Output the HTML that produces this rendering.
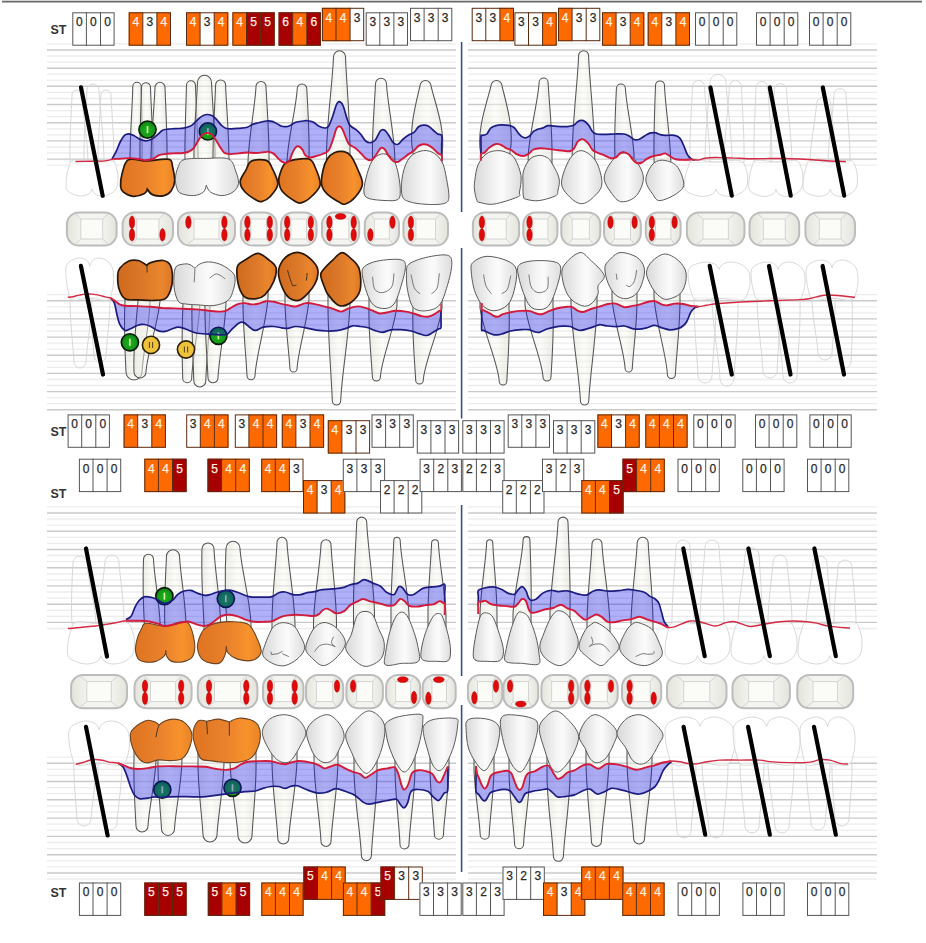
<!DOCTYPE html>
<html><head><meta charset="utf-8"><title>Periodontal chart</title>
<style>html,body{margin:0;padding:0;background:#fff;width:926px;height:943px;overflow:hidden;font-family:"Liberation Sans",sans-serif;}svg{display:block;}</style>
</head><body>
<svg width="926" height="943" viewBox="0 0 926 943"><defs><linearGradient id="orng" x1="0" y1="0" x2="1" y2="0"><stop offset="0" stop-color="#e07420"/><stop offset="0.45" stop-color="#e8802c"/><stop offset="0.8" stop-color="#f8922c"/><stop offset="1" stop-color="#e88428"/></linearGradient>
<linearGradient id="orng2" x1="0" y1="0" x2="1" y2="0"><stop offset="0" stop-color="#d06a1e"/><stop offset="0.5" stop-color="#dc7a2a"/><stop offset="0.8" stop-color="#ea862c"/><stop offset="1" stop-color="#dc7826"/></linearGradient>
<linearGradient id="whtg" x1="0" y1="0" x2="1" y2="0"><stop offset="0" stop-color="#d8d8d8"/><stop offset="0.45" stop-color="#f5f5f5"/><stop offset="0.6" stop-color="#fbfbfb"/><stop offset="1" stop-color="#dcdcdc"/></linearGradient>
<linearGradient id="rootg" x1="0" y1="0" x2="1" y2="0"><stop offset="0" stop-color="rgb(226,226,216)" stop-opacity="0.6"/><stop offset="0.5" stop-color="rgb(248,248,240)" stop-opacity="0.45"/><stop offset="1" stop-color="rgb(224,224,214)" stop-opacity="0.6"/></linearGradient>
<linearGradient id="occg" x1="0" y1="0" x2="1" y2="0"><stop offset="0" stop-color="#e4e4dc"/><stop offset="0.3" stop-color="#f4f4f0"/><stop offset="0.7" stop-color="#f4f4f0"/><stop offset="1" stop-color="#e4e4dc"/></linearGradient>
<radialGradient id="gg" cx="0.5" cy="0.55" r="0.6"><stop offset="0" stop-color="#20b020"/><stop offset="0.6" stop-color="#159a18"/><stop offset="1" stop-color="#0a6a0e"/></radialGradient>
<radialGradient id="tg" cx="0.45" cy="0.4" r="0.6"><stop offset="0" stop-color="#1a8a6a"/><stop offset="1" stop-color="#0a5a4a"/></radialGradient></defs><rect width="926" height="943" fill="#fff"/>
<line x1="2" y1="1.6" x2="922" y2="1.6" stroke="#6a6a6a" stroke-width="1.6"/>
<line x1="2" y1="0.3" x2="922" y2="0.3" stroke="#d0d0d0" stroke-width="0.8"/>
<line x1="47" y1="43.9" x2="456" y2="43.9" stroke="#ececec" stroke-width="1.3"/>
<line x1="468" y1="43.9" x2="877" y2="43.9" stroke="#ececec" stroke-width="1.3"/>
<line x1="47" y1="50" x2="456" y2="50" stroke="#cacaca" stroke-width="1.4"/>
<line x1="468" y1="50" x2="877" y2="50" stroke="#cacaca" stroke-width="1.4"/>
<line x1="47" y1="56" x2="456" y2="56" stroke="#ececec" stroke-width="1.3"/>
<line x1="468" y1="56" x2="877" y2="56" stroke="#ececec" stroke-width="1.3"/>
<line x1="47" y1="62.1" x2="456" y2="62.1" stroke="#ececec" stroke-width="1.3"/>
<line x1="468" y1="62.1" x2="877" y2="62.1" stroke="#ececec" stroke-width="1.3"/>
<line x1="47" y1="68.2" x2="456" y2="68.2" stroke="#cacaca" stroke-width="1.4"/>
<line x1="468" y1="68.2" x2="877" y2="68.2" stroke="#cacaca" stroke-width="1.4"/>
<line x1="47" y1="74.2" x2="456" y2="74.2" stroke="#ececec" stroke-width="1.3"/>
<line x1="468" y1="74.2" x2="877" y2="74.2" stroke="#ececec" stroke-width="1.3"/>
<line x1="47" y1="80.3" x2="456" y2="80.3" stroke="#ececec" stroke-width="1.3"/>
<line x1="468" y1="80.3" x2="877" y2="80.3" stroke="#ececec" stroke-width="1.3"/>
<line x1="47" y1="86.3" x2="456" y2="86.3" stroke="#cacaca" stroke-width="1.4"/>
<line x1="468" y1="86.3" x2="877" y2="86.3" stroke="#cacaca" stroke-width="1.4"/>
<line x1="47" y1="92.4" x2="456" y2="92.4" stroke="#ececec" stroke-width="1.3"/>
<line x1="468" y1="92.4" x2="877" y2="92.4" stroke="#ececec" stroke-width="1.3"/>
<line x1="47" y1="98.5" x2="456" y2="98.5" stroke="#ececec" stroke-width="1.3"/>
<line x1="468" y1="98.5" x2="877" y2="98.5" stroke="#ececec" stroke-width="1.3"/>
<line x1="47" y1="104.5" x2="456" y2="104.5" stroke="#cacaca" stroke-width="1.4"/>
<line x1="468" y1="104.5" x2="877" y2="104.5" stroke="#cacaca" stroke-width="1.4"/>
<line x1="47" y1="110.6" x2="456" y2="110.6" stroke="#ececec" stroke-width="1.3"/>
<line x1="468" y1="110.6" x2="877" y2="110.6" stroke="#ececec" stroke-width="1.3"/>
<line x1="47" y1="116.7" x2="456" y2="116.7" stroke="#ececec" stroke-width="1.3"/>
<line x1="468" y1="116.7" x2="877" y2="116.7" stroke="#ececec" stroke-width="1.3"/>
<line x1="47" y1="122.7" x2="456" y2="122.7" stroke="#cacaca" stroke-width="1.4"/>
<line x1="468" y1="122.7" x2="877" y2="122.7" stroke="#cacaca" stroke-width="1.4"/>
<line x1="47" y1="128.8" x2="456" y2="128.8" stroke="#ececec" stroke-width="1.3"/>
<line x1="468" y1="128.8" x2="877" y2="128.8" stroke="#ececec" stroke-width="1.3"/>
<line x1="47" y1="134.8" x2="456" y2="134.8" stroke="#ececec" stroke-width="1.3"/>
<line x1="468" y1="134.8" x2="877" y2="134.8" stroke="#ececec" stroke-width="1.3"/>
<line x1="47" y1="140.9" x2="456" y2="140.9" stroke="#cacaca" stroke-width="1.4"/>
<line x1="468" y1="140.9" x2="877" y2="140.9" stroke="#cacaca" stroke-width="1.4"/>
<line x1="47" y1="147" x2="456" y2="147" stroke="#ececec" stroke-width="1.3"/>
<line x1="468" y1="147" x2="877" y2="147" stroke="#ececec" stroke-width="1.3"/>
<line x1="47" y1="153" x2="456" y2="153" stroke="#ececec" stroke-width="1.3"/>
<line x1="468" y1="153" x2="877" y2="153" stroke="#ececec" stroke-width="1.3"/>
<line x1="47" y1="159.1" x2="456" y2="159.1" stroke="#cacaca" stroke-width="1.4"/>
<line x1="468" y1="159.1" x2="877" y2="159.1" stroke="#cacaca" stroke-width="1.4"/>
<line x1="47" y1="165.2" x2="456" y2="165.2" stroke="#ececec" stroke-width="1.3"/>
<line x1="468" y1="165.2" x2="877" y2="165.2" stroke="#ececec" stroke-width="1.3"/>
<line x1="47" y1="294.7" x2="456" y2="294.7" stroke="#ececec" stroke-width="1.3"/>
<line x1="468" y1="294.7" x2="877" y2="294.7" stroke="#ececec" stroke-width="1.3"/>
<line x1="47" y1="300.7" x2="456" y2="300.7" stroke="#cacaca" stroke-width="1.4"/>
<line x1="468" y1="300.7" x2="877" y2="300.7" stroke="#cacaca" stroke-width="1.4"/>
<line x1="47" y1="306.8" x2="456" y2="306.8" stroke="#ececec" stroke-width="1.3"/>
<line x1="468" y1="306.8" x2="877" y2="306.8" stroke="#ececec" stroke-width="1.3"/>
<line x1="47" y1="312.8" x2="456" y2="312.8" stroke="#ececec" stroke-width="1.3"/>
<line x1="468" y1="312.8" x2="877" y2="312.8" stroke="#ececec" stroke-width="1.3"/>
<line x1="47" y1="318.9" x2="456" y2="318.9" stroke="#cacaca" stroke-width="1.4"/>
<line x1="468" y1="318.9" x2="877" y2="318.9" stroke="#cacaca" stroke-width="1.4"/>
<line x1="47" y1="325" x2="456" y2="325" stroke="#ececec" stroke-width="1.3"/>
<line x1="468" y1="325" x2="877" y2="325" stroke="#ececec" stroke-width="1.3"/>
<line x1="47" y1="331" x2="456" y2="331" stroke="#ececec" stroke-width="1.3"/>
<line x1="468" y1="331" x2="877" y2="331" stroke="#ececec" stroke-width="1.3"/>
<line x1="47" y1="337.1" x2="456" y2="337.1" stroke="#cacaca" stroke-width="1.4"/>
<line x1="468" y1="337.1" x2="877" y2="337.1" stroke="#cacaca" stroke-width="1.4"/>
<line x1="47" y1="343.1" x2="456" y2="343.1" stroke="#ececec" stroke-width="1.3"/>
<line x1="468" y1="343.1" x2="877" y2="343.1" stroke="#ececec" stroke-width="1.3"/>
<line x1="47" y1="349.2" x2="456" y2="349.2" stroke="#ececec" stroke-width="1.3"/>
<line x1="468" y1="349.2" x2="877" y2="349.2" stroke="#ececec" stroke-width="1.3"/>
<line x1="47" y1="355.2" x2="456" y2="355.2" stroke="#cacaca" stroke-width="1.4"/>
<line x1="468" y1="355.2" x2="877" y2="355.2" stroke="#cacaca" stroke-width="1.4"/>
<line x1="47" y1="361.3" x2="456" y2="361.3" stroke="#ececec" stroke-width="1.3"/>
<line x1="468" y1="361.3" x2="877" y2="361.3" stroke="#ececec" stroke-width="1.3"/>
<line x1="47" y1="367.3" x2="456" y2="367.3" stroke="#ececec" stroke-width="1.3"/>
<line x1="468" y1="367.3" x2="877" y2="367.3" stroke="#ececec" stroke-width="1.3"/>
<line x1="47" y1="373.4" x2="456" y2="373.4" stroke="#cacaca" stroke-width="1.4"/>
<line x1="468" y1="373.4" x2="877" y2="373.4" stroke="#cacaca" stroke-width="1.4"/>
<line x1="47" y1="379.5" x2="456" y2="379.5" stroke="#ececec" stroke-width="1.3"/>
<line x1="468" y1="379.5" x2="877" y2="379.5" stroke="#ececec" stroke-width="1.3"/>
<line x1="47" y1="385.5" x2="456" y2="385.5" stroke="#ececec" stroke-width="1.3"/>
<line x1="468" y1="385.5" x2="877" y2="385.5" stroke="#ececec" stroke-width="1.3"/>
<line x1="47" y1="391.6" x2="456" y2="391.6" stroke="#cacaca" stroke-width="1.4"/>
<line x1="468" y1="391.6" x2="877" y2="391.6" stroke="#cacaca" stroke-width="1.4"/>
<line x1="47" y1="397.6" x2="456" y2="397.6" stroke="#ececec" stroke-width="1.3"/>
<line x1="468" y1="397.6" x2="877" y2="397.6" stroke="#ececec" stroke-width="1.3"/>
<line x1="47" y1="403.7" x2="456" y2="403.7" stroke="#ececec" stroke-width="1.3"/>
<line x1="468" y1="403.7" x2="877" y2="403.7" stroke="#ececec" stroke-width="1.3"/>
<line x1="47" y1="409.7" x2="456" y2="409.7" stroke="#cacaca" stroke-width="1.4"/>
<line x1="468" y1="409.7" x2="877" y2="409.7" stroke="#cacaca" stroke-width="1.4"/>
<line x1="47" y1="506.9" x2="456" y2="506.9" stroke="#ececec" stroke-width="1.3"/>
<line x1="468" y1="506.9" x2="877" y2="506.9" stroke="#ececec" stroke-width="1.3"/>
<line x1="47" y1="513" x2="456" y2="513" stroke="#cacaca" stroke-width="1.4"/>
<line x1="468" y1="513" x2="877" y2="513" stroke="#cacaca" stroke-width="1.4"/>
<line x1="47" y1="519.1" x2="456" y2="519.1" stroke="#ececec" stroke-width="1.3"/>
<line x1="468" y1="519.1" x2="877" y2="519.1" stroke="#ececec" stroke-width="1.3"/>
<line x1="47" y1="525.1" x2="456" y2="525.1" stroke="#ececec" stroke-width="1.3"/>
<line x1="468" y1="525.1" x2="877" y2="525.1" stroke="#ececec" stroke-width="1.3"/>
<line x1="47" y1="531.2" x2="456" y2="531.2" stroke="#cacaca" stroke-width="1.4"/>
<line x1="468" y1="531.2" x2="877" y2="531.2" stroke="#cacaca" stroke-width="1.4"/>
<line x1="47" y1="537.3" x2="456" y2="537.3" stroke="#ececec" stroke-width="1.3"/>
<line x1="468" y1="537.3" x2="877" y2="537.3" stroke="#ececec" stroke-width="1.3"/>
<line x1="47" y1="543.4" x2="456" y2="543.4" stroke="#ececec" stroke-width="1.3"/>
<line x1="468" y1="543.4" x2="877" y2="543.4" stroke="#ececec" stroke-width="1.3"/>
<line x1="47" y1="549.5" x2="456" y2="549.5" stroke="#cacaca" stroke-width="1.4"/>
<line x1="468" y1="549.5" x2="877" y2="549.5" stroke="#cacaca" stroke-width="1.4"/>
<line x1="47" y1="555.5" x2="456" y2="555.5" stroke="#ececec" stroke-width="1.3"/>
<line x1="468" y1="555.5" x2="877" y2="555.5" stroke="#ececec" stroke-width="1.3"/>
<line x1="47" y1="561.6" x2="456" y2="561.6" stroke="#ececec" stroke-width="1.3"/>
<line x1="468" y1="561.6" x2="877" y2="561.6" stroke="#ececec" stroke-width="1.3"/>
<line x1="47" y1="567.7" x2="456" y2="567.7" stroke="#cacaca" stroke-width="1.4"/>
<line x1="468" y1="567.7" x2="877" y2="567.7" stroke="#cacaca" stroke-width="1.4"/>
<line x1="47" y1="573.8" x2="456" y2="573.8" stroke="#ececec" stroke-width="1.3"/>
<line x1="468" y1="573.8" x2="877" y2="573.8" stroke="#ececec" stroke-width="1.3"/>
<line x1="47" y1="579.9" x2="456" y2="579.9" stroke="#ececec" stroke-width="1.3"/>
<line x1="468" y1="579.9" x2="877" y2="579.9" stroke="#ececec" stroke-width="1.3"/>
<line x1="47" y1="585.9" x2="456" y2="585.9" stroke="#cacaca" stroke-width="1.4"/>
<line x1="468" y1="585.9" x2="877" y2="585.9" stroke="#cacaca" stroke-width="1.4"/>
<line x1="47" y1="592" x2="456" y2="592" stroke="#ececec" stroke-width="1.3"/>
<line x1="468" y1="592" x2="877" y2="592" stroke="#ececec" stroke-width="1.3"/>
<line x1="47" y1="598.1" x2="456" y2="598.1" stroke="#ececec" stroke-width="1.3"/>
<line x1="468" y1="598.1" x2="877" y2="598.1" stroke="#ececec" stroke-width="1.3"/>
<line x1="47" y1="604.2" x2="456" y2="604.2" stroke="#cacaca" stroke-width="1.4"/>
<line x1="468" y1="604.2" x2="877" y2="604.2" stroke="#cacaca" stroke-width="1.4"/>
<line x1="47" y1="610.3" x2="456" y2="610.3" stroke="#ececec" stroke-width="1.3"/>
<line x1="468" y1="610.3" x2="877" y2="610.3" stroke="#ececec" stroke-width="1.3"/>
<line x1="47" y1="616.3" x2="456" y2="616.3" stroke="#ececec" stroke-width="1.3"/>
<line x1="468" y1="616.3" x2="877" y2="616.3" stroke="#ececec" stroke-width="1.3"/>
<line x1="47" y1="622.4" x2="456" y2="622.4" stroke="#cacaca" stroke-width="1.4"/>
<line x1="468" y1="622.4" x2="877" y2="622.4" stroke="#cacaca" stroke-width="1.4"/>
<line x1="47" y1="628.5" x2="456" y2="628.5" stroke="#ececec" stroke-width="1.3"/>
<line x1="468" y1="628.5" x2="877" y2="628.5" stroke="#ececec" stroke-width="1.3"/>
<line x1="47" y1="757.1" x2="456" y2="757.1" stroke="#ececec" stroke-width="1.3"/>
<line x1="468" y1="757.1" x2="877" y2="757.1" stroke="#ececec" stroke-width="1.3"/>
<line x1="47" y1="763.2" x2="456" y2="763.2" stroke="#cacaca" stroke-width="1.4"/>
<line x1="468" y1="763.2" x2="877" y2="763.2" stroke="#cacaca" stroke-width="1.4"/>
<line x1="47" y1="769.3" x2="456" y2="769.3" stroke="#ececec" stroke-width="1.3"/>
<line x1="468" y1="769.3" x2="877" y2="769.3" stroke="#ececec" stroke-width="1.3"/>
<line x1="47" y1="775.4" x2="456" y2="775.4" stroke="#ececec" stroke-width="1.3"/>
<line x1="468" y1="775.4" x2="877" y2="775.4" stroke="#ececec" stroke-width="1.3"/>
<line x1="47" y1="781.5" x2="456" y2="781.5" stroke="#cacaca" stroke-width="1.4"/>
<line x1="468" y1="781.5" x2="877" y2="781.5" stroke="#cacaca" stroke-width="1.4"/>
<line x1="47" y1="787.6" x2="456" y2="787.6" stroke="#ececec" stroke-width="1.3"/>
<line x1="468" y1="787.6" x2="877" y2="787.6" stroke="#ececec" stroke-width="1.3"/>
<line x1="47" y1="793.7" x2="456" y2="793.7" stroke="#ececec" stroke-width="1.3"/>
<line x1="468" y1="793.7" x2="877" y2="793.7" stroke="#ececec" stroke-width="1.3"/>
<line x1="47" y1="799.8" x2="456" y2="799.8" stroke="#cacaca" stroke-width="1.4"/>
<line x1="468" y1="799.8" x2="877" y2="799.8" stroke="#cacaca" stroke-width="1.4"/>
<line x1="47" y1="805.9" x2="456" y2="805.9" stroke="#ececec" stroke-width="1.3"/>
<line x1="468" y1="805.9" x2="877" y2="805.9" stroke="#ececec" stroke-width="1.3"/>
<line x1="47" y1="812" x2="456" y2="812" stroke="#ececec" stroke-width="1.3"/>
<line x1="468" y1="812" x2="877" y2="812" stroke="#ececec" stroke-width="1.3"/>
<line x1="47" y1="818.1" x2="456" y2="818.1" stroke="#cacaca" stroke-width="1.4"/>
<line x1="468" y1="818.1" x2="877" y2="818.1" stroke="#cacaca" stroke-width="1.4"/>
<line x1="47" y1="824.2" x2="456" y2="824.2" stroke="#ececec" stroke-width="1.3"/>
<line x1="468" y1="824.2" x2="877" y2="824.2" stroke="#ececec" stroke-width="1.3"/>
<line x1="47" y1="830.3" x2="456" y2="830.3" stroke="#ececec" stroke-width="1.3"/>
<line x1="468" y1="830.3" x2="877" y2="830.3" stroke="#ececec" stroke-width="1.3"/>
<line x1="47" y1="836.4" x2="456" y2="836.4" stroke="#cacaca" stroke-width="1.4"/>
<line x1="468" y1="836.4" x2="877" y2="836.4" stroke="#cacaca" stroke-width="1.4"/>
<line x1="47" y1="842.5" x2="456" y2="842.5" stroke="#ececec" stroke-width="1.3"/>
<line x1="468" y1="842.5" x2="877" y2="842.5" stroke="#ececec" stroke-width="1.3"/>
<line x1="47" y1="848.6" x2="456" y2="848.6" stroke="#ececec" stroke-width="1.3"/>
<line x1="468" y1="848.6" x2="877" y2="848.6" stroke="#ececec" stroke-width="1.3"/>
<line x1="47" y1="854.7" x2="456" y2="854.7" stroke="#cacaca" stroke-width="1.4"/>
<line x1="468" y1="854.7" x2="877" y2="854.7" stroke="#cacaca" stroke-width="1.4"/>
<line x1="47" y1="860.8" x2="456" y2="860.8" stroke="#ececec" stroke-width="1.3"/>
<line x1="468" y1="860.8" x2="877" y2="860.8" stroke="#ececec" stroke-width="1.3"/>
<line x1="47" y1="866.9" x2="456" y2="866.9" stroke="#ececec" stroke-width="1.3"/>
<line x1="468" y1="866.9" x2="877" y2="866.9" stroke="#ececec" stroke-width="1.3"/>
<line x1="47" y1="873" x2="456" y2="873" stroke="#cacaca" stroke-width="1.4"/>
<line x1="468" y1="873" x2="877" y2="873" stroke="#cacaca" stroke-width="1.4"/>
<line x1="47" y1="879.1" x2="456" y2="879.1" stroke="#ececec" stroke-width="1.3"/>
<line x1="468" y1="879.1" x2="877" y2="879.1" stroke="#ececec" stroke-width="1.3"/>
<line x1="461.6" y1="42" x2="461.6" y2="212" stroke="#34508a" stroke-width="1.6"/>
<line x1="461.6" y1="248" x2="461.6" y2="418.5" stroke="#34508a" stroke-width="1.6"/>
<line x1="461.6" y1="505" x2="461.6" y2="676" stroke="#34508a" stroke-width="1.6"/>
<line x1="461.6" y1="705" x2="461.6" y2="872" stroke="#34508a" stroke-width="1.6"/>
<path d="M70 162 L70 162 C69.4 139.9 71.4 111.8 72 95 A5 5 0 0 1 82 95 C82.6 111.8 87.6 139.9 88 162 L88 162 Z" fill="none" stroke="#d4d4d4" stroke-width="0.9"/><path d="M84 162 L84 162 C83.5 138.2 86.3 108 87 90 A6 6 0 0 1 99 90 C99.7 108 104 138.2 104 162 L104 162 Z" fill="none" stroke="#d4d4d4" stroke-width="0.9"/><path d="M98 162 L98 162 C97.8 139.9 100.4 111.8 101 95 A5 5 0 0 1 111 95 C111.6 111.8 114.2 139.9 114 162 L114 162 Z" fill="none" stroke="#d4d4d4" stroke-width="0.9"/>
<path d="M73.3 160 C77.2 158.9 85.7 161.4 92 161.4 C98.3 161.4 107.2 158.9 111.2 160 C115.3 161.1 115.3 164.9 116.4 167.9 C117.6 170.9 118 174.6 118 178 C118 181.4 117.8 185.4 116.4 188.1 C115.1 190.8 112.2 192.9 109.7 194.2 C107.2 195.5 103.9 196.1 101.4 196 C98.8 195.9 96.2 194.7 94.6 193.5 C93 192.3 92 188.8 92 188.8 C92 188.8 91.1 192.3 89.4 193.5 C87.7 194.7 84.5 195.9 81.6 196 C78.7 196.1 74.8 195 72.2 193.8 C69.7 192.6 67.5 191.4 66.5 188.8 C65.6 186.2 66.2 181.5 66.5 178 C66.9 174.5 67.5 170.9 68.6 167.9 C69.7 164.9 69.4 161.1 73.3 160 Z" fill="rgba(255,255,255,0.6)" stroke="#d4d4d4" stroke-width="0.9"/>
<path d="M690 162.5 L690 162.5 C689.4 137.4 691.8 105.5 692.5 86.5 A6 6 0 0 1 704.5 86.5 C705.2 105.5 709.8 137.4 710 162.5 L710 162.5 Z" fill="none" stroke="#d4d4d4" stroke-width="0.9"/><path d="M705 162.5 L705 162.5 C704.6 136.1 709 102.4 710 82.4 A8 8 0 0 1 726 82.4 C727 102.4 732.1 136.1 732 162.5 L732 162.5 Z" fill="none" stroke="#d4d4d4" stroke-width="0.9"/><path d="M724 162.5 L724 162.5 C724.1 137.4 728.7 105.5 729.4 86.5 A6 6 0 0 1 741.4 86.5 C742.1 105.5 744.6 137.4 744 162.5 L744 162.5 Z" fill="none" stroke="#d4d4d4" stroke-width="0.9"/>
<path d="M693.3 160.5 C698.1 159.4 708.4 161.9 716.1 161.9 C723.8 161.9 734.5 159.4 739.5 160.5 C744.4 161.6 744.4 165.4 745.8 168.4 C747.2 171.4 747.7 175.1 747.7 178.4 C747.7 181.8 747.5 185.8 745.8 188.5 C744.1 191.2 740.6 193.3 737.6 194.6 C734.5 195.9 730.5 196.5 727.5 196.4 C724.4 196.3 721.2 195.1 719.3 193.9 C717.4 192.7 716.1 189.2 716.1 189.2 C716.1 189.2 715 192.7 712.9 193.9 C710.8 195.1 706.9 196.3 703.5 196.4 C700 196.5 695.1 195.4 692.1 194.2 C689 193 686.3 191.9 685.1 189.2 C684 186.6 684.7 181.9 685.1 178.4 C685.6 175 686.3 171.4 687.7 168.4 C689 165.4 688.6 161.6 693.3 160.5 Z" fill="rgba(255,255,255,0.6)" stroke="#d4d4d4" stroke-width="0.9"/>
<path d="M754 162.5 L754 162.5 C753.4 137.8 755.4 106.2 756 87.5 A6 6 0 0 1 768 87.5 C768.6 106.2 772.1 137.8 772 162.5 L772 162.5 Z" fill="none" stroke="#d4d4d4" stroke-width="0.9"/><path d="M770 162.5 L770 162.5 C769.8 138.4 773.7 107.8 774.5 89.6 A6 6 0 0 1 786.5 89.6 C787.3 107.8 791.9 138.4 792 162.5 L792 162.5 Z" fill="none" stroke="#d4d4d4" stroke-width="0.9"/>
<path d="M756.3 160.5 C760.4 159.4 769.2 161.9 775.9 161.9 C782.5 161.9 791.7 159.4 795.9 160.5 C800.2 161.6 800.2 165.4 801.4 168.4 C802.5 171.4 803 175.1 803 178.4 C803 181.8 802.8 185.8 801.4 188.5 C799.9 191.2 796.9 193.3 794.3 194.6 C791.7 195.9 788.2 196.5 785.6 196.4 C783 196.3 780.2 195.1 778.6 193.9 C776.9 192.7 775.9 189.2 775.9 189.2 C775.9 189.2 774.9 192.7 773.1 193.9 C771.3 195.1 768 196.3 765 196.4 C762 196.5 757.8 195.4 755.2 194.2 C752.6 193 750.2 191.9 749.2 189.2 C748.2 186.6 748.9 181.9 749.2 178.4 C749.6 175 750.2 171.4 751.4 168.4 C752.6 165.4 752.2 161.6 756.3 160.5 Z" fill="rgba(255,255,255,0.6)" stroke="#d4d4d4" stroke-width="0.9"/>
<path d="M810 162.5 L810 162.5 C810.1 143.2 815.7 118.6 816.6 104 A7 7 0 0 1 830.6 104 C831.5 118.6 836.2 143.2 836 162.5 L836 162.5 Z" fill="none" stroke="#d4d4d4" stroke-width="0.9"/><path d="M828 162.5 L828 162.5 C828.2 140.1 833.2 111.7 834 94.7 A6 6 0 0 1 846 94.7 C846.8 111.7 850.3 140.1 850 162.5 L850 162.5 Z" fill="none" stroke="#d4d4d4" stroke-width="0.9"/>
<path d="M810.6 160.5 C814.7 159.4 823.6 161.9 830.2 161.9 C836.9 161.9 846.1 159.4 850.4 160.5 C854.7 161.6 854.7 165.4 855.9 168.4 C857 171.4 857.5 175.1 857.5 178.4 C857.5 181.8 857.3 185.8 855.9 188.5 C854.4 191.2 851.4 193.3 848.8 194.6 C846.1 195.9 842.7 196.5 840.1 196.4 C837.4 196.3 834.6 195.1 833 193.9 C831.3 192.7 830.2 189.2 830.2 189.2 C830.2 189.2 829.3 192.7 827.5 193.9 C825.7 195.1 822.3 196.3 819.4 196.4 C816.4 196.5 812.2 195.4 809.5 194.2 C806.9 193 804.5 191.9 803.5 189.2 C802.5 186.6 803.2 181.9 803.5 178.4 C803.9 175 804.5 171.4 805.7 168.4 C806.9 165.4 806.5 161.6 810.6 160.5 Z" fill="rgba(255,255,255,0.6)" stroke="#d4d4d4" stroke-width="0.9"/>
<path d="M130 175.9 L130 160.8 C130 136.3 132.4 105.1 132.8 86.5 A4.2 4.2 0 0 1 141.2 86.5 C141.6 105.1 142.5 136.3 142 160.8 L142 175.9 Z" fill="url(#rootg)" stroke="#555" stroke-width="1.05"/><path d="M140 175.9 L140 160.8 C139.6 136.5 141 105.6 141.5 87.2 A4.5 4.5 0 0 1 150.5 87.2 C151 105.6 153.2 136.5 153 160.8 L153 175.9 Z" fill="url(#rootg)" stroke="#555" stroke-width="1.05"/><path d="M151 175.9 L151 160.8 C151 136.5 154.4 105.7 155 87.3 A5 5 0 0 1 165 87.3 C165.6 105.7 167.5 136.5 167 160.8 L167 175.9 Z" fill="url(#rootg)" stroke="#555" stroke-width="1.05"/>
<path d="M185 175.8 L185 160.8 C184.6 135.9 186 104.2 186.5 85.3 A4.5 4.5 0 0 1 195.5 85.3 C196 104.2 198.2 135.9 198 160.8 L198 175.8 Z" fill="url(#rootg)" stroke="#555" stroke-width="1.05"/><path d="M194 175.8 L194 160.8 C193.6 134.9 196.7 101.9 197.5 82.3 A7 7 0 0 1 211.5 82.3 C212.3 101.9 215.4 134.9 215 160.8 L215 175.8 Z" fill="url(#rootg)" stroke="#555" stroke-width="1.05"/><path d="M213 175.8 L213 160.8 C212.7 135.8 215 103.9 215.6 84.9 A5 5 0 0 1 225.6 84.9 C226.2 103.9 229.1 135.8 229 160.8 L229 175.8 Z" fill="url(#rootg)" stroke="#555" stroke-width="1.05"/>
<path d="M248 178.7 L248 162 C248.7 137.1 255.2 105.4 256 86.5 A5 5 0 0 1 266 86.5 C266.8 105.4 269.5 137.1 269 162 L269 178.7 Z" fill="url(#rootg)" stroke="#555" stroke-width="1.05"/>
<path d="M287 179.1 L287 160.8 C288.2 137 296.4 106.7 297.2 88.7 A4.8 4.8 0 0 1 306.8 88.7 C307.6 106.7 309.8 137 309 160.8 L309 179.1 Z" fill="url(#rootg)" stroke="#555" stroke-width="1.05"/>
<path d="M326.5 175.7 L326.5 153.7 C326.8 121.7 332.7 81 333.5 56.8 A6 6 0 0 1 345.5 56.8 C346.3 81 350.3 121.7 350 153.7 L350 175.7 Z" fill="url(#rootg)" stroke="#555" stroke-width="1.05"/>
<path d="M372.5 175.2 L372.5 157 C371.9 132.8 374.7 102.1 375.5 83.8 A5.5 5.5 0 0 1 386.5 83.8 C387.3 102.1 394.1 132.8 394.8 157 L394.8 175.2 Z" fill="url(#rootg)" stroke="#555" stroke-width="1.05"/>
<path d="M413 174.6 L413 152.5 C408.2 130.5 416.1 102.6 420 85.9 A5.5 5.5 0 0 1 431 85.9 C434.9 102.6 445.8 130.5 442 152.5 L442 174.6 Z" fill="url(#rootg)" stroke="#555" stroke-width="1.05"/>
<path d="M480.5 174.6 L480.5 152 C476.5 130.2 487 102.4 491 85.9 A5.5 5.5 0 0 1 502 85.9 C506 102.4 514.6 130.2 510 152 L510 174.6 Z" fill="url(#rootg)" stroke="#555" stroke-width="1.05"/>
<path d="M528.2 175 L528.2 156 C529.5 131.7 538.2 100.9 539.1 82.5 A4.5 4.5 0 0 1 548.1 82.5 C549 100.9 552.5 131.7 552 156 L552 175 Z" fill="url(#rootg)" stroke="#555" stroke-width="1.05"/>
<path d="M572.2 175.8 L572.2 153.5 C572.5 121.2 577.8 80.2 578.6 55.7 A5 5 0 0 1 588.6 55.7 C589.4 80.2 594.5 121.2 594.7 153.5 L594.7 175.8 Z" fill="url(#rootg)" stroke="#555" stroke-width="1.05"/>
<path d="M614.9 175.1 L614.9 155 C614.1 133.1 615.7 105.1 616.4 88.5 A4.5 4.5 0 0 1 625.4 88.5 C626.1 105.1 633 133.1 634 155 L634 175.1 Z" fill="url(#rootg)" stroke="#555" stroke-width="1.05"/>
<path d="M654.1 177.8 L654.1 161 C653.4 136.1 654.9 104.3 655.5 85.4 A4.5 4.5 0 0 1 664.5 85.4 C665.1 104.3 670.2 136.1 670.8 161 L670.8 177.8 Z" fill="url(#rootg)" stroke="#555" stroke-width="1.05"/>
<circle cx="147.5" cy="129.6" r="8.6" fill="url(#gg)" stroke="#0a1a0a" stroke-width="1.6"/><line x1="147.5" y1="126.1" x2="147.5" y2="133.1" stroke="#d8f0a0" stroke-width="1.6"/>
<circle cx="207.9" cy="131.4" r="8.6" fill="url(#gg)" stroke="#0a1a0a" stroke-width="1.6"/><line x1="207.9" y1="127.9" x2="207.9" y2="134.9" stroke="#d8f0a0" stroke-width="1.6"/>
<path d="M112 159 C112.7 157.7 114.8 154.2 116.2 151.3 C117.6 148.4 119 144.2 120.4 141.5 C121.8 138.8 123.3 136.5 124.7 135.2 C126.1 133.9 127.3 133.7 128.9 133.8 C130.5 133.9 132.6 135 134.5 135.9 C136.4 136.8 138.2 138.6 140.1 139.4 C142 140.2 143.8 140.8 145.7 140.8 C147.6 140.8 149.4 140.3 151.3 139.4 C153.2 138.5 155.1 136.7 157 135.2 C158.9 133.7 160.7 131.3 162.6 130.3 C164.5 129.3 166.1 129.4 168.2 129.1 C170.3 128.8 172.6 128.8 175.2 128.6 C177.8 128.4 181 128.6 183.6 128.2 C186.2 127.8 188.7 127 190.6 126.1 C192.5 125.1 193.4 123.8 194.8 122.5 C196.2 121.2 197.7 119.5 199.1 118.3 C200.5 117.1 201.9 116.1 203.3 115.5 C204.7 114.9 205.9 114.4 207.5 114.5 C209.1 114.6 211.5 115.2 213.1 116.2 C214.7 117.2 215.9 118.9 217.3 120.4 C218.7 121.9 220.1 124.1 221.5 125.4 C222.9 126.7 224 127.6 225.7 128.2 C227.3 128.8 229.2 128.9 231.4 128.9 C233.6 128.9 235.9 128.6 238.6 128.3 C241.2 128 245 128 247.3 127.3 C249.6 126.6 250.6 125.2 252.5 124.4 C254.4 123.6 256.2 123.3 258.5 122.7 C260.8 122.1 264 121.2 266.3 121 C268.6 120.8 270.4 120.9 272.3 121.4 C274.2 121.9 275.9 123.2 277.5 124 C279.1 124.8 280.2 125.8 281.8 126.2 C283.4 126.6 285.6 126.8 287 126.6 C288.4 126.4 289.1 126 290.5 125.3 C291.9 124.6 293.6 123 295.7 122.3 C297.8 121.6 301.5 121.3 303.4 121 C305.3 120.7 305.4 120.5 307 120.7 C308.6 120.9 311 121.1 313 122 C315 122.9 317 125.3 319 126.3 C321 127.3 323.4 128 325 128 C326.6 128 327.2 128.3 328.5 126.3 C329.8 124.3 331.5 119.5 332.8 116 C334.1 112.5 335.2 107.4 336.3 105 C337.4 102.6 338.2 101.5 339.3 101.7 C340.4 101.9 342 103.3 343.2 106 C344.4 108.7 345.6 114.4 346.7 117.6 C347.8 120.8 348.4 123.4 350 125.4 C351.6 127.4 354.2 128.3 356 129.7 C357.8 131.1 358.9 132.1 360.5 134 C362.1 135.9 363.9 139.6 365.7 141 C367.4 142.4 369.3 142.9 371 142.7 C372.7 142.4 374.1 141.5 375.7 139.5 C377.3 137.5 379.1 132.4 380.5 130.8 C381.9 129.2 383.1 129.3 384.4 130 C385.7 130.7 386.9 132.7 388.4 134.8 C389.9 136.9 391.6 141.1 393.2 142.7 C394.8 144.3 396.4 144.8 398 144.3 C399.6 143.8 400.9 141.1 402.7 139.5 C404.5 137.9 407.1 136 409 134.8 C410.9 133.6 412.3 133.7 413.9 132.4 C415.5 131.1 417 128 418.6 126.8 C420.2 125.6 421.8 125.3 423.4 125.2 C425 125.1 426.6 125.2 428.2 126 C429.8 126.8 431.4 128.7 433 130 C434.6 131.3 436.2 133.1 437.7 134 C439.1 134.9 441 135.3 441.7 135.6 L441.7 155.4 C441 155 439.1 154.2 437.7 153 C436.2 151.8 434.6 149.6 433 148.3 C431.4 147 429.8 145.8 428.2 145.1 C426.6 144.4 425 144.2 423.4 144.3 C421.8 144.4 420.2 144.8 418.6 145.9 C417 147 415.5 149.4 413.9 150.7 C412.3 152 410.9 152.6 409 153.9 C407.1 155.2 404.5 157.3 402.7 158.6 C400.9 159.9 399.6 161.4 398 161.8 C396.4 162.2 394.8 162.1 393.2 161 C391.6 159.9 389.9 157.4 388.4 155.4 C386.9 153.4 385.7 150.2 384.4 149 C383.1 147.8 381.9 147.2 380.5 148.3 C379.1 149.4 377.3 153.4 375.7 155.4 C374.1 157.4 372.6 159.7 371 160.2 C369.4 160.7 367.6 159.6 366 158.6 C364.4 157.6 363.2 155.7 361.4 153.9 C359.6 152.1 357.3 149.5 355.3 147.9 C353.3 146.3 350.8 146.1 349.2 144.4 C347.6 142.7 346.9 140.1 345.8 137.5 C344.7 134.9 343.4 130.8 342.3 128.9 C341.2 127 340.3 126.3 339.3 126.3 C338.3 126.3 337.4 126.6 336.3 128.9 C335.2 131.2 334.1 136.5 332.8 140.1 C331.5 143.7 330.2 148.2 328.5 150.5 C326.8 152.8 324.4 153.1 322.5 154 C320.6 154.9 319.4 155.1 317.3 155.7 C315.2 156.3 312 157.6 310 157.5 C308 157.4 306.4 156.4 305.2 155.1 C304 153.8 303.6 151.3 302.6 149.9 C301.6 148.5 300.2 146.9 299.1 146.5 C298 146.1 296.9 146.2 295.7 147.3 C294.5 148.5 293.2 151.2 292.2 153.4 C291.2 155.6 290.6 158.7 289.6 160.3 C288.6 161.9 287.5 162.7 286.2 162.9 C284.9 163.1 283.2 162.5 281.8 161.6 C280.4 160.7 278.9 159.1 277.5 157.7 C276.1 156.3 274.8 154.4 273.2 153.4 C271.6 152.4 269.4 151.9 268 151.7 C266.6 151.5 266.6 151.9 264.6 152.1 C262.6 152.3 258.8 152.9 255.9 153 C253 153.1 250.2 152.4 247.3 152.5 C244.4 152.6 241.5 153.1 238.6 153.4 C235.7 153.7 232.3 154.2 229.9 154.1 C227.5 154 225.9 153.9 224.3 152.7 C222.7 151.5 221.5 149.2 220.1 147.1 C218.7 145 217.3 142.2 215.9 140.1 C214.5 138 213.3 135.7 211.7 134.5 C210.1 133.3 207.7 133 206.1 133.1 C204.5 133.2 203.3 133.8 201.9 135.2 C200.5 136.6 199.1 139.3 197.7 141.5 C196.3 143.7 195.1 146.8 193.4 148.5 C191.8 150.2 189.9 151.2 187.8 152 C185.7 152.8 183.4 153 180.8 153.2 C178.2 153.4 175.2 153.2 172.4 153.4 C169.6 153.6 166.3 153.8 164 154.1 C161.7 154.4 160.2 154.7 158.3 155.5 C156.4 156.3 154.8 158.2 152.7 159 C150.6 159.8 148 160.2 145.7 160.2 C143.4 160.2 141.3 159.3 138.7 159 C136.1 158.7 133.1 158.2 130.3 158.1 C127.5 158 124.6 158.4 121.8 158.6 C119 158.8 114.8 158.9 113.4 159 Z" fill="rgba(12,12,240,0.33)"/>
<path d="M481 135.9 C481.3 135.8 482 135.6 483 135.3 C484 135 485.5 135.2 486.8 134 C488.1 132.8 489.2 129.5 490.7 128.1 C492.2 126.7 493.9 126.1 495.9 125.6 C497.8 125.1 500.2 125 502.4 124.9 C504.6 124.9 507 124.9 508.9 125.3 C510.8 125.7 512.5 126.3 514 127.5 C515.5 128.7 516.7 131.2 518 132.7 C519.3 134.2 520.5 135.7 521.8 136.6 C523.1 137.5 524.4 138 525.7 137.9 C527 137.8 528.3 137 529.6 135.9 C530.9 134.8 532.2 132.5 533.5 131.4 C534.8 130.3 535.9 130 537.4 129.4 C538.9 128.8 540.9 128.7 542.6 128.1 C544.3 127.5 545.9 125.9 547.8 125.6 C549.7 125.3 552.1 126 554.2 126.2 C556.4 126.4 558.5 126.5 560.7 126.6 C562.9 126.7 565 126.8 567.2 126.6 C569.4 126.4 572 126.1 573.7 125.3 C575.4 124.5 576.3 122.5 577.6 121.7 C578.9 120.9 580.1 120.4 581.4 120.4 C582.7 120.4 584 120.8 585.3 121.7 C586.5 122.6 587.6 123.9 588.9 125.6 C590.1 127.3 591.5 130.6 592.8 132 C594.1 133.4 594.8 133.6 596.7 134 C598.6 134.4 601.4 134.4 604.4 134.4 C607.4 134.4 611.5 134.1 614.8 134 C618 133.9 621.5 133.7 623.9 134 C626.3 134.3 627.4 135 629.1 135.9 C630.8 136.8 632.5 138.9 634.2 139.5 C635.9 140.1 637.7 139.8 639.4 139.2 C641.1 138.6 642.9 136.9 644.6 135.9 C646.3 134.9 648.1 133.6 649.8 133.1 C651.5 132.6 653.3 132.4 655 132.7 C656.7 132.9 658.5 134.2 660.2 134.6 C661.9 135 662.9 135.2 665.3 135.3 C667.7 135.4 672 134.9 674.4 135.3 C676.8 135.7 678.1 136.3 679.6 137.9 C681.1 139.5 682.2 142.2 683.5 145 C684.8 147.8 686.1 152.4 687.4 154.7 C688.7 157 690.6 158.3 691.3 159 L691.3 159.5 C690 159.6 686.1 160 683.5 159.9 C680.9 159.8 677.9 159.7 675.7 159.2 C673.5 158.7 672.2 157.7 670.5 156.7 C668.8 155.7 667 153.7 665.3 153.4 C663.6 153.1 662.1 154.3 660.2 154.7 C658.3 155.1 655.9 155.3 653.7 156 C651.5 156.7 649.2 157.5 647.2 158.6 C645.2 159.7 643.7 161.8 642 162.5 C640.3 163.2 638.3 163.5 636.8 163.1 C635.3 162.7 634.3 161.3 633 159.9 C631.7 158.5 630.6 156 629.1 154.7 C627.6 153.4 625.4 152.3 623.9 152.1 C622.4 151.9 621.3 152.5 620 153.4 C618.7 154.3 617.6 156.5 616.1 157.3 C614.6 158.1 612.9 158.5 610.9 158.2 C608.9 157.9 606.5 156.3 604.4 155.4 C602.2 154.5 599.9 153.7 598 152.8 C596.1 151.9 594.3 151.6 592.8 150.2 C591.3 148.8 590.1 145.9 588.9 144.3 C587.6 142.7 586.5 141.3 585.3 140.5 C584 139.7 582.7 139 581.4 139.2 C580.1 139.4 578.9 140.1 577.6 141.7 C576.3 143.3 575 147.3 573.7 148.9 C572.4 150.5 571.5 150.9 569.8 151.2 C568.1 151.5 565.7 151 563.3 150.8 C560.9 150.6 558.1 150.2 555.5 149.9 C552.9 149.6 550.4 149.2 547.8 148.9 C545.2 148.6 542.4 148.1 540 148.2 C537.6 148.3 535.5 148.5 533.5 149.5 C531.5 150.5 530 153 528.3 154.1 C526.6 155.2 525 156 523.1 156 C521.2 156 518.5 155.1 516.6 154.1 C514.7 153.1 513.2 151.2 511.5 150.2 C509.8 149.2 508 149.1 506.3 148.2 C504.6 147.3 502.8 145.7 501.1 145 C499.4 144.3 497.8 143.6 495.9 144 C493.9 144.4 491.3 146.1 489.4 147.6 C487.5 149.1 485.7 151.7 484.3 152.8 C482.9 153.9 481.6 153.9 481 154.1 Z" fill="rgba(12,12,240,0.33)"/>
<path d="M128.3 159.8 C132.3 157.7 141.1 161 145.9 161 C150.7 161 153.1 160.1 157.1 159.8 C161.1 159.6 167.2 158.3 169.8 159.5 C172.4 160.7 171.8 163.2 172.6 166.8 C173.4 170.4 174.9 176.9 174.7 180.9 C174.5 184.9 173 188.2 171.2 190.7 C169.4 193.1 167.1 194.9 164.1 195.6 C161.1 196.3 155.7 195.9 152.9 194.9 C150.1 193.9 147.3 189.3 147.3 189.3 C147.3 189.3 146.8 192.3 144.5 193.5 C142.2 194.7 136.8 196.5 133.3 196.3 C129.8 196.1 125.5 193.7 123.4 192.1 C121.3 190.5 120.8 189.5 120.6 186.5 C120.4 183.5 120.7 178.3 122 173.9 C123.3 169.5 124.3 162 128.3 159.8 Z" fill="url(#orng)" stroke="#2a1808" stroke-width="1.7"/>
<path d="M184.5 159.5 C189.2 158.1 198.9 158.5 206.3 158.4 C213.7 158.3 223.8 157 228.7 159.1 C233.6 161.2 234.1 167 235.7 171.1 C237.3 175.2 239 180.2 238.5 183.7 C238 187.2 235.7 190.1 232.9 192.1 C230.1 194.1 225.4 195.6 221.7 195.6 C218 195.6 213.1 193.8 210.5 192.1 C207.9 190.3 206.3 185.1 206.3 185.1 C206.3 185.1 205.5 190.3 203.4 192.1 C201.3 193.8 197.3 195.4 193.6 195.6 C189.9 195.8 183.8 194.8 181 193.5 C178.2 192.2 177.7 190.5 176.8 187.9 C175.9 185.3 175.2 181.6 175.4 178.1 C175.6 174.6 176.7 169.9 178.2 166.8 C179.7 163.7 179.8 160.9 184.5 159.5 Z" fill="url(#whtg)" stroke="#5a5a5a" stroke-width="1"/>
<path d="M251.4 161.1 C254.8 159.4 262.8 159.3 266.2 160.4 C269.6 161.5 269.9 163.5 271.8 167.5 C273.7 171.5 278.2 179.4 277.8 184.3 C277.4 189.2 272.2 194.2 269.7 197 C267.2 199.8 264.8 200.6 262.7 201.2 C260.6 201.8 260.1 202.2 257 200.5 C253.9 198.8 247.2 194.5 244.4 191.3 C241.6 188.1 240 185 240.2 181.5 C240.4 178 243.9 173.7 245.8 170.3 C247.7 166.9 248 162.8 251.4 161.1 Z" fill="url(#orng)" stroke="#2a1808" stroke-width="1.7"/>
<path d="M285.1 163.3 C287.6 161.1 291 160.4 295 159.7 C299 159 305.7 157.9 309 159 C312.3 160.1 312.7 161.8 314.6 166 C316.5 170.2 320.6 179.4 320.2 184.3 C319.8 189.2 315.5 192.4 312.5 195.5 C309.5 198.6 304.9 201.7 302 202.6 C299.1 203.5 298.3 203.1 295 201.2 C291.7 199.3 285 194.6 282.3 191.3 C279.6 188 279.2 184.5 278.8 181.5 C278.4 178.5 279.1 176.1 280.2 173.1 C281.2 170.1 282.6 165.5 285.1 163.3 Z" fill="url(#orng)" stroke="#2a1808" stroke-width="1.7"/>
<path d="M327.3 159 C329.2 156.1 331.5 153.9 334.3 152.7 C337.1 151.5 341.3 151.1 344.1 151.7 C346.9 152.3 348.8 153.1 351.1 156.2 C353.4 159.3 356.2 165.6 358.1 170.3 C360 175 362.9 179.9 362.4 184.3 C361.9 188.8 358.1 193.7 355.3 197 C352.5 200.3 348.1 203.1 345.5 204 C342.9 204.9 342.9 204.2 339.9 202.6 C336.9 200.9 330.4 197.1 327.3 194.1 C324.2 191.1 322.3 188.3 321.6 184.3 C320.9 180.3 322.1 174.5 323 170.3 C323.9 166.1 325.4 161.9 327.3 159 Z" fill="url(#orng)" stroke="#2a1808" stroke-width="1.7"/>
<path d="M381.2 154 C384.2 153.2 387.7 154.7 390 156 C392.3 157.3 393.4 158.6 394.8 161.8 C396.2 165 397.6 170.2 398.5 175 C399.4 179.8 400.4 186.3 400.3 190.4 C400.2 194.5 400.6 197.8 398 199.5 C395.4 201.2 389.8 200.7 385 200.5 C380.2 200.3 372.8 199.8 369.3 198.6 C365.8 197.3 364.6 196.4 364 193 C363.4 189.6 364.7 183.3 366 178 C367.3 172.7 369.5 165 372 161 C374.5 157 378.2 154.8 381.2 154 Z" fill="url(#whtg)" stroke="#5a5a5a" stroke-width="1"/>
<path d="M423.4 150.6 C427.5 150 431.4 151.6 434.5 153.5 C437.6 155.4 440.1 158.5 442 162 C443.9 165.5 444.6 168.7 445.7 174.5 C446.8 180.3 449.2 192 448.9 196.8 C448.6 201.6 447.8 202.2 444 203.5 C440.2 204.8 431.8 204.6 426 204.3 C420.2 204 413 203.1 409 201.6 C405 200.1 403.1 199.7 402 195.2 C400.9 190.7 401.4 180.9 402.7 174.5 C404 168.1 406.6 161 410 157 C413.4 153 419.3 151.2 423.4 150.6 Z" fill="url(#whtg)" stroke="#5a5a5a" stroke-width="1"/>
<path d="M497.3 150.6 C501 150.4 505.1 151.6 508 153 C510.9 154.4 512.8 155.2 515 159 C517.2 162.8 520.2 170.1 521 175.6 C521.8 181.1 520.1 188.4 519.5 192 C518.9 195.6 521.8 195 517.5 197 C513.2 199 500.1 203.2 493.8 204.1 C487.6 205 482.8 203.1 480 202.5 C477.2 201.9 477.9 202.7 477 200.6 C476.1 198.5 474.9 193.4 474.5 190 C474.1 186.6 474.2 184.6 474.8 180.4 C475.4 176.2 476.1 169.4 478 165 C479.9 160.6 482.8 156.4 486 154 C489.2 151.6 493.6 150.8 497.3 150.6 Z" fill="url(#whtg)" stroke="#5a5a5a" stroke-width="1"/>
<path d="M538.9 155.4 C541.6 155.1 544 156 546 157 C548 158 548.6 157.9 550.8 161.4 C553 164.9 557.8 173.2 559 178 C560.2 182.8 558.6 187 558 190 C557.4 193 558.7 194 555.5 195.8 C552.3 197.6 543.6 200 538.9 200.6 C534.1 201.2 529.6 200.1 527 199.5 C524.4 198.9 524.2 199.4 523.5 197 C522.8 194.6 523 189.3 523 185 C523 180.7 522.3 175.2 523.5 170.9 C524.7 166.6 527.4 161.6 530 159 C532.6 156.4 536.2 155.7 538.9 155.4 Z" fill="url(#whtg)" stroke="#5a5a5a" stroke-width="1"/>
<path d="M581.7 150.7 C586.1 151.1 592.6 155.8 596 161.4 C599.4 167 602.3 178.1 601.9 184 C601.5 189.9 596.9 193.7 593.5 197 C590.1 200.3 585.7 203.7 581.7 203.7 C577.8 203.7 573.2 200.5 569.8 197 C566.4 193.5 561.5 189.1 561.5 182.8 C561.5 176.5 566.4 164.3 569.8 159 C573.2 153.7 577.3 150.3 581.7 150.7 Z" fill="url(#whtg)" stroke="#5a5a5a" stroke-width="1"/>
<path d="M624.4 153 C628.3 153.2 633.1 157.2 636.3 161.4 C639.5 165.6 643.4 172.3 643.4 178 C643.4 183.7 639.9 191.8 636.3 195.8 C632.7 199.8 626 202 622 201.8 C618 201.6 615.6 198.6 612.6 194.6 C609.6 190.6 604.2 183.7 604.2 178 C604.2 172.3 609.2 164.4 612.6 160.2 C616 156 620.5 152.8 624.4 153 Z" fill="url(#whtg)" stroke="#5a5a5a" stroke-width="1"/>
<path d="M662.4 160.2 C666.5 160.4 673.1 162 676.7 166 C680.3 170 683.8 179.4 683.8 184 C683.8 188.6 680.7 190.7 676.7 193.5 C672.7 196.3 664 200.4 660 200.6 C656 200.8 655.4 198 653 194.6 C650.6 191.2 646 185.3 645.8 180.4 C645.6 175.5 649.2 168.4 652 165 C654.8 161.6 658.3 160 662.4 160.2 Z" fill="url(#whtg)" stroke="#5a5a5a" stroke-width="1"/>
<path d="M112 159 C112.7 157.7 114.8 154.2 116.2 151.3 C117.6 148.4 119 144.2 120.4 141.5 C121.8 138.8 123.3 136.5 124.7 135.2 C126.1 133.9 127.3 133.7 128.9 133.8 C130.5 133.9 132.6 135 134.5 135.9 C136.4 136.8 138.2 138.6 140.1 139.4 C142 140.2 143.8 140.8 145.7 140.8 C147.6 140.8 149.4 140.3 151.3 139.4 C153.2 138.5 155.1 136.7 157 135.2 C158.9 133.7 160.7 131.3 162.6 130.3 C164.5 129.3 166.1 129.4 168.2 129.1 C170.3 128.8 172.6 128.8 175.2 128.6 C177.8 128.4 181 128.6 183.6 128.2 C186.2 127.8 188.7 127 190.6 126.1 C192.5 125.1 193.4 123.8 194.8 122.5 C196.2 121.2 197.7 119.5 199.1 118.3 C200.5 117.1 201.9 116.1 203.3 115.5 C204.7 114.9 205.9 114.4 207.5 114.5 C209.1 114.6 211.5 115.2 213.1 116.2 C214.7 117.2 215.9 118.9 217.3 120.4 C218.7 121.9 220.1 124.1 221.5 125.4 C222.9 126.7 224 127.6 225.7 128.2 C227.3 128.8 229.2 128.9 231.4 128.9 C233.6 128.9 235.9 128.6 238.6 128.3 C241.2 128 245 128 247.3 127.3 C249.6 126.6 250.6 125.2 252.5 124.4 C254.4 123.6 256.2 123.3 258.5 122.7 C260.8 122.1 264 121.2 266.3 121 C268.6 120.8 270.4 120.9 272.3 121.4 C274.2 121.9 275.9 123.2 277.5 124 C279.1 124.8 280.2 125.8 281.8 126.2 C283.4 126.6 285.6 126.8 287 126.6 C288.4 126.4 289.1 126 290.5 125.3 C291.9 124.6 293.6 123 295.7 122.3 C297.8 121.6 301.5 121.3 303.4 121 C305.3 120.7 305.4 120.5 307 120.7 C308.6 120.9 311 121.1 313 122 C315 122.9 317 125.3 319 126.3 C321 127.3 323.4 128 325 128 C326.6 128 327.2 128.3 328.5 126.3 C329.8 124.3 331.5 119.5 332.8 116 C334.1 112.5 335.2 107.4 336.3 105 C337.4 102.6 338.2 101.5 339.3 101.7 C340.4 101.9 342 103.3 343.2 106 C344.4 108.7 345.6 114.4 346.7 117.6 C347.8 120.8 348.4 123.4 350 125.4 C351.6 127.4 354.2 128.3 356 129.7 C357.8 131.1 358.9 132.1 360.5 134 C362.1 135.9 363.9 139.6 365.7 141 C367.4 142.4 369.3 142.9 371 142.7 C372.7 142.4 374.1 141.5 375.7 139.5 C377.3 137.5 379.1 132.4 380.5 130.8 C381.9 129.2 383.1 129.3 384.4 130 C385.7 130.7 386.9 132.7 388.4 134.8 C389.9 136.9 391.6 141.1 393.2 142.7 C394.8 144.3 396.4 144.8 398 144.3 C399.6 143.8 400.9 141.1 402.7 139.5 C404.5 137.9 407.1 136 409 134.8 C410.9 133.6 412.3 133.7 413.9 132.4 C415.5 131.1 417 128 418.6 126.8 C420.2 125.6 421.8 125.3 423.4 125.2 C425 125.1 426.6 125.2 428.2 126 C429.8 126.8 431.4 128.7 433 130 C434.6 131.3 436.2 133.1 437.7 134 C439.1 134.9 441 133.8 441.7 135.6 C442.4 137.4 441.7 141.7 441.7 145 C441.7 148.3 441.7 153.7 441.7 155.4" fill="none" stroke="#1c1c80" stroke-width="1.7" stroke-linejoin="round"/>
<path d="M113.4 159 C114.8 158.9 119 158.8 121.8 158.6 C124.6 158.4 127.5 158 130.3 158.1 C133.1 158.2 136.1 158.7 138.7 159 C141.3 159.3 143.4 160.2 145.7 160.2 C148 160.2 150.6 159.8 152.7 159 C154.8 158.2 156.4 156.3 158.3 155.5 C160.2 154.7 161.7 154.4 164 154.1 C166.3 153.8 169.6 153.6 172.4 153.4 C175.2 153.2 178.2 153.4 180.8 153.2 C183.4 153 185.7 152.8 187.8 152 C189.9 151.2 191.8 150.2 193.4 148.5 C195.1 146.8 196.3 143.7 197.7 141.5 C199.1 139.3 200.5 136.6 201.9 135.2 C203.3 133.8 204.5 133.2 206.1 133.1 C207.7 133 210.1 133.3 211.7 134.5 C213.3 135.7 214.5 138 215.9 140.1 C217.3 142.2 218.7 145 220.1 147.1 C221.5 149.2 222.7 151.5 224.3 152.7 C225.9 153.9 227.5 154 229.9 154.1 C232.3 154.2 235.7 153.7 238.6 153.4 C241.5 153.1 244.4 152.6 247.3 152.5 C250.2 152.4 253 153.1 255.9 153 C258.8 152.9 262.6 152.3 264.6 152.1 C266.6 151.9 266.6 151.5 268 151.7 C269.4 151.9 271.6 152.4 273.2 153.4 C274.8 154.4 276.1 156.3 277.5 157.7 C278.9 159.1 280.4 160.7 281.8 161.6 C283.2 162.5 284.9 163.1 286.2 162.9 C287.5 162.7 288.6 161.9 289.6 160.3 C290.6 158.7 291.2 155.6 292.2 153.4 C293.2 151.2 294.5 148.5 295.7 147.3 C296.9 146.2 298 146.1 299.1 146.5 C300.2 146.9 301.6 148.5 302.6 149.9 C303.6 151.3 304 153.8 305.2 155.1 C306.4 156.4 308 157.4 310 157.5 C312 157.6 315.2 156.3 317.3 155.7 C319.4 155.1 320.6 154.9 322.5 154 C324.4 153.1 326.8 152.8 328.5 150.5 C330.2 148.2 331.5 143.7 332.8 140.1 C334.1 136.5 335.2 131.2 336.3 128.9 C337.4 126.6 338.3 126.3 339.3 126.3 C340.3 126.3 341.2 127 342.3 128.9 C343.4 130.8 344.7 134.9 345.8 137.5 C346.9 140.1 347.6 142.7 349.2 144.4 C350.8 146.1 353.3 146.3 355.3 147.9 C357.3 149.5 359.6 152.1 361.4 153.9 C363.2 155.7 364.4 157.6 366 158.6 C367.6 159.6 369.4 160.7 371 160.2 C372.6 159.7 374.1 157.4 375.7 155.4 C377.3 153.4 379.1 149.4 380.5 148.3 C381.9 147.2 383.1 147.8 384.4 149 C385.7 150.2 386.9 153.4 388.4 155.4 C389.9 157.4 391.6 159.9 393.2 161 C394.8 162.1 396.4 162.2 398 161.8 C399.6 161.4 400.9 159.9 402.7 158.6 C404.5 157.3 407.1 155.2 409 153.9 C410.9 152.6 412.3 152 413.9 150.7 C415.5 149.4 417 147 418.6 145.9 C420.2 144.8 421.8 144.4 423.4 144.3 C425 144.2 426.6 144.4 428.2 145.1 C429.8 145.8 431.4 147 433 148.3 C434.6 149.6 436.2 151.8 437.7 153 C439.1 154.2 441 154.1 441.7 155.4 C442.4 156.7 441.7 160.1 441.7 161" fill="none" stroke="#d21a3c" stroke-width="1.9" stroke-linejoin="round"/>
<path d="M75.5 161.5 C77.9 161.5 85.1 161.4 90 161.3 C94.9 161.2 101.1 161.3 105 160.9 C108.9 160.5 112 159.3 113.4 159" fill="none" stroke="#d42a44" stroke-width="1.45" stroke-linejoin="round"/>
<path d="M437.7 153 C438.4 153.4 441 154.1 441.7 155.4 C442.4 156.7 441.7 160.1 441.7 161" fill="none" stroke="#d42a44" stroke-width="1.45" stroke-linejoin="round"/>
<path d="M481 154 C481 152.5 481 148 481 145 C481 142 480.7 137.5 481 135.9 C481.3 134.3 482 135.6 483 135.3 C484 135 485.5 135.2 486.8 134 C488.1 132.8 489.2 129.5 490.7 128.1 C492.2 126.7 493.9 126.1 495.9 125.6 C497.8 125.1 500.2 125 502.4 124.9 C504.6 124.9 507 124.9 508.9 125.3 C510.8 125.7 512.5 126.3 514 127.5 C515.5 128.7 516.7 131.2 518 132.7 C519.3 134.2 520.5 135.7 521.8 136.6 C523.1 137.5 524.4 138 525.7 137.9 C527 137.8 528.3 137 529.6 135.9 C530.9 134.8 532.2 132.5 533.5 131.4 C534.8 130.3 535.9 130 537.4 129.4 C538.9 128.8 540.9 128.7 542.6 128.1 C544.3 127.5 545.9 125.9 547.8 125.6 C549.7 125.3 552.1 126 554.2 126.2 C556.4 126.4 558.5 126.5 560.7 126.6 C562.9 126.7 565 126.8 567.2 126.6 C569.4 126.4 572 126.1 573.7 125.3 C575.4 124.5 576.3 122.5 577.6 121.7 C578.9 120.9 580.1 120.4 581.4 120.4 C582.7 120.4 584 120.8 585.3 121.7 C586.5 122.6 587.6 123.9 588.9 125.6 C590.1 127.3 591.5 130.6 592.8 132 C594.1 133.4 594.8 133.6 596.7 134 C598.6 134.4 601.4 134.4 604.4 134.4 C607.4 134.4 611.5 134.1 614.8 134 C618 133.9 621.5 133.7 623.9 134 C626.3 134.3 627.4 135 629.1 135.9 C630.8 136.8 632.5 138.9 634.2 139.5 C635.9 140.1 637.7 139.8 639.4 139.2 C641.1 138.6 642.9 136.9 644.6 135.9 C646.3 134.9 648.1 133.6 649.8 133.1 C651.5 132.6 653.3 132.4 655 132.7 C656.7 132.9 658.5 134.2 660.2 134.6 C661.9 135 662.9 135.2 665.3 135.3 C667.7 135.4 672 134.9 674.4 135.3 C676.8 135.7 678.1 136.3 679.6 137.9 C681.1 139.5 682.2 142.2 683.5 145 C684.8 147.8 686.1 152.4 687.4 154.7 C688.7 157 690 158.1 691.3 159 C692.6 159.9 694.5 159.8 695.1 159.9" fill="none" stroke="#1c1c80" stroke-width="1.7" stroke-linejoin="round"/>
<path d="M481 160.5 C481 159.4 480.4 155.4 481 154.1 C481.6 152.8 482.9 153.9 484.3 152.8 C485.7 151.7 487.5 149.1 489.4 147.6 C491.3 146.1 493.9 144.4 495.9 144 C497.8 143.6 499.4 144.3 501.1 145 C502.8 145.7 504.6 147.3 506.3 148.2 C508 149.1 509.8 149.2 511.5 150.2 C513.2 151.2 514.7 153.1 516.6 154.1 C518.5 155.1 521.2 156 523.1 156 C525 156 526.6 155.2 528.3 154.1 C530 153 531.5 150.5 533.5 149.5 C535.5 148.5 537.6 148.3 540 148.2 C542.4 148.1 545.2 148.6 547.8 148.9 C550.4 149.2 552.9 149.6 555.5 149.9 C558.1 150.2 560.9 150.6 563.3 150.8 C565.7 151 568.1 151.5 569.8 151.2 C571.5 150.9 572.4 150.5 573.7 148.9 C575 147.3 576.3 143.3 577.6 141.7 C578.9 140.1 580.1 139.4 581.4 139.2 C582.7 139 584 139.7 585.3 140.5 C586.5 141.3 587.6 142.7 588.9 144.3 C590.1 145.9 591.3 148.8 592.8 150.2 C594.3 151.6 596.1 151.9 598 152.8 C599.9 153.7 602.2 154.5 604.4 155.4 C606.5 156.3 608.9 157.9 610.9 158.2 C612.9 158.5 614.6 158.1 616.1 157.3 C617.6 156.5 618.7 154.3 620 153.4 C621.3 152.5 622.4 151.9 623.9 152.1 C625.4 152.3 627.6 153.4 629.1 154.7 C630.6 156 631.7 158.5 633 159.9 C634.3 161.3 635.3 162.7 636.8 163.1 C638.3 163.5 640.3 163.2 642 162.5 C643.7 161.8 645.2 159.7 647.2 158.6 C649.2 157.5 651.5 156.7 653.7 156 C655.9 155.3 658.3 155.1 660.2 154.7 C662.1 154.3 663.6 153.1 665.3 153.4 C667 153.7 668.8 155.7 670.5 156.7 C672.2 157.7 673.5 158.7 675.7 159.2 C677.9 159.7 680.9 159.8 683.5 159.9 C686.1 160 690 159.6 691.3 159.5" fill="none" stroke="#d21a3c" stroke-width="1.9" stroke-linejoin="round"/>
<path d="M481 160.5 C481 159.4 480.4 155.4 481 154.1 C481.6 152.8 483.8 153 484.3 152.8" fill="none" stroke="#d42a44" stroke-width="1.45" stroke-linejoin="round"/>
<path d="M683.5 159.9 C684.8 159.8 688.7 159.5 691.3 159.5 C693.9 159.5 696.7 160.1 699 159.9 C701.3 159.7 702.3 158.6 705 158.2 C707.7 157.8 711.7 157.6 715 157.5 C718.3 157.4 720.8 157.7 725 157.8 C729.2 157.9 735 158.1 740 158.3 C745 158.5 750 158.8 755 158.8 C760 158.8 765 158.6 770 158.5 C775 158.4 780 158.4 785 158.5 C790 158.6 795 158.8 800 159 C805 159.2 810 159.7 815 160 C820 160.3 824.8 160.7 830 161 C835.2 161.3 843.3 161.5 846 161.6" fill="none" stroke="#d42a44" stroke-width="1.45" stroke-linejoin="round"/>
<path d="M70 298 L70 298 C69.7 319.1 73.2 346 74 362 A6 6 0 0 0 86 362 C86.8 346 91.8 319.1 92 298 L92 298 Z" fill="none" stroke="#d4d4d4" stroke-width="0.9"/><path d="M90 298 L90 298 C89.8 317.1 93.3 341.5 94 356 A6 6 0 0 0 106 356 C106.7 341.5 110.2 317.1 110 298 L110 298 Z" fill="none" stroke="#d4d4d4" stroke-width="0.9"/>
<path d="M72.4 300 C76 301.3 83.8 298.3 89.7 298.3 C95.5 298.3 103.6 301.3 107.4 300 C111.1 298.7 111.1 294.3 112.2 290.8 C113.2 287.3 113.6 282.9 113.6 279 C113.6 275.1 113.4 270.4 112.2 267.2 C110.9 264.1 108.3 261.6 105.9 260.1 C103.6 258.6 100.6 257.9 98.3 258 C96 258.1 93.5 259.5 92 260.9 C90.6 262.3 89.7 266.4 89.7 266.4 C89.7 266.4 88.9 262.3 87.3 260.9 C85.7 259.5 82.7 258.1 80.1 258 C77.4 257.9 73.8 259.1 71.4 260.5 C69.1 261.9 67.1 263.3 66.2 266.4 C65.3 269.5 65.9 274.9 66.2 279 C66.5 283.1 67.1 287.3 68.1 290.8 C69.1 294.3 68.8 298.7 72.4 300 Z" fill="rgba(255,255,255,0.6)" stroke="#d4d4d4" stroke-width="0.9"/>
<path d="M694 298 L694 298 C693.7 323.7 697.2 356.5 698 376 A7 7 0 0 0 712 376 C712.8 356.5 716.3 323.7 716 298 L716 298 Z" fill="none" stroke="#d4d4d4" stroke-width="0.9"/><path d="M712 298 L712 298 C712.4 324.7 719.1 358.8 720 379 A7 7 0 0 0 734 379 C734.9 358.8 738.6 324.7 738 298 L738 298 Z" fill="none" stroke="#d4d4d4" stroke-width="0.9"/>
<path d="M696.7 300 C701.3 301.1 711.5 298.5 719 298.5 C726.5 298.5 737.1 301.1 741.9 300 C746.8 298.9 746.8 294.8 748.1 291.6 C749.5 288.5 750 284.5 750 281 C750 277.5 749.8 273.2 748.1 270.4 C746.5 267.5 743.1 265.3 740.1 263.9 C737.1 262.5 733.2 261.9 730.2 262 C727.2 262.1 724 263.4 722.1 264.7 C720.2 265.9 719 269.6 719 269.6 C719 269.6 718 265.9 715.9 264.7 C713.8 263.4 710 262.1 706.6 262 C703.2 261.9 698.4 263 695.4 264.3 C692.4 265.5 689.8 266.8 688.6 269.6 C687.5 272.4 688.2 277.3 688.6 281 C689 284.7 689.8 288.5 691.1 291.6 C692.4 294.8 692 298.9 696.7 300 Z" fill="rgba(255,255,255,0.6)" stroke="#d4d4d4" stroke-width="0.9"/>
<path d="M757 298 L757 298 C757.1 322.1 762.2 352.8 763 371 A7 7 0 0 0 777 371 C777.8 352.8 780.6 322.1 780 298 L780 298 Z" fill="none" stroke="#d4d4d4" stroke-width="0.9"/><path d="M776 298 L776 298 C776.3 323.7 782.1 356.5 783 376 A7 7 0 0 0 797 376 C797.9 356.5 800.7 323.7 800 298 L800 298 Z" fill="none" stroke="#d4d4d4" stroke-width="0.9"/>
<path d="M758.6 300 C762.6 301.1 771.4 298.5 778 298.5 C784.6 298.5 793.8 301.1 798 300 C802.2 298.9 802.2 294.8 803.4 291.6 C804.5 288.5 805 284.5 805 281 C805 277.5 804.8 273.2 803.4 270.4 C801.9 267.5 799 265.3 796.4 263.9 C793.8 262.5 790.3 261.9 787.7 262 C785.1 262.1 782.3 263.4 780.7 264.7 C779.1 265.9 778 269.6 778 269.6 C778 269.6 777.1 265.9 775.3 264.7 C773.5 263.4 770.2 262.1 767.2 262 C764.2 261.9 760.1 263 757.5 264.3 C754.9 265.5 752.5 266.8 751.5 269.6 C750.5 272.4 751.2 277.3 751.5 281 C751.9 284.7 752.5 288.5 753.7 291.6 C754.9 294.8 754.5 298.9 758.6 300 Z" fill="rgba(255,255,255,0.6)" stroke="#d4d4d4" stroke-width="0.9"/>
<path d="M812 298 L812 298 C812.1 316.1 817.2 339.2 818 353 A7 7 0 0 0 832 353 C832.8 339.2 835.6 316.1 835 298 L835 298 Z" fill="none" stroke="#d4d4d4" stroke-width="0.9"/><path d="M830 298 L830 298 C830.9 319.1 838.2 346 839 362 A6 6 0 0 0 851 362 C851.8 346 853.1 319.1 852 298 L852 298 Z" fill="none" stroke="#d4d4d4" stroke-width="0.9"/>
<path d="M813.3 300 C817.2 301.2 825.7 298.4 832 298.4 C838.3 298.4 847.2 301.2 851.2 300 C855.3 298.8 855.3 294.5 856.4 291.2 C857.6 287.9 858 283.7 858 280 C858 276.3 857.8 271.8 856.4 268.8 C855.1 265.8 852.2 263.5 849.7 262 C847.2 260.5 843.9 259.9 841.4 260 C838.8 260.1 836.2 261.5 834.6 262.8 C833 264.1 832 268 832 268 C832 268 831.1 264.1 829.4 262.8 C827.7 261.5 824.5 260.1 821.6 260 C818.7 259.9 814.8 261.1 812.2 262.4 C809.7 263.7 807.5 265.1 806.5 268 C805.6 270.9 806.2 276.1 806.5 280 C806.9 283.9 807.5 287.9 808.6 291.2 C809.7 294.5 809.4 298.8 813.3 300 Z" fill="rgba(255,255,255,0.6)" stroke="#d4d4d4" stroke-width="0.9"/>
<path d="M125 283.6 L125 301.2 C123.8 324.6 125.1 354.3 126 372 A8 8 0 0 0 142 372 C142.9 354.3 149.5 324.6 150 301.2 L150 283.6 Z" fill="url(#rootg)" stroke="#555" stroke-width="1.05"/><path d="M138 283.6 L138 301.2 C135.7 324.6 133.2 354.3 134 372 A6 6 0 0 0 146 372 C146.8 354.3 157.8 324.6 160 301.2 L160 283.6 Z" fill="url(#rootg)" stroke="#555" stroke-width="1.05"/>
<path d="M183 285.1 L183 302.4 C181.9 327.4 182.1 359.3 182.7 378.3 A4.5 4.5 0 0 0 191.7 378.3 C192.3 359.3 198.9 327.4 200 302.4 L200 285.1 Z" fill="url(#rootg)" stroke="#555" stroke-width="1.05"/><path d="M192 285.1 L192 302.4 C191.4 328.3 193.2 361.4 193.8 381 A6 6 0 0 0 205.8 381 C206.4 361.4 210 328.3 210 302.4 L210 285.1 Z" fill="url(#rootg)" stroke="#555" stroke-width="1.05"/><path d="M205 285.1 L205 302.4 C204.5 327.3 207.2 358.9 208 377.8 A5 5 0 0 0 218 377.8 C218.8 358.9 225.3 327.3 226 302.4 L226 285.1 Z" fill="url(#rootg)" stroke="#555" stroke-width="1.05"/>
<path d="M243 279 L243 298 C242.5 323.7 246.1 356.4 247 375.8 A4 4 0 0 0 255 375.8 C255.9 356.4 266.2 323.7 268 298 L268 279 Z" fill="url(#rootg)" stroke="#555" stroke-width="1.05"/>
<path d="M285 278.9 L285 298.7 C284.8 321.7 289 351 289.9 368.4 A3.6 3.6 0 0 0 297.1 368.4 C298 351 307.5 321.7 309 298.7 L309 278.9 Z" fill="url(#rootg)" stroke="#555" stroke-width="1.05"/>
<path d="M328 281.8 L328 304 C327.8 335.9 331.5 376.6 332.3 400.8 A4.2 4.2 0 0 0 340.7 400.8 C341.5 376.6 349 335.9 350 304 L350 281.8 Z" fill="url(#rootg)" stroke="#555" stroke-width="1.05"/>
<path d="M369 285.6 L369 305.2 C368.2 328.9 371.4 359.1 372.4 377 A4 4 0 0 0 380.4 377 C381.4 359.1 394.5 328.9 397 305.2 L397 285.6 Z" fill="url(#rootg)" stroke="#555" stroke-width="1.05"/>
<path d="M413 285.3 L413 307.8 C411.9 331.7 414.7 362.1 415.7 380.2 A3.8 3.8 0 0 0 423.3 380.2 C424.3 362.1 439.1 331.7 442 307.8 L442 285.3 Z" fill="url(#rootg)" stroke="#555" stroke-width="1.05"/>
<path d="M480 285.3 L480 307.8 C483.1 332 498.2 362.9 499.2 381.2 A3.8 3.8 0 0 0 506.8 381.2 C507.8 362.9 510.2 332 509 307.8 L509 285.3 Z" fill="url(#rootg)" stroke="#555" stroke-width="1.05"/>
<path d="M525 286 L525 305.2 C527.8 328.9 542 359.1 543 377 A4 4 0 0 0 551 377 C552 359.1 554.2 328.9 553 305.2 L553 286 Z" fill="url(#rootg)" stroke="#555" stroke-width="1.05"/>
<path d="M571 282.1 L571 304 C571.8 335.9 579.5 376.6 580.4 400.8 A4.2 4.2 0 0 0 588.8 400.8 C589.7 376.6 596.5 335.9 597 304 L597 282.1 Z" fill="url(#rootg)" stroke="#555" stroke-width="1.05"/>
<path d="M612 278.9 L612 298.7 C613.8 321.7 624.2 351 625.1 368.4 A3.6 3.6 0 0 0 632.3 368.4 C633.2 351 637.3 321.7 637 298.7 L637 278.9 Z" fill="url(#rootg)" stroke="#555" stroke-width="1.05"/>
<path d="M654 278.7 L654 297.4 C655.8 322.8 666.5 355.2 667.4 374.5 A4 4 0 0 0 675.4 374.5 C676.3 355.2 680.4 322.8 680 297.4 L680 278.7 Z" fill="url(#rootg)" stroke="#555" stroke-width="1.05"/>
<circle cx="129.9" cy="342.3" r="8.6" fill="url(#gg)" stroke="#0a1a0a" stroke-width="1.6"/><line x1="129.9" y1="338.8" x2="129.9" y2="345.8" stroke="#d8f0a0" stroke-width="1.6"/>
<circle cx="151" cy="344.9" r="8.6" fill="#eec23a" stroke="#2a2008" stroke-width="1.6"/><line x1="149.4" y1="341.9" x2="149.4" y2="347.9" stroke="#5a4a20" stroke-width="1.1"/><line x1="152.6" y1="341.9" x2="152.6" y2="347.9" stroke="#5a4a20" stroke-width="1.1"/>
<circle cx="186" cy="349.5" r="8.6" fill="#eec23a" stroke="#2a2008" stroke-width="1.6"/><line x1="184.4" y1="346.5" x2="184.4" y2="352.5" stroke="#5a4a20" stroke-width="1.1"/><line x1="187.6" y1="346.5" x2="187.6" y2="352.5" stroke="#5a4a20" stroke-width="1.1"/>
<circle cx="218.4" cy="335.8" r="8.6" fill="url(#gg)" stroke="#0a1a0a" stroke-width="1.6"/><line x1="218.4" y1="332.3" x2="218.4" y2="339.3" stroke="#d8f0a0" stroke-width="1.6"/>
<path d="M110.5 298 C111.2 298.4 112.9 299.5 114.4 300.6 C115.9 301.7 117.9 303.5 119.6 304.4 C121.3 305.2 121.8 305.4 124.8 305.7 C127.8 306 133.5 305.9 137.8 306.1 C142.1 306.3 146.4 306.5 150.7 306.8 C155 307.1 160.5 307.9 163.7 308.1 C166.9 308.4 166.8 308.2 170 308.3 C173.2 308.4 178.7 308.5 183 308.7 C187.3 308.9 191.6 309.1 195.9 309.4 C200.2 309.7 205 310.3 208.9 310.7 C212.8 311.1 216.4 311.6 219.2 311.6 C222 311.6 223.5 311.7 225.7 310.9 C227.9 310.1 230 308.2 232.2 307 C234.4 305.8 236.5 304.4 238.7 303.8 C240.9 303.2 243 303 245.2 303.1 C247.3 303.2 249.4 304.3 251.6 304.4 C253.8 304.5 255.7 304.3 258.1 303.8 C260.5 303.3 263.3 301.5 265.9 301.2 C268.5 300.9 271.1 301.4 273.7 301.8 C276.3 302.2 279 303.2 281.4 303.8 C283.8 304.4 285.4 304.7 287.8 305.1 C290.2 305.6 292.6 306.8 295.6 306.5 C298.6 306.2 302.4 303.5 305.9 303.1 C309.3 302.8 313.3 303.8 316.3 304.4 C319.3 304.9 321.5 305.8 324.1 306.4 C326.7 307 329 307.4 331.8 308.3 C334.6 309.2 338.1 311.6 340.9 311.6 C343.7 311.6 345.9 309.2 348.7 308.3 C351.5 307.4 354.8 306.4 357.8 306.4 C360.8 306.4 364.2 307.6 366.8 308.3 C369.4 309.1 371.1 310 373.3 310.9 C375.5 311.8 377.4 313.3 379.8 313.5 C382.2 313.7 385.1 312.8 387.7 312.3 C390.3 311.8 392.6 310.8 395.6 310.7 C398.6 310.6 402.9 311.1 405.9 311.6 C408.9 312.1 411.1 312.8 413.7 313.5 C416.3 314.2 419.1 315.6 421.5 316.1 C423.9 316.6 425.8 317 427.9 316.7 C430 316.4 432.7 315 434.4 314.2 C436.1 313.4 437.2 312.2 438.3 311.6 C439.4 311 440.5 310.5 440.9 310.3 L440.9 327.8 C440.5 328 439.6 328.2 438.3 329 C437 329.8 435.1 331.2 433.1 332.3 C431.2 333.4 429 335.3 426.6 335.5 C424.2 335.7 421.5 334.4 418.9 333.6 C416.3 332.9 414.1 331.6 411.1 331 C408.1 330.4 403.7 329.9 400.7 329.7 C397.7 329.5 395 329.6 393 329.7 C391 329.8 390.7 330 388.9 330.4 C387.1 330.8 384.8 332.3 382.4 332.3 C380 332.3 377 331.1 374.6 330.4 C372.2 329.6 370.5 328.4 368.1 327.8 C365.7 327.2 362.9 326.8 360.3 326.5 C357.7 326.2 355 325.5 352.6 325.8 C350.2 326.1 348.7 327.6 346.1 328.4 C343.5 329.2 340.2 330.2 337 330.6 C333.8 331 330.1 331.1 326.6 331 C323.2 330.9 319.8 330.6 316.3 330.1 C312.9 329.6 309.3 328.4 305.9 327.8 C302.4 327.2 298.6 326.4 295.6 326.5 C292.6 326.6 290.2 328.2 287.8 328.4 C285.4 328.6 283.8 328.1 281.4 327.8 C279 327.5 276.7 326.6 273.7 326.5 C270.7 326.4 266.3 326.5 263.3 327.1 C260.3 327.8 257.7 330.3 255.5 330.4 C253.3 330.5 252.2 329.1 250.3 327.8 C248.4 326.5 245.8 323.4 243.9 322.6 C242 321.8 240.6 322.1 238.7 323.2 C236.8 324.3 234.1 327.2 232.2 329 C230.2 330.8 229.2 333.2 227 334.2 C224.8 335.2 222.2 334.9 219.2 334.9 C216.2 334.9 212.8 334.5 208.9 334.2 C205 333.9 199.8 333.9 195.9 333 C192 332.1 188.5 330 185.5 329 C182.5 328 180.4 327 177.8 327.1 C175.2 327.2 172.4 328.9 170.1 329.7 C167.8 330.5 165.8 331.6 163.7 331.7 C161.5 331.8 159.4 331.3 157.2 330.4 C155 329.5 152.9 327.5 150.7 326.5 C148.5 325.5 146.3 324.7 144.2 324.5 C142 324.3 140.2 324.4 137.8 325.2 C135.4 325.9 132.2 328.1 130 329 C127.8 329.9 126.5 331.2 124.8 330.4 C123.1 329.5 120.9 326.5 119.6 323.9 C118.3 321.3 117.9 318.3 117 314.8 C116.1 311.3 115.5 305.9 114.4 303.1 C113.3 300.3 111.2 298.9 110.5 298 Z" fill="rgba(12,12,240,0.33)"/>
<path d="M481.7 310 C482 310.1 482.5 309.8 483.7 310.3 C484.9 310.8 487.2 311.9 488.9 312.9 C490.6 313.8 492.5 315.4 494 316 C495.5 316.6 496.5 317 498 316.7 C499.5 316.4 500.9 314.9 503 314.2 C505.1 313.4 507.9 312.8 510.7 312.2 C513.5 311.6 516.8 311.1 519.8 310.9 C522.8 310.7 526.1 310.5 528.9 310.9 C531.7 311.3 534.5 312.9 536.6 313.5 C538.8 314.1 539.6 314.6 541.8 314.2 C544 313.8 547 311.9 549.6 310.9 C552.2 309.9 554.8 308.9 557.4 308.3 C560 307.7 562.8 307.2 565.2 307 C567.6 306.8 569.5 306.2 571.6 306.8 C573.8 307.4 576.2 310 578.1 310.9 C580 311.8 581.1 312.3 583.3 312 C585.5 311.7 588.3 309.9 591.1 309 C593.9 308.1 597.3 307.2 600.1 306.4 C602.9 305.6 605.2 304.5 607.8 304 C610.4 303.5 612.8 303.1 615.6 303.6 C618.4 304.1 621.8 306.8 624.6 307.2 C627.4 307.6 630 306.3 632.4 305.9 C634.8 305.5 636.5 305.2 638.9 304.6 C641.3 304 644 302.9 646.6 302.3 C649.2 301.7 651.8 300.6 654.4 301 C657 301.4 660 303.9 662.2 304.6 C664.4 305.3 665.2 305.5 667.4 305.3 C669.6 305.1 672.6 303.8 675.2 303.6 C677.8 303.4 680.3 303.6 682.9 304 C685.5 304.4 688.1 305.5 690.7 305.9 C693.3 306.3 697.2 306.5 698.5 306.6 L698.5 306.6 C697.9 306.8 695.9 306.9 694.6 307.9 C693.3 308.9 692 310.1 690.7 312.4 C689.4 314.7 688.1 319.2 686.8 321.5 C685.5 323.8 684.4 324.8 682.9 326 C681.4 327.2 679.9 328 677.8 328.6 C675.6 329.2 672.6 330 670 329.9 C667.4 329.8 664.8 328.6 662.2 327.9 C659.6 327.1 657 325.4 654.4 325.4 C651.8 325.4 649.2 327.3 646.6 327.9 C644 328.5 641.3 329.1 638.9 329.2 C636.5 329.3 634.8 329.1 632.4 328.6 C630 328.1 627.2 326.3 624.6 326 C622 325.7 619.6 326.6 616.8 326.6 C614 326.6 610.6 326.3 607.8 326 C605 325.7 601.9 324.7 600 324.7 C598.1 324.7 598.2 325.2 596.3 325.8 C594.4 326.4 591.1 327.6 588.5 328.4 C585.9 329.2 582.9 330.3 580.7 330.4 C578.5 330.5 577.2 329.6 575.5 329 C573.8 328.4 572.4 327 570.3 326.5 C568.1 326 565.2 326.1 562.6 326.2 C560 326.3 557.4 326.6 554.8 327.1 C552.2 327.6 549.6 328.1 547 329 C544.4 329.9 541.4 331.9 539.2 332.3 C537.1 332.8 535.8 332.1 534.1 331.7 C532.4 331.3 531.1 330 528.9 329.7 C526.7 329.4 524.1 329.5 521.1 329.7 C518.1 329.9 513.7 330.4 510.7 331 C507.7 331.6 504.8 333 503 333.6 C501.2 334.2 501.5 334.3 500 334.5 C498.5 334.7 495.9 335.1 494 334.9 C492.1 334.6 490.6 333.8 488.9 333 C487.2 332.2 484.9 330.9 483.7 330.4 C482.5 329.9 482 330.1 481.7 330 Z" fill="rgba(12,12,240,0.33)"/>
<path d="M119.8 268.3 C121.6 265.9 125.3 262.5 128.3 261.2 C131.4 259.9 135 259.8 138.1 260.5 C141.2 261.2 146.8 265.4 146.8 265.4 C146.8 265.4 147.9 263.4 150.7 262.6 C153.4 261.8 160 260 163.3 260.5 C166.6 261 168.9 262.5 170.4 265.4 C171.9 268.3 172.5 273.9 172.5 278.1 C172.5 282.3 171.7 287.2 170.4 290.7 C169.1 294.2 167.9 297.5 164.8 299.1 C161.8 300.7 156.6 300.4 152.1 300.5 C147.6 300.6 142.5 300 138.1 299.8 C133.7 299.6 128.6 300.9 125.4 299.1 C122.2 297.4 120.4 293.3 119.1 289.3 C117.8 285.3 117.6 278.8 117.7 275.3 C117.8 271.8 118 270.7 119.8 268.3 Z" fill="url(#orng2)" stroke="#2a1808" stroke-width="1.7"/><path d="M146.9 266 C147 268.5 147.1 270.5 147.2 272.5" fill="none" stroke="#3a2a1a" stroke-width="0.9"/>
<path d="M176 266.8 C177.8 264.4 182.1 264.4 184.4 264 C186.7 263.6 188.2 264 190 264.7 C191.8 265.4 194.9 268.3 194.9 268.3 C194.9 268.3 197.7 265.1 199.9 264 C202.1 262.9 205 261.9 208.3 261.9 C211.6 261.9 216 262.7 219.5 264 C223 265.3 226.7 267.6 229.3 269.7 C231.9 271.8 234.2 273.4 234.9 276.7 C235.6 280 234.7 285.3 233.5 289.3 C232.3 293.3 231.2 297.8 227.9 300.5 C224.6 303.2 219.1 304.8 213.9 305.5 C208.8 306.2 201.7 305.1 197 304.8 C192.3 304.6 188.8 304.5 185.8 304 C182.8 303.5 180.7 304.1 178.8 301.9 C176.9 299.7 175.4 294.7 174.6 290.7 C173.8 286.7 173.7 282.1 173.9 278.1 C174.1 274.1 174.2 269.2 176 266.8 Z" fill="url(#whtg)" stroke="#5a5a5a" stroke-width="1"/><path d="M194.9 268.5 C194.7 273 194.5 278 194.2 282.3" fill="none" stroke="#6a6a6a" stroke-width="0.9"/><path d="M209.7 278.1 C210.9 277.4 214.1 273.8 216.7 273.9 C219.3 274 223.7 278 225.1 278.8" fill="none" stroke="#6a6a6a" stroke-width="0.9"/>
<path d="M258 253.3 C262.1 253.4 267 258.5 270 260.9 C273 263.3 275.5 264.3 276.1 267.7 C276.7 271.1 275.7 276.8 273.8 281.3 C271.9 285.8 267.7 292 264.8 294.9 C261.9 297.8 259.8 298.3 256.5 298.7 C253.2 299.1 248 299.1 245.1 297.2 C242.2 295.3 240.5 291.6 239.1 287.3 C237.7 283 236.9 275.3 236.8 271.5 C236.7 267.7 236.9 266.6 238.3 264.7 C239.7 262.8 241.8 262 245.1 260.1 C248.4 258.2 253.8 253.2 258 253.3 Z" fill="url(#orng2)" stroke="#2a1808" stroke-width="1.7"/>
<path d="M299.5 252.6 C302.8 253.3 307.1 255.8 310.1 258.6 C313.1 261.4 316.9 264.9 317.7 269.2 C318.5 273.5 317.5 279.3 314.7 284.3 C311.9 289.3 305 297 301 299.4 C297 301.8 293.5 300.5 290.5 298.7 C287.5 296.9 284.9 293.2 282.9 288.8 C280.9 284.4 278.4 277 278.4 272.2 C278.4 267.4 280.9 263.1 282.9 260.1 C284.9 257.1 287.7 255.3 290.5 254.1 C293.3 252.8 296.2 251.8 299.5 252.6 Z" fill="url(#orng2)" stroke="#2a1808" stroke-width="1.7"/><path d="M287.5 270 C289 276 291 282 292.7 285.8 C294 286 295.5 285.3 296.5 285" fill="none" stroke="#3a2a1a" stroke-width="0.9"/><path d="M307.1 273 C307 275.5 306.7 278 306.4 280.5" fill="none" stroke="#3a2a1a" stroke-width="0.9"/>
<path d="M341.9 252.6 C344.9 252.3 348.1 255.8 351 258.6 C353.9 261.4 357.8 263.9 359.3 269.2 C360.8 274.5 361.4 284.8 360 290.4 C358.6 295.9 354.5 300 351 302.5 C347.5 305 342.7 306.8 338.9 305.5 C335.1 304.2 330.7 297.9 328.3 294.9 C325.9 291.9 325.8 290.6 324.5 287.3 C323.2 284 320.8 278.2 320.7 275.2 C320.6 272.2 321.7 271.7 323.7 269.2 C325.7 266.7 329.8 262.9 332.8 260.1 C335.8 257.3 338.9 252.8 341.9 252.6 Z" fill="url(#orng2)" stroke="#2a1808" stroke-width="1.7"/>
<path d="M364.5 266.5 C367.1 264.2 372.1 262 378.1 260.9 C384.2 259.8 396.2 258.6 400.8 259.7 C405.4 260.8 405.6 262.6 405.4 267.7 C405.2 272.8 401.6 284.3 399.7 290.4 C397.8 296.4 396.4 301 394 304 C391.6 307 388.4 308.3 385 308.5 C381.6 308.7 376.6 307.8 373.6 305.1 C370.6 302.5 368.7 297.7 366.8 292.6 C364.9 287.5 362.7 278.9 362.3 274.5 C361.9 270.1 361.9 268.8 364.5 266.5 Z" fill="url(#whtg)" stroke="#5a5a5a" stroke-width="1"/><path d="M372.5 276.7 C372.9 278.8 373 286.5 374.7 289.2 C376.4 291.9 379.9 293 382.7 292.6 C385.5 292.2 389.8 290.2 391.7 287 C393.6 283.8 393.6 275.6 394 273.3" fill="none" stroke="#6a6a6a" stroke-width="0.9"/>
<path d="M408.8 264.3 C412 261.5 419.4 259 425.8 257.5 C432.2 256 443 254.1 447.3 255.2 C451.6 256.3 451.8 259.2 451.8 264.3 C451.8 269.4 449.4 279 447.3 285.8 C445.2 292.6 443 300.9 439.4 305.1 C435.8 309.3 430.1 310.4 425.8 310.8 C421.5 311.2 416.3 310.8 413.3 307.4 C410.3 304 408.7 295.9 407.6 290.4 C406.5 284.9 406.3 278.9 406.5 274.5 C406.7 270.1 405.6 267.1 408.8 264.3 Z" fill="url(#whtg)" stroke="#5a5a5a" stroke-width="1"/><path d="M411 274.5 C411.6 276.8 412.9 284.9 414.4 288.1 C415.9 291.3 419.2 292.9 420.1 293.8" fill="none" stroke="#6a6a6a" stroke-width="0.9"/><path d="M439.4 273.3 C439 275.8 438.4 284.7 437.1 288.1 C435.8 291.5 432.3 292.9 431.4 293.8" fill="none" stroke="#6a6a6a" stroke-width="0.9"/>
<path d="M473.4 262 C476 259.7 481.3 256.5 487 256.3 C492.7 256.1 502.5 258.6 507.4 260.9 C512.3 263.2 515.4 265.1 516.5 270 C517.6 274.9 515.7 284.5 514.2 290.4 C512.7 296.2 510.8 301.7 507.4 305.1 C504 308.5 498 310.8 493.8 310.8 C489.6 310.8 485.6 308.5 482.4 305.1 C479.2 301.7 476.4 296.2 474.5 290.4 C472.6 284.5 471.3 274.7 471.1 270 C470.9 265.3 470.8 264.3 473.4 262 Z" fill="url(#whtg)" stroke="#5a5a5a" stroke-width="1"/><path d="M483.6 274.5 C484 276.4 484.6 282.6 485.9 285.8 C487.2 289 490.6 292.5 491.5 293.8" fill="none" stroke="#6a6a6a" stroke-width="0.9"/><path d="M510.8 275.6 C510.2 277.9 508.9 286.2 507.4 289.2 C505.9 292.2 502.6 293 501.7 293.8" fill="none" stroke="#6a6a6a" stroke-width="0.9"/>
<path d="M518.7 265.4 C521 262.8 526.2 261.5 532.3 260.9 C538.3 260.3 550.3 260.5 555 262 C559.7 263.5 560.7 264.9 560.7 270 C560.7 275.1 557.1 286.6 555 292.6 C552.9 298.6 550.9 303.4 548.2 306.2 C545.6 309 542.1 309.6 539.1 309.6 C536.1 309.6 532.7 309 530.1 306.2 C527.5 303.4 525.2 297.5 523.3 292.6 C521.4 287.7 519.5 281.2 518.7 276.7 C517.9 272.2 516.4 268 518.7 265.4 Z" fill="url(#whtg)" stroke="#5a5a5a" stroke-width="1"/><path d="M528.9 274.5 C529.3 276.6 529.7 284 531.2 287 C532.7 290 535.4 292.2 538 292.6 C540.6 293 545.4 291.9 547.1 289.2 C548.8 286.5 548 278.8 548.2 276.7" fill="none" stroke="#6a6a6a" stroke-width="0.9"/>
<path d="M580 252.6 C583.8 252.2 585.8 255.6 589.8 259.4 C593.8 263.2 602.7 270.8 604.1 275.2 C605.5 279.6 599.1 282.8 598.1 285.8 C597.1 288.8 599 290.6 598.1 293.4 C597.2 296.2 595.1 300.4 592.8 302.5 C590.5 304.6 587.8 306.4 584.5 306.2 C581.2 305.9 576.2 303.6 573.1 301 C570 298.4 567.5 295.2 565.6 290.4 C563.7 285.6 561.5 277 561.8 272.2 C562 267.4 564.1 264.9 567.1 261.6 C570.1 258.3 576.2 253 580 252.6 Z" fill="url(#whtg)" stroke="#5a5a5a" stroke-width="1"/>
<path d="M620 252.6 C624.5 252.1 632.6 254.6 636.6 257.1 C640.6 259.6 643.2 263.7 644.2 267.7 C645.2 271.7 644 277 642.7 281.3 C641.4 285.6 639.4 290.5 636.6 293.4 C633.8 296.3 629.6 298.4 626.1 298.7 C622.6 298.9 618.5 297.5 615.5 294.9 C612.5 292.2 609.7 287.3 607.9 282.8 C606.1 278.3 604.6 271.5 604.9 267.7 C605.1 263.9 606.9 262.6 609.4 260.1 C611.9 257.6 615.5 253.1 620 252.6 Z" fill="url(#whtg)" stroke="#5a5a5a" stroke-width="1"/><path d="M616.2 273.7 C616.6 275.7 616.8 277.8 617 279.8" fill="none" stroke="#6a6a6a" stroke-width="0.9"/><path d="M636.6 270 C636 276 635 280 633.6 282.8 C632 285 630.5 286.4 629.1 286.6 C628 286.4 627 285.8 626.1 285" fill="none" stroke="#6a6a6a" stroke-width="0.9"/>
<path d="M663.9 254.1 C667.9 253.6 672.5 256.1 676 258.6 C679.5 261.1 683.4 265.4 685 269.2 C686.6 273 686.5 277.3 685.8 281.3 C685 285.3 683.6 290.4 680.5 293.4 C677.4 296.4 670.7 299.1 666.9 299.4 C663.1 299.6 660.6 297.4 657.8 294.9 C655 292.4 652.2 288.1 650.3 284.3 C648.4 280.5 646.2 276 646.5 272.2 C646.8 268.4 648.9 264.6 651.8 261.6 C654.7 258.6 659.9 254.6 663.9 254.1 Z" fill="url(#whtg)" stroke="#5a5a5a" stroke-width="1"/>
<path d="M110.5 298 C111.2 298.9 113.3 300.3 114.4 303.1 C115.5 305.9 116.1 311.3 117 314.8 C117.9 318.3 118.3 321.3 119.6 323.9 C120.9 326.5 123.1 329.5 124.8 330.4 C126.5 331.2 127.8 329.9 130 329 C132.2 328.1 135.4 325.9 137.8 325.2 C140.2 324.4 142 324.3 144.2 324.5 C146.3 324.7 148.5 325.5 150.7 326.5 C152.9 327.5 155 329.5 157.2 330.4 C159.4 331.3 161.5 331.8 163.7 331.7 C165.8 331.6 167.8 330.5 170.1 329.7 C172.4 328.9 175.2 327.2 177.8 327.1 C180.4 327 182.5 328 185.5 329 C188.5 330 192 332.1 195.9 333 C199.8 333.9 205 333.9 208.9 334.2 C212.8 334.5 216.2 334.9 219.2 334.9 C222.2 334.9 224.8 335.2 227 334.2 C229.2 333.2 230.2 330.8 232.2 329 C234.1 327.2 236.8 324.3 238.7 323.2 C240.6 322.1 242 321.8 243.9 322.6 C245.8 323.4 248.4 326.5 250.3 327.8 C252.2 329.1 253.3 330.5 255.5 330.4 C257.7 330.3 260.3 327.8 263.3 327.1 C266.3 326.5 270.7 326.4 273.7 326.5 C276.7 326.6 279 327.5 281.4 327.8 C283.8 328.1 285.4 328.6 287.8 328.4 C290.2 328.2 292.6 326.6 295.6 326.5 C298.6 326.4 302.4 327.2 305.9 327.8 C309.3 328.4 312.9 329.6 316.3 330.1 C319.8 330.6 323.2 330.9 326.6 331 C330.1 331.1 333.8 331 337 330.6 C340.2 330.2 343.5 329.2 346.1 328.4 C348.7 327.6 350.2 326.1 352.6 325.8 C355 325.5 357.7 326.2 360.3 326.5 C362.9 326.8 365.7 327.2 368.1 327.8 C370.5 328.4 372.2 329.6 374.6 330.4 C377 331.1 380 332.3 382.4 332.3 C384.8 332.3 387.1 330.8 388.9 330.4 C390.7 330 391 329.8 393 329.7 C395 329.6 397.7 329.5 400.7 329.7 C403.7 329.9 408.1 330.4 411.1 331 C414.1 331.6 416.3 332.9 418.9 333.6 C421.5 334.4 424.2 335.7 426.6 335.5 C429 335.3 431.2 333.4 433.1 332.3 C435.1 331.2 437 329.8 438.3 329 C439.6 328.2 440.4 329.5 440.9 327.8 C441.3 326.1 441 321.9 441 319 C441 316.1 441 311.9 441 310.5" fill="none" stroke="#1c1c80" stroke-width="1.7" stroke-linejoin="round"/>
<path d="M110.5 298 C111.2 298.4 112.9 299.5 114.4 300.6 C115.9 301.7 117.9 303.5 119.6 304.4 C121.3 305.2 121.8 305.4 124.8 305.7 C127.8 306 133.5 305.9 137.8 306.1 C142.1 306.3 146.4 306.5 150.7 306.8 C155 307.1 160.5 307.9 163.7 308.1 C166.9 308.4 166.8 308.2 170 308.3 C173.2 308.4 178.7 308.5 183 308.7 C187.3 308.9 191.6 309.1 195.9 309.4 C200.2 309.7 205 310.3 208.9 310.7 C212.8 311.1 216.4 311.6 219.2 311.6 C222 311.6 223.5 311.7 225.7 310.9 C227.9 310.1 230 308.2 232.2 307 C234.4 305.8 236.5 304.4 238.7 303.8 C240.9 303.2 243 303 245.2 303.1 C247.3 303.2 249.4 304.3 251.6 304.4 C253.8 304.5 255.7 304.3 258.1 303.8 C260.5 303.3 263.3 301.5 265.9 301.2 C268.5 300.9 271.1 301.4 273.7 301.8 C276.3 302.2 279 303.2 281.4 303.8 C283.8 304.4 285.4 304.7 287.8 305.1 C290.2 305.6 292.6 306.8 295.6 306.5 C298.6 306.2 302.4 303.5 305.9 303.1 C309.3 302.8 313.3 303.8 316.3 304.4 C319.3 304.9 321.5 305.8 324.1 306.4 C326.7 307 329 307.4 331.8 308.3 C334.6 309.2 338.1 311.6 340.9 311.6 C343.7 311.6 345.9 309.2 348.7 308.3 C351.5 307.4 354.8 306.4 357.8 306.4 C360.8 306.4 364.2 307.6 366.8 308.3 C369.4 309.1 371.1 310 373.3 310.9 C375.5 311.8 377.4 313.3 379.8 313.5 C382.2 313.7 385.1 312.8 387.7 312.3 C390.3 311.8 392.6 310.8 395.6 310.7 C398.6 310.6 402.9 311.1 405.9 311.6 C408.9 312.1 411.1 312.8 413.7 313.5 C416.3 314.2 419.1 315.6 421.5 316.1 C423.9 316.6 425.8 317 427.9 316.7 C430 316.4 432.7 315 434.4 314.2 C436.1 313.4 437.2 312.2 438.3 311.6 C439.4 311 440.5 310.5 440.9 310.3" fill="none" stroke="#d21a3c" stroke-width="1.9" stroke-linejoin="round"/>
<path d="M67.8 297.3 C68.7 297.2 71.1 297.1 73 296.7 C74.9 296.3 77.2 295.5 79.4 295.1 C81.6 294.7 83.7 294.3 85.9 294.1 C88.1 293.9 90.2 293.9 92.4 294.1 C94.6 294.3 96.7 294.6 98.9 295.1 C101.1 295.6 103.5 296.4 105.4 296.9 C107.3 297.4 109 297.4 110.5 298 C112 298.6 113.8 300.2 114.4 300.6" fill="none" stroke="#d42a44" stroke-width="1.45" stroke-linejoin="round"/>
<path d="M438.3 311.6 C438.7 311.4 440.4 311.6 440.9 310.3 C441.3 309 441 304.9 441 303.8" fill="none" stroke="#d42a44" stroke-width="1.45" stroke-linejoin="round"/>
<path d="M481.7 310 C481.7 311.7 481.7 316.7 481.7 320 C481.7 323.3 481.4 328.3 481.7 330 C482 331.7 482.5 329.9 483.7 330.4 C484.9 330.9 487.2 332.2 488.9 333 C490.6 333.8 492.1 334.6 494 334.9 C495.9 335.1 498.5 334.7 500 334.5 C501.5 334.3 501.2 334.2 503 333.6 C504.8 333 507.7 331.6 510.7 331 C513.7 330.4 518.1 329.9 521.1 329.7 C524.1 329.5 526.7 329.4 528.9 329.7 C531.1 330 532.4 331.3 534.1 331.7 C535.8 332.1 537.1 332.8 539.2 332.3 C541.4 331.9 544.4 329.9 547 329 C549.6 328.1 552.2 327.6 554.8 327.1 C557.4 326.6 560 326.3 562.6 326.2 C565.2 326.1 568.1 326 570.3 326.5 C572.4 327 573.8 328.4 575.5 329 C577.2 329.6 578.5 330.5 580.7 330.4 C582.9 330.3 585.9 329.2 588.5 328.4 C591.1 327.6 594.4 326.4 596.3 325.8 C598.2 325.2 598.1 324.7 600 324.7 C601.9 324.7 605 325.7 607.8 326 C610.6 326.3 614 326.6 616.8 326.6 C619.6 326.6 622 325.7 624.6 326 C627.2 326.3 630 328.1 632.4 328.6 C634.8 329.1 636.5 329.3 638.9 329.2 C641.3 329.1 644 328.5 646.6 327.9 C649.2 327.3 651.8 325.4 654.4 325.4 C657 325.4 659.6 327.1 662.2 327.9 C664.8 328.6 667.4 329.8 670 329.9 C672.6 330 675.6 329.2 677.8 328.6 C679.9 328 681.4 327.2 682.9 326 C684.4 324.8 685.5 323.8 686.8 321.5 C688.1 319.2 689.4 314.7 690.7 312.4 C692 310.1 693.3 308.9 694.6 307.9 C695.9 306.9 697.9 306.8 698.5 306.6" fill="none" stroke="#1c1c80" stroke-width="1.7" stroke-linejoin="round"/>
<path d="M481.7 303 C481.7 304.2 481.4 308.8 481.7 310 C482 311.2 482.5 309.8 483.7 310.3 C484.9 310.8 487.2 311.9 488.9 312.9 C490.6 313.8 492.5 315.4 494 316 C495.5 316.6 496.5 317 498 316.7 C499.5 316.4 500.9 314.9 503 314.2 C505.1 313.4 507.9 312.8 510.7 312.2 C513.5 311.6 516.8 311.1 519.8 310.9 C522.8 310.7 526.1 310.5 528.9 310.9 C531.7 311.3 534.5 312.9 536.6 313.5 C538.8 314.1 539.6 314.6 541.8 314.2 C544 313.8 547 311.9 549.6 310.9 C552.2 309.9 554.8 308.9 557.4 308.3 C560 307.7 562.8 307.2 565.2 307 C567.6 306.8 569.5 306.2 571.6 306.8 C573.8 307.4 576.2 310 578.1 310.9 C580 311.8 581.1 312.3 583.3 312 C585.5 311.7 588.3 309.9 591.1 309 C593.9 308.1 597.3 307.2 600.1 306.4 C602.9 305.6 605.2 304.5 607.8 304 C610.4 303.5 612.8 303.1 615.6 303.6 C618.4 304.1 621.8 306.8 624.6 307.2 C627.4 307.6 630 306.3 632.4 305.9 C634.8 305.5 636.5 305.2 638.9 304.6 C641.3 304 644 302.9 646.6 302.3 C649.2 301.7 651.8 300.6 654.4 301 C657 301.4 660 303.9 662.2 304.6 C664.4 305.3 665.2 305.5 667.4 305.3 C669.6 305.1 672.6 303.8 675.2 303.6 C677.8 303.4 680.3 303.6 682.9 304 C685.5 304.4 688.1 305.5 690.7 305.9 C693.3 306.3 697.2 306.5 698.5 306.6" fill="none" stroke="#d21a3c" stroke-width="1.9" stroke-linejoin="round"/>
<path d="M481.7 303 C481.7 304.2 481.4 308.8 481.7 310 C482 311.2 483.4 310.2 483.7 310.3" fill="none" stroke="#d42a44" stroke-width="1.45" stroke-linejoin="round"/>
<path d="M690.7 305.9 C692 306 695.9 306.7 698.5 306.6 C701.1 306.5 703.7 305.7 706.3 305.3 C708.9 304.9 711.4 304.4 714 304 C716.6 303.6 717.7 303.5 722 303.2 C726.3 302.9 732 302.4 740 302 C748 301.6 760 301.2 770 300.8 C780 300.4 793.3 300 800 299.6 C806.7 299.2 806.7 299.1 810 298.5 C813.3 297.9 817 296.6 820 296 C823 295.4 825 295.1 828 295 C831 294.9 833.5 295.1 838 295.5 C842.5 295.9 852.2 297 855 297.3" fill="none" stroke="#d42a44" stroke-width="1.45" stroke-linejoin="round"/>
<path d="M72 624 L72 624 C70.8 603.9 72.1 578.2 73 563 A7 7 0 0 1 87 563 C87.9 578.2 95.2 603.9 96 624 L96 624 Z" fill="none" stroke="#d4d4d4" stroke-width="0.9"/><path d="M98 624 L98 624 C98.2 603.5 104.1 577.5 105 562 A7 7 0 0 1 119 562 C119.9 577.5 124.3 603.5 124 624 L124 624 Z" fill="none" stroke="#d4d4d4" stroke-width="0.9"/>
<path d="M76.7 622 C81.7 620.7 92.7 623.7 100.8 623.7 C109 623.7 120.4 620.7 125.7 622 C130.9 623.3 130.9 627.7 132.4 631.2 C133.8 634.7 134.4 639.1 134.4 643 C134.4 646.9 134.2 651.6 132.4 654.8 C130.6 657.9 126.9 660.4 123.7 661.9 C120.4 663.4 116.2 664.1 112.9 664 C109.7 663.9 106.2 662.5 104.2 661.1 C102.2 659.7 100.8 655.6 100.8 655.6 C100.8 655.6 99.7 659.7 97.5 661.1 C95.3 662.5 91.1 663.9 87.4 664 C83.7 664.1 78.6 662.9 75.4 661.5 C72.1 660.1 69.2 658.7 68 655.6 C66.7 652.5 67.5 647.1 68 643 C68.4 638.9 69.2 634.7 70.7 631.2 C72.1 627.7 71.7 623.3 76.7 622 Z" fill="rgba(255,255,255,0.6)" stroke="#d4d4d4" stroke-width="0.9"/>
<path d="M672 624 L672 624 C671.7 598.6 675.2 566.2 676 547 A7 7 0 0 1 690 547 C690.8 566.2 694.3 598.6 694 624 L694 624 Z" fill="none" stroke="#d4d4d4" stroke-width="0.9"/><path d="M700 624 L700 624 C699.8 598.6 704.1 566.2 705 547 A7 7 0 0 1 719 547 C719.9 566.2 724.2 598.6 724 624 L724 624 Z" fill="none" stroke="#d4d4d4" stroke-width="0.9"/>
<path d="M674.1 622 C679 620.7 689.6 623.7 697.5 623.7 C705.4 623.7 716.5 620.7 721.5 622 C726.6 623.3 726.6 627.7 728 631.2 C729.5 634.7 730 639.1 730 643 C730 646.9 729.8 651.6 728 654.8 C726.3 657.9 722.7 660.4 719.6 661.9 C716.5 663.4 712.3 664.1 709.2 664 C706.1 663.9 702.7 662.5 700.8 661.1 C698.8 659.7 697.5 655.6 697.5 655.6 C697.5 655.6 696.4 659.7 694.2 661.1 C692.1 662.5 688.1 663.9 684.5 664 C680.9 664.1 675.9 662.9 672.8 661.5 C669.7 660.1 666.8 658.7 665.6 655.6 C664.5 652.5 665.2 647.1 665.6 643 C666.1 638.9 666.8 634.7 668.2 631.2 C669.7 627.7 669.2 623.3 674.1 622 Z" fill="rgba(255,255,255,0.6)" stroke="#d4d4d4" stroke-width="0.9"/>
<path d="M738 624 L738 624 C738.3 601.2 744.1 572.2 745 555 A7 7 0 0 1 759 555 C759.9 572.2 762.7 601.2 762 624 L762 624 Z" fill="none" stroke="#d4d4d4" stroke-width="0.9"/><path d="M768 624 L768 624 C767.8 603.5 772.1 577.5 773 562 A7 7 0 0 1 787 562 C787.9 577.5 792.2 603.5 792 624 L792 624 Z" fill="none" stroke="#d4d4d4" stroke-width="0.9"/>
<path d="M740.2 622 C745.2 620.7 756 623.7 764 623.7 C772 623.7 783.2 620.7 788.4 622 C793.6 623.3 793.6 627.7 795 631.2 C796.5 634.7 797 639.1 797 643 C797 646.9 796.8 651.6 795 654.8 C793.3 657.9 789.6 660.4 786.4 661.9 C783.2 663.4 779.1 664.1 775.9 664 C772.7 663.9 769.3 662.5 767.3 661.1 C765.3 659.7 764 655.6 764 655.6 C764 655.6 762.9 659.7 760.7 661.1 C758.5 662.5 754.4 663.9 750.8 664 C747.2 664.1 742.1 662.9 738.9 661.5 C735.7 660.1 732.9 658.7 731.7 655.6 C730.4 652.5 731.2 647.1 731.7 643 C732.1 638.9 732.9 634.7 734.3 631.2 C735.7 627.7 735.3 623.3 740.2 622 Z" fill="rgba(255,255,255,0.6)" stroke="#d4d4d4" stroke-width="0.9"/>
<path d="M806 624 L806 624 C806.3 603.9 812.1 578.2 813 563 A7 7 0 0 1 827 563 C827.9 578.2 830.7 603.9 830 624 L830 624 Z" fill="none" stroke="#d4d4d4" stroke-width="0.9"/><path d="M834 624 L834 624 C833.7 605.2 837.2 581.2 838 567 A7 7 0 0 1 852 567 C852.8 581.2 856.3 605.2 856 624 L856 624 Z" fill="none" stroke="#d4d4d4" stroke-width="0.9"/>
<path d="M807 622 C811.8 620.7 822.2 623.7 830 623.7 C837.8 623.7 848.7 620.7 853.7 622 C858.7 623.3 858.7 627.7 860.1 631.2 C861.5 634.7 862 639.1 862 643 C862 646.9 861.8 651.6 860.1 654.8 C858.4 657.9 854.9 660.4 851.8 661.9 C848.7 663.4 844.6 664.1 841.5 664 C838.4 663.9 835.1 662.5 833.2 661.1 C831.3 659.7 830 655.6 830 655.6 C830 655.6 828.9 659.7 826.8 661.1 C824.7 662.5 820.7 663.9 817.2 664 C813.7 664.1 808.8 662.9 805.7 661.5 C802.6 660.1 799.8 658.7 798.6 655.6 C797.5 652.5 798.2 647.1 798.6 643 C799.1 638.9 799.8 634.7 801.2 631.2 C802.6 627.7 802.2 623.3 807 622 Z" fill="rgba(255,255,255,0.6)" stroke="#d4d4d4" stroke-width="0.9"/>
<path d="M144.4 640.9 L144.4 625 C143.2 603.3 142.9 575.7 143.5 559.2 A5 5 0 0 1 153.5 559.2 C154.1 575.7 159.5 603.3 160.2 625 L160.2 640.9 Z" fill="url(#rootg)" stroke="#555" stroke-width="1.05"/><path d="M164.8 640.9 L164.8 625 C164 602.3 165.7 573.4 166.5 556.2 A6.5 6.5 0 0 1 179.5 556.2 C180.3 573.4 185.6 602.3 186 625 L186 640.9 Z" fill="url(#rootg)" stroke="#555" stroke-width="1.05"/>
<path d="M204 640.5 L204 623.3 C202.5 598.7 201.4 567.5 202 548.9 A6 6 0 0 1 214 548.9 C214.6 567.5 220 598.7 220.7 623.3 L220.7 640.5 Z" fill="url(#rootg)" stroke="#555" stroke-width="1.05"/><path d="M226.8 640.5 L226.8 623.3 C225.1 598.5 225.1 567 226 548.3 A7 7 0 0 1 240 548.3 C240.9 567 249.7 598.5 251 623.3 L251 640.5 Z" fill="url(#rootg)" stroke="#555" stroke-width="1.05"/>
<path d="M272 642 L272 623.7 C271.9 596.8 276.2 562.6 277 542.3 A5 5 0 0 1 287 542.3 C287.8 562.6 294.4 596.8 295 623.7 L295 642 Z" fill="url(#rootg)" stroke="#555" stroke-width="1.05"/>
<path d="M313.5 641.5 L313.5 623.7 C314 597.6 320.2 564.5 321 544.7 A5 5 0 0 1 331 544.7 C331.8 564.5 336.5 597.6 336.5 623.7 L336.5 641.5 Z" fill="url(#rootg)" stroke="#555" stroke-width="1.05"/>
<path d="M353.5 635.6 L353.5 613 C353 583 355.9 544.8 356.7 522.1 A5 5 0 0 1 366.7 522.1 C367.5 544.8 373.8 583 374.5 613 L374.5 635.6 Z" fill="url(#rootg)" stroke="#555" stroke-width="1.05"/>
<path d="M391 635.7 L391 614.2 C390.6 589.9 393.2 558.9 393.8 540.5 A3.2 3.2 0 0 1 400.2 540.5 C400.8 558.9 407.9 589.9 409 614.2 L409 635.7 Z" fill="url(#rootg)" stroke="#555" stroke-width="1.05"/>
<path d="M428 634.7 L428 615.3 C427.8 591.5 431 561.1 431.6 543.1 A3.4 3.4 0 0 1 438.4 543.1 C439 561.1 445.2 591.5 446 615.3 L446 634.7 Z" fill="url(#rootg)" stroke="#555" stroke-width="1.05"/>
<path d="M480 634.4 L480 614.2 C480.6 590.7 486 560.7 486.6 542.9 A3.1 3.1 0 0 1 492.8 542.9 C493.4 560.7 497 590.7 497 614.2 L497 634.4 Z" fill="url(#rootg)" stroke="#555" stroke-width="1.05"/>
<path d="M513 636 L513 613.7 C514.4 589.4 522.5 558.4 523.1 540 A3.4 3.4 0 0 1 529.9 540 C530.5 558.4 531.8 589.4 531 613.7 L531 636 Z" fill="url(#rootg)" stroke="#555" stroke-width="1.05"/>
<path d="M550 635.6 L550 613 C550.8 583 557.3 544.8 558 522.1 A5 5 0 0 1 568 522.1 C568.7 544.8 570.7 583 570 613 L570 635.6 Z" fill="url(#rootg)" stroke="#555" stroke-width="1.05"/>
<path d="M587 642.1 L587 624.9 C586.9 598.2 591.2 564.2 592 544 A5 5 0 0 1 602 544 C602.8 564.2 609.4 598.2 610 624.9 L610 642.1 Z" fill="url(#rootg)" stroke="#555" stroke-width="1.05"/>
<path d="M631 642 L631 623.7 C631.2 597 636.4 563 637.2 542.8 A5.5 5.5 0 0 1 648.2 542.8 C649 563 653.1 597 653 623.7 L653 642 Z" fill="url(#rootg)" stroke="#555" stroke-width="1.05"/>
<circle cx="164.4" cy="596.2" r="8.6" fill="url(#gg)" stroke="#0a1a0a" stroke-width="1.6"/><line x1="164.4" y1="592.7" x2="164.4" y2="599.7" stroke="#d8f0a0" stroke-width="1.6"/>
<circle cx="225.8" cy="598.8" r="8.6" fill="url(#gg)" stroke="#0a1a0a" stroke-width="1.6"/><line x1="225.8" y1="595.3" x2="225.8" y2="602.3" stroke="#d8f0a0" stroke-width="1.6"/>
<path d="M125.9 619.5 C126.8 619 129.6 618.3 131.1 616.3 C132.6 614.2 133.7 609.8 135 607.2 C136.3 604.6 137.4 602.4 138.9 600.7 C140.4 599 141.9 597.3 144.1 596.8 C146.2 596.3 149.7 597.1 151.8 597.5 C154 597.9 154.8 598.4 157 599.4 C159.2 600.4 162.2 603.2 164.8 603.3 C167.4 603.4 170.4 601.6 172.6 600.1 C174.8 598.6 175.9 595.8 177.8 594.3 C179.7 592.8 182 591.6 184.2 591 C186.3 590.4 188.3 590 190.7 590.4 C193.1 590.8 196.1 592.8 198.5 593.6 C200.9 594.4 203.1 595.1 205 595.3 C206.9 595.5 207.9 595.1 210 594.6 C212.1 594.1 214.6 592.8 217.8 592 C221 591.2 226 590 229.4 590.1 C232.8 590.2 235.2 591.6 238.5 592.7 C241.8 593.8 245 595.9 248.9 596.6 C252.8 597.4 257.9 597.2 261.8 597.2 C265.7 597.2 269.4 597.4 272.2 596.6 C275 595.9 276.5 593.5 278.7 592.7 C280.9 591.9 282.8 591.7 285.2 592 C287.6 592.3 290.3 594.2 292.9 594.6 C295.5 595 298.3 594.9 300.7 594.6 C303.1 594.3 304.6 593.2 307.2 592.7 C309.8 592.2 314.2 591.9 316.3 591.4 C318.4 590.9 317.4 590.4 320 590 C322.6 589.6 328.3 589.3 332.1 588.9 C335.9 588.5 339.7 588.4 342.7 587.7 C345.7 587 347.7 585.5 350.2 584.7 C352.7 583.9 355.6 583.9 357.8 583.1 C360 582.3 361.3 580.2 363.1 579.8 C364.9 579.4 366.8 580.3 368.4 580.9 C370 581.5 370.9 582.2 372.9 583.1 C374.9 584 378.2 584.7 380.5 586.2 C382.8 587.7 384.2 590.8 386.5 592.2 C388.8 593.6 392.1 595.4 394.1 594.5 C396.1 593.6 397.2 588 398.6 586.9 C400 585.8 400.9 586.4 402.4 587.7 C403.9 589 405.8 593.4 407.7 594.5 C409.6 595.6 411.2 595.5 413.7 594.5 C416.2 593.5 419.8 589.7 422.8 588.4 C425.8 587.1 429.1 587.3 431.9 586.9 C434.7 586.5 437.3 586.6 439.4 586.2 C441.5 585.8 443.8 584.7 444.7 584.4 L444.7 604.3 C444.4 604 444.1 603.3 443.2 602.8 C442.3 602.3 441 601 439.4 601.3 C437.8 601.5 435.7 603.7 433.4 604.3 C431.1 604.9 428.6 604.7 425.8 605.1 C423 605.5 419.6 606.5 416.8 606.6 C414 606.7 411.2 606.7 409.2 605.8 C407.2 604.9 406.2 602.4 404.7 601.3 C403.2 600.2 401.9 598.4 400.1 599 C398.3 599.6 396.4 604 394.1 605.1 C391.8 606.2 389.3 605.9 386.5 605.5 C383.7 605.1 380.3 603.5 377.5 602.8 C374.7 602.1 372.3 601.9 369.9 601.3 C367.5 600.7 365.1 599 363.1 599 C361.1 599 360 600.3 357.8 601.3 C355.6 602.3 352.5 603.5 350.2 605.1 C347.9 606.7 346.5 609.7 344.2 611.1 C341.9 612.5 338.8 613.5 336.6 613.4 C334.4 613.3 332.7 611.3 331 610.5 C329.3 609.7 328 608.6 326.6 608.6 C325.2 608.6 324 609.3 322.7 610.2 C321.4 611.1 320.4 613.1 318.9 614.1 C317.4 615.1 315.9 615.8 313.7 616 C311.5 616.2 308.9 615.6 305.9 615.4 C302.9 615.2 298.5 614.7 295.5 614.7 C292.5 614.7 290.4 615 287.8 615.4 C285.2 615.8 282.6 616.3 280 617.3 C277.4 618.3 274.8 620.5 272.2 621.2 C269.6 622 267.4 621.7 264.4 621.8 C261.4 621.9 257.1 622.1 254.1 621.8 C251.1 621.5 248.9 620.8 246.3 619.9 C243.7 619 241.3 617.5 238.5 616.6 C235.7 615.7 232.2 614.8 229.4 614.7 C226.6 614.6 224.1 615 221.7 616 C219.3 617 217.1 619.1 215.2 620.5 C213.2 621.9 211.9 623.5 210 624.4 C208.1 625.3 206 626 203.7 626 C201.3 626 198.5 624.9 195.9 624.1 C193.3 623.4 190.7 621.7 188.1 621.5 C185.5 621.3 182.9 622.3 180.3 622.8 C177.7 623.3 175.2 624.2 172.6 624.7 C170 625.2 167.4 626.2 164.8 626 C162.2 625.8 159.6 624.1 157 623.4 C154.4 622.6 152.2 621.9 149.2 621.5 C146.2 621.1 142.8 620.9 138.9 620.8 C135 620.7 128.1 620.8 125.9 620.8 Z" fill="rgba(12,12,240,0.33)"/>
<path d="M478.3 590.6 C479.3 590.2 481.9 588.6 484.4 588 C486.9 587.4 490.7 586.7 493.5 586.9 C496.3 587.1 498.9 588.3 501.3 589.3 C503.7 590.3 505.6 592.2 507.8 593.1 C510 594 512.5 594.9 514.2 594.4 C515.9 593.9 516.8 591.2 518.1 589.9 C519.4 588.6 520.7 586.6 522 586.7 C523.3 586.8 524.8 588.8 525.9 590.6 C527 592.4 527.6 596.1 528.5 597.7 C529.4 599.3 529.8 600.1 531.1 600.3 C532.4 600.5 534.3 600.2 536.3 599 C538.2 597.8 540.4 594.6 542.8 593.1 C545.2 591.6 547.9 590.5 550.5 590.3 C553.1 590 555.5 591.5 558.3 591.6 C561.1 591.7 564.6 590.5 567.4 590.8 C570.2 591 573 592.5 575.1 593.1 C577.2 593.7 578.1 594.1 580 594.4 C581.9 594.7 584.3 595.6 586.5 595.1 C588.7 594.6 590.9 592.1 593 591.2 C595.1 590.3 596.8 589.9 599.4 589.9 C602 589.9 605.2 591.1 608.5 591.2 C611.8 591.3 615.7 590.9 618.9 590.6 C622.1 590.3 624.9 589.3 627.9 589.3 C630.9 589.3 634.2 590.1 637 590.6 C639.8 591.1 642.6 591.5 644.8 592.5 C647 593.5 648.3 595.3 650 596.4 C651.7 597.5 653.7 597.8 655.2 599 C656.7 600.2 657.9 601.2 659 603.5 C660.1 605.8 660.7 609.6 661.6 612.6 C662.5 615.6 663.1 619.2 664.2 621.6 C665.3 624 667.5 625.9 668.1 626.8 L668.1 627.5 C667 627 663.8 625.1 661.6 624.2 C659.5 623.3 657.6 622.6 655.2 621.9 C652.8 621.1 650 620.6 647.4 619.7 C644.8 618.8 642.2 616.8 639.6 616.7 C637 616.6 634.6 618.5 631.8 619.1 C629 619.7 625.8 619.9 622.8 620.4 C619.8 620.9 616.3 622.1 613.7 622.3 C611.1 622.5 609.2 622.5 607.2 621.6 C605.2 620.7 603.7 618.3 602 617.1 C600.3 615.9 598.5 614.6 596.8 614.5 C595.1 614.4 593.6 615.6 591.7 616.5 C589.8 617.4 587.3 619.9 585.2 619.7 C583.1 619.5 580.9 616.7 579 615.2 C577.1 613.7 575.8 611.7 573.9 610.6 C572 609.5 569.6 609.4 567.4 608.4 C565.2 607.4 563.3 604.9 560.9 604.8 C558.5 604.7 555.7 607.2 553.1 608 C550.5 608.8 547.9 608.6 545.3 609.3 C542.7 609.9 540 611.3 537.6 611.9 C535.2 612.5 532.6 613.1 531.1 612.6 C529.6 612.1 529.4 610.7 528.5 608.7 C527.6 606.8 527 602.5 525.9 600.9 C524.8 599.3 523.3 598.6 522 599 C520.7 599.4 519.4 602.2 518.1 603.5 C516.8 604.8 516.1 606.3 514.2 606.7 C512.3 607.1 509.1 606.3 506.5 606.1 C503.9 605.9 501.3 605.8 498.7 605.5 C496.1 605.2 493.1 605 490.9 604.2 C488.7 603.4 487.2 601.3 485.7 600.9 C484.2 600.5 483 601.4 481.8 601.6 C480.6 601.8 478.9 602.1 478.3 602.2 Z" fill="rgba(12,12,240,0.33)"/>
<path d="M146.1 623.3 C150.1 622.9 160.5 626.5 165.8 626.4 C171.1 626.3 174.1 623.1 177.9 622.6 C181.7 622.1 185.7 620 188.5 623.3 C191.3 626.6 193.8 636.8 194.5 642.2 C195.2 647.6 194.5 652.6 193 655.8 C191.5 658.9 188.8 660.1 185.5 661.1 C182.2 662.1 176.4 662.5 173.4 661.9 C170.4 661.3 168.6 659.4 167.3 657.4 C166 655.4 165.8 650 165.8 650 C165.8 650 166.3 653.8 164.3 655.8 C162.3 657.8 157.7 661.1 153.7 661.9 C149.7 662.7 143.1 662.2 140.1 660.4 C137.1 658.6 136.1 654.8 135.6 651.3 C135.1 647.8 136.1 643 137.1 639.2 C138.1 635.4 140.1 631.2 141.6 628.6 C143.1 626 142.1 623.7 146.1 623.3 Z" fill="url(#orng)" stroke="#6a4424" stroke-width="1.1"/>
<path d="M206.6 627.1 C209.6 625.1 214.2 623.5 218.7 622.6 C223.2 621.7 228.8 621.4 233.8 621.8 C238.9 622.2 245 621.8 249 624.9 C253 628 256 636.1 258 640.7 C260 645.4 262 649.5 261 652.8 C260 656.1 256 659.4 252 660.4 C248 661.4 240.9 660.1 236.9 658.9 C232.9 657.7 229.8 655.1 228 653 C226.2 650.9 226.3 646 226.3 646 C226.3 646 226.1 652.5 224.8 655.4 C223.5 658.3 222.2 662.6 218.7 663.4 C215.2 664.2 207.1 662.9 203.6 660.4 C200.1 657.9 198 652.6 197.5 648.3 C197 644 199.1 638.2 200.6 634.7 C202.1 631.2 203.6 629.1 206.6 627.1 Z" fill="url(#orng)" stroke="#6a4424" stroke-width="1.1"/>
<path d="M284.8 622.7 C287.5 623 291.3 623.9 293.8 625.9 C296.3 627.9 297.9 631.2 299.7 634.8 C301.5 638.4 305 643.7 304.7 647.7 C304.4 651.7 301 655.6 297.7 658.6 C294.4 661.6 288.9 664.8 284.8 665.6 C280.7 666.4 276.5 665.3 272.9 663.6 C269.3 661.9 264.3 658.8 263 655.6 C261.7 652.5 263.5 649.2 265 644.7 C266.5 640.2 269.8 632.3 271.9 628.8 C274 625.3 275.8 624.9 277.9 623.9 C280 622.9 282.1 622.4 284.8 622.7 Z" fill="url(#whtg)" stroke="#5a5a5a" stroke-width="1"/><path d="M271 651.7 L271.4 654.6 L277.9 653.7 L281.8 651.7 L282.8 650.7 M282.3 653.7 C284.5 654.6 286.7 655.6 288.8 656.6" fill="none" stroke="#6a6a6a" stroke-width="0.9"/>
<path d="M326.5 622.7 C329.8 623.4 334.2 625.5 337.4 628.8 C340.5 632.1 345.4 638.1 345.4 642.7 C345.4 647.3 341 652.8 337.4 656.6 C333.8 660.4 327.8 665.4 323.5 665.6 C319.2 665.8 314.6 660.4 311.6 657.6 C308.6 654.8 305.9 652.7 305.7 648.7 C305.5 644.7 308.6 637.8 310.6 633.8 C312.6 629.8 315 626.8 317.6 624.9 C320.2 623 323.2 622.1 326.5 622.7 Z" fill="url(#whtg)" stroke="#5a5a5a" stroke-width="1"/><path d="M314.6 651.7 C315.4 650.7 317.5 647 319.6 645.7 C321.8 644.5 324.9 644 327.5 644.2 C330.1 644.4 334.2 646.3 335.5 646.7" fill="none" stroke="#6a6a6a" stroke-width="0.9"/><path d="M333.5 636.8 C333.2 637.8 331.2 641.1 331.5 642.7 C331.8 644.4 334.4 646 335 646.7" fill="none" stroke="#6a6a6a" stroke-width="0.9"/>
<path d="M365 611.4 C367.6 611.3 370.6 612.1 372.8 615 C375.1 617.9 376.6 623.9 378.5 628.5 C380.4 633.1 383.7 637.8 384.2 642.8 C384.7 647.8 384.1 654.5 381.3 658.4 C378.5 662.3 371.4 665.8 367.1 666.3 C362.8 666.8 359.3 664.3 355.7 661.3 C352.1 658.3 346.4 653 345.7 648.5 C345 644 349.5 639.7 351.4 634.2 C353.3 628.7 354.8 619.5 357.1 615.7 C359.4 611.9 362.4 611.5 365 611.4 Z" fill="url(#whtg)" stroke="#5a5a5a" stroke-width="1"/>
<path d="M401.3 612.1 C403.2 611.9 405.1 613 407 615.7 C408.9 618.4 410.9 623.5 412.7 628.5 C414.5 633.5 416.8 640.1 417.7 645.6 C418.6 651.1 421.1 658.3 418.4 661.3 C415.7 664.3 406.8 662.8 401.3 663.4 C395.8 664 388.2 666.7 385.6 664.9 C383 663.1 384.9 658.3 385.6 652.7 C386.3 647.1 388.2 637.3 389.9 631.4 C391.6 625.5 393.7 620.3 395.6 617.1 C397.5 613.9 399.4 612.3 401.3 612.1 Z" fill="url(#whtg)" stroke="#5a5a5a" stroke-width="1"/>
<path d="M438.4 613.5 C440 613.5 441 613.4 442.6 617.1 C444.2 620.8 447 630.1 448.3 635.6 C449.6 641.1 450.5 645.7 450.5 649.9 C450.5 654.1 450.6 658.7 448.3 660.6 C446 662.5 441.2 661.4 436.9 661.3 C432.6 661.2 425.3 661.8 422.7 659.9 C420.1 658 420.8 654.4 421.3 649.9 C421.8 645.4 423.6 638.3 425.5 632.8 C427.4 627.3 430.6 620.3 432.7 617.1 C434.8 613.9 436.8 613.5 438.4 613.5 Z" fill="url(#whtg)" stroke="#5a5a5a" stroke-width="1"/>
<path d="M485.7 612.8 C487.7 613 490.4 613.3 492.8 617.1 C495.2 620.9 498.1 629.9 499.9 635.6 C501.7 641.3 503.5 647.1 503.5 651.3 C503.5 655.5 502.6 658.9 499.9 660.6 C497.2 662.3 491.2 661.4 487.1 661.3 C483 661.2 477.3 661.8 475 659.9 C472.7 658 473.1 655.1 473.5 649.9 C473.9 644.7 475.9 634.2 477.1 628.5 C478.3 622.8 479.3 618.3 480.7 615.7 C482.1 613.1 483.7 612.6 485.7 612.8 Z" fill="url(#whtg)" stroke="#5a5a5a" stroke-width="1"/>
<path d="M521.3 612.1 C523.2 612.6 526 613.2 528.4 617.1 C530.8 621 533.8 629.4 535.6 635.6 C537.4 641.8 538.6 649.5 539.1 654.2 C539.6 659 541.1 662.6 538.4 664.1 C535.7 665.6 528.2 663.9 522.7 663.4 C517.2 662.9 508.3 663.8 505.6 661.3 C502.9 658.8 505.4 654 506.3 648.5 C507.2 643 509.5 634.2 511.3 628.5 C513.1 622.8 515.3 617 517 614.3 C518.7 611.6 519.4 611.6 521.3 612.1 Z" fill="url(#whtg)" stroke="#5a5a5a" stroke-width="1"/>
<path d="M558.4 610.7 C561.2 610.5 565.7 612.7 568.3 615.7 C570.9 618.7 572.3 624 574 628.5 C575.7 633 578.5 638 578.3 642.8 C578.1 647.5 575.7 653.2 572.6 657 C569.5 660.8 564.3 665.4 559.8 665.6 C555.3 665.8 548.8 661.5 545.5 658.4 C542.2 655.3 540 651.3 539.8 647 C539.6 642.7 542.2 637.8 544.1 632.8 C546 627.8 548.8 620.8 551.2 617.1 C553.6 613.4 555.5 610.9 558.4 610.7 Z" fill="url(#whtg)" stroke="#5a5a5a" stroke-width="1"/>
<path d="M596.8 622.7 C599.5 623.7 604.7 627 608 630 C611.3 633 614.9 637.7 616.7 640.8 C618.5 643.9 619.9 645.7 618.7 648.7 C617.6 651.7 612.8 655.8 609.8 658.6 C606.8 661.4 604.6 665.9 600.8 665.6 C597 665.3 590.5 659.8 586.9 656.6 C583.3 653.5 579.3 651 579 646.7 C578.7 642.4 582.8 634.6 584.9 630.8 C587 627 589.9 625.2 591.9 623.9 C593.9 622.5 594.1 621.7 596.8 622.7 Z" fill="url(#whtg)" stroke="#5a5a5a" stroke-width="1"/><path d="M588.9 646.7 C589.9 646.3 592.6 644.5 594.9 644.2 C597.2 643.9 600.3 643.5 602.8 644.7 C605.3 646 608.6 650.5 609.8 651.7" fill="none" stroke="#6a6a6a" stroke-width="0.9"/><path d="M591.4 636.8 C591.6 637.8 593.1 641.2 592.9 642.7 C592.6 644.2 590.4 645.2 589.9 645.7" fill="none" stroke="#6a6a6a" stroke-width="0.9"/>
<path d="M638.6 622.7 C641.8 623.5 648.3 625.9 651.5 628.8 C654.7 631.7 656.2 635.9 658 640 C659.8 644.1 662.8 650.1 662.4 653.7 C662 657.3 658.4 659.6 655.4 661.6 C652.4 663.6 648.6 665.6 644.5 665.6 C640.4 665.6 634.7 664.4 630.6 661.6 C626.5 658.8 620.5 653.7 619.7 648.7 C618.9 643.7 623.5 635.9 625.6 631.8 C627.8 627.7 630.4 625.4 632.6 623.9 C634.8 622.4 635.5 621.9 638.6 622.7 Z" fill="url(#whtg)" stroke="#5a5a5a" stroke-width="1"/><path d="M635.6 656.6 C636.8 656.1 640.5 654.1 642.5 653.7 C644.5 653.3 645.7 654.2 647.5 654.2 C649.3 654.2 652.4 654.2 653.5 653.7 C654.6 653.2 653.9 651.6 654 651.2" fill="none" stroke="#6a6a6a" stroke-width="0.9"/>
<path d="M125.9 619.5 C126.8 619 129.6 618.3 131.1 616.3 C132.6 614.2 133.7 609.8 135 607.2 C136.3 604.6 137.4 602.4 138.9 600.7 C140.4 599 141.9 597.3 144.1 596.8 C146.2 596.3 149.7 597.1 151.8 597.5 C154 597.9 154.8 598.4 157 599.4 C159.2 600.4 162.2 603.2 164.8 603.3 C167.4 603.4 170.4 601.6 172.6 600.1 C174.8 598.6 175.9 595.8 177.8 594.3 C179.7 592.8 182 591.6 184.2 591 C186.3 590.4 188.3 590 190.7 590.4 C193.1 590.8 196.1 592.8 198.5 593.6 C200.9 594.4 203.1 595.1 205 595.3 C206.9 595.5 207.9 595.1 210 594.6 C212.1 594.1 214.6 592.8 217.8 592 C221 591.2 226 590 229.4 590.1 C232.8 590.2 235.2 591.6 238.5 592.7 C241.8 593.8 245 595.9 248.9 596.6 C252.8 597.4 257.9 597.2 261.8 597.2 C265.7 597.2 269.4 597.4 272.2 596.6 C275 595.9 276.5 593.5 278.7 592.7 C280.9 591.9 282.8 591.7 285.2 592 C287.6 592.3 290.3 594.2 292.9 594.6 C295.5 595 298.3 594.9 300.7 594.6 C303.1 594.3 304.6 593.2 307.2 592.7 C309.8 592.2 314.2 591.9 316.3 591.4 C318.4 590.9 317.4 590.4 320 590 C322.6 589.6 328.3 589.3 332.1 588.9 C335.9 588.5 339.7 588.4 342.7 587.7 C345.7 587 347.7 585.5 350.2 584.7 C352.7 583.9 355.6 583.9 357.8 583.1 C360 582.3 361.3 580.2 363.1 579.8 C364.9 579.4 366.8 580.3 368.4 580.9 C370 581.5 370.9 582.2 372.9 583.1 C374.9 584 378.2 584.7 380.5 586.2 C382.8 587.7 384.2 590.8 386.5 592.2 C388.8 593.6 392.1 595.4 394.1 594.5 C396.1 593.6 397.2 588 398.6 586.9 C400 585.8 400.9 586.4 402.4 587.7 C403.9 589 405.8 593.4 407.7 594.5 C409.6 595.6 411.2 595.5 413.7 594.5 C416.2 593.5 419.8 589.7 422.8 588.4 C425.8 587.1 429.1 587.3 431.9 586.9 C434.7 586.5 437.3 586.6 439.4 586.2 C441.5 585.8 443.8 583.1 444.7 584.4 C445.6 585.7 444.7 590.7 444.7 594 C444.7 597.3 444.7 602.6 444.7 604.3" fill="none" stroke="#1c1c80" stroke-width="1.7" stroke-linejoin="round"/>
<path d="M125.9 620.8 C128.1 620.8 135 620.7 138.9 620.8 C142.8 620.9 146.2 621.1 149.2 621.5 C152.2 621.9 154.4 622.6 157 623.4 C159.6 624.1 162.2 625.8 164.8 626 C167.4 626.2 170 625.2 172.6 624.7 C175.2 624.2 177.7 623.3 180.3 622.8 C182.9 622.3 185.5 621.3 188.1 621.5 C190.7 621.7 193.3 623.4 195.9 624.1 C198.5 624.9 201.3 626 203.7 626 C206 626 208.1 625.3 210 624.4 C211.9 623.5 213.2 621.9 215.2 620.5 C217.1 619.1 219.3 617 221.7 616 C224.1 615 226.6 614.6 229.4 614.7 C232.2 614.8 235.7 615.7 238.5 616.6 C241.3 617.5 243.7 619 246.3 619.9 C248.9 620.8 251.1 621.5 254.1 621.8 C257.1 622.1 261.4 621.9 264.4 621.8 C267.4 621.7 269.6 622 272.2 621.2 C274.8 620.5 277.4 618.3 280 617.3 C282.6 616.3 285.2 615.8 287.8 615.4 C290.4 615 292.5 614.7 295.5 614.7 C298.5 614.7 302.9 615.2 305.9 615.4 C308.9 615.6 311.5 616.2 313.7 616 C315.9 615.8 317.4 615.1 318.9 614.1 C320.4 613.1 321.4 611.1 322.7 610.2 C324 609.3 325.2 608.6 326.6 608.6 C328 608.6 329.3 609.7 331 610.5 C332.7 611.3 334.4 613.3 336.6 613.4 C338.8 613.5 341.9 612.5 344.2 611.1 C346.5 609.7 347.9 606.7 350.2 605.1 C352.5 603.5 355.6 602.3 357.8 601.3 C360 600.3 361.1 599 363.1 599 C365.1 599 367.5 600.7 369.9 601.3 C372.3 601.9 374.7 602.1 377.5 602.8 C380.3 603.5 383.7 605.1 386.5 605.5 C389.3 605.9 391.8 606.2 394.1 605.1 C396.4 604 398.3 599.6 400.1 599 C401.9 598.4 403.2 600.2 404.7 601.3 C406.2 602.4 407.2 604.9 409.2 605.8 C411.2 606.7 414 606.7 416.8 606.6 C419.6 606.5 423 605.5 425.8 605.1 C428.6 604.7 431.1 604.9 433.4 604.3 C435.7 603.7 437.8 601.5 439.4 601.3 C441 601 442.3 602.3 443.2 602.8 C444.1 603.3 444.4 602.3 444.7 604.3 C444.9 606.3 444.7 613.1 444.7 614.9" fill="none" stroke="#d21a3c" stroke-width="1.9" stroke-linejoin="round"/>
<path d="M68 628.5 C70 628.3 76 627.9 80 627.5 C84 627.1 88.7 626.6 92 626.3 C95.3 625.9 97.4 625.8 100 625.4 C102.6 625 105.2 624.5 107.8 624.1 C110.4 623.7 112.6 623.3 115.6 622.8 C118.6 622.2 122 621.1 125.9 620.8 C129.8 620.5 136.7 620.8 138.9 620.8" fill="none" stroke="#d42a44" stroke-width="1.45" stroke-linejoin="round"/>
<path d="M443.2 602.8 C443.4 603 444.4 602.3 444.7 604.3 C444.9 606.3 444.7 613.1 444.7 614.9" fill="none" stroke="#d42a44" stroke-width="1.45" stroke-linejoin="round"/>
<path d="M478.3 602 C478.3 601 478.3 597.9 478.3 596 C478.3 594.1 477.3 591.9 478.3 590.6 C479.3 589.3 481.9 588.6 484.4 588 C486.9 587.4 490.7 586.7 493.5 586.9 C496.3 587.1 498.9 588.3 501.3 589.3 C503.7 590.3 505.6 592.2 507.8 593.1 C510 594 512.5 594.9 514.2 594.4 C515.9 593.9 516.8 591.2 518.1 589.9 C519.4 588.6 520.7 586.6 522 586.7 C523.3 586.8 524.8 588.8 525.9 590.6 C527 592.4 527.6 596.1 528.5 597.7 C529.4 599.3 529.8 600.1 531.1 600.3 C532.4 600.5 534.3 600.2 536.3 599 C538.2 597.8 540.4 594.6 542.8 593.1 C545.2 591.6 547.9 590.5 550.5 590.3 C553.1 590 555.5 591.5 558.3 591.6 C561.1 591.7 564.6 590.5 567.4 590.8 C570.2 591 573 592.5 575.1 593.1 C577.2 593.7 578.1 594.1 580 594.4 C581.9 594.7 584.3 595.6 586.5 595.1 C588.7 594.6 590.9 592.1 593 591.2 C595.1 590.3 596.8 589.9 599.4 589.9 C602 589.9 605.2 591.1 608.5 591.2 C611.8 591.3 615.7 590.9 618.9 590.6 C622.1 590.3 624.9 589.3 627.9 589.3 C630.9 589.3 634.2 590.1 637 590.6 C639.8 591.1 642.6 591.5 644.8 592.5 C647 593.5 648.3 595.3 650 596.4 C651.7 597.5 653.7 597.8 655.2 599 C656.7 600.2 657.9 601.2 659 603.5 C660.1 605.8 660.7 609.6 661.6 612.6 C662.5 615.6 663.1 619.2 664.2 621.6 C665.3 624 667.5 625.9 668.1 626.8" fill="none" stroke="#1c1c80" stroke-width="1.7" stroke-linejoin="round"/>
<path d="M478.3 613.9 C478.3 612.9 478.3 610 478.3 608 C478.3 606 477.7 603.3 478.3 602.2 C478.9 601.1 480.6 601.8 481.8 601.6 C483 601.4 484.2 600.5 485.7 600.9 C487.2 601.3 488.7 603.4 490.9 604.2 C493.1 605 496.1 605.2 498.7 605.5 C501.3 605.8 503.9 605.9 506.5 606.1 C509.1 606.3 512.3 607.1 514.2 606.7 C516.1 606.3 516.8 604.8 518.1 603.5 C519.4 602.2 520.7 599.4 522 599 C523.3 598.6 524.8 599.3 525.9 600.9 C527 602.5 527.6 606.8 528.5 608.7 C529.4 610.7 529.6 612.1 531.1 612.6 C532.6 613.1 535.2 612.5 537.6 611.9 C540 611.3 542.7 609.9 545.3 609.3 C547.9 608.6 550.5 608.8 553.1 608 C555.7 607.2 558.5 604.7 560.9 604.8 C563.3 604.9 565.2 607.4 567.4 608.4 C569.6 609.4 572 609.5 573.9 610.6 C575.8 611.7 577.1 613.7 579 615.2 C580.9 616.7 583.1 619.5 585.2 619.7 C587.3 619.9 589.8 617.4 591.7 616.5 C593.6 615.6 595.1 614.4 596.8 614.5 C598.5 614.6 600.3 615.9 602 617.1 C603.7 618.3 605.2 620.7 607.2 621.6 C609.2 622.5 611.1 622.5 613.7 622.3 C616.3 622.1 619.8 620.9 622.8 620.4 C625.8 619.9 629 619.7 631.8 619.1 C634.6 618.5 637 616.6 639.6 616.7 C642.2 616.8 644.8 618.8 647.4 619.7 C650 620.6 652.8 621.1 655.2 621.9 C657.6 622.6 659.5 623.3 661.6 624.2 C663.8 625.1 667 627 668.1 627.5" fill="none" stroke="#d21a3c" stroke-width="1.9" stroke-linejoin="round"/>
<path d="M478.3 613.9 C478.3 612.9 478.3 610 478.3 608 C478.3 606 477.7 603.3 478.3 602.2 C478.9 601.1 481.2 601.7 481.8 601.6" fill="none" stroke="#d42a44" stroke-width="1.45" stroke-linejoin="round"/>
<path d="M661.6 624.2 C662.7 624.8 665.9 627.1 668.1 627.5 C670.3 627.9 672.2 627.4 674.6 626.8 C677 626.1 679.8 624.6 682.4 623.6 C685 622.6 687.2 621.3 690.1 621 C693 620.7 695.9 620.9 700 621.7 C704.1 622.5 710.8 625.8 715 626 C719.2 626.2 721.7 623.6 725 622.9 C728.3 622.2 730.8 621.1 735 621.7 C739.2 622.3 745 626 750 626.4 C755 626.8 760 624.8 765 624 C770 623.2 774.2 622.2 780 621.7 C785.8 621.2 794.2 621 800 621.2 C805.8 621.4 810 622 815 622.9 C820 623.8 824.2 625.5 830 626.4 C835.8 627.2 846.7 627.7 850 628" fill="none" stroke="#d42a44" stroke-width="1.45" stroke-linejoin="round"/>
<path d="M74 763 L74 763 C73.4 781.5 76.2 805 77 819 A7 7 0 0 0 91 819 C91.8 805 96.1 781.5 96 763 L96 763 Z" fill="none" stroke="#d4d4d4" stroke-width="0.9"/><path d="M98 763 L98 763 C97.8 782.8 102.1 808 103 823 A7 7 0 0 0 117 823 C117.9 808 122.2 782.8 122 763 L122 763 Z" fill="none" stroke="#d4d4d4" stroke-width="0.9"/>
<path d="M77.1 765 C81.7 766.3 91.6 763.2 99 763.2 C106.5 763.2 116.8 766.3 121.6 765 C126.4 763.7 126.4 759 127.7 755.3 C129 751.7 129.5 747.1 129.5 743 C129.5 738.9 129.3 734 127.7 730.7 C126 727.4 122.7 724.8 119.8 723.2 C116.8 721.6 113 720.9 110 721 C107.1 721.1 103.9 722.6 102.1 724.1 C100.3 725.5 99 729.8 99 729.8 C99 729.8 98 725.5 96 724.1 C94 722.6 90.2 721.1 86.9 721 C83.5 720.9 78.9 722.2 75.9 723.6 C73 725.1 70.3 726.6 69.2 729.8 C68.1 733 68.8 738.7 69.2 743 C69.6 747.3 70.3 751.7 71.6 755.3 C73 759 72.6 763.7 77.1 765 Z" fill="rgba(255,255,255,0.6)" stroke="#d4d4d4" stroke-width="0.9"/>
<path d="M672 763 L672 763 C671.8 785.4 676.1 814 677 831 A7 7 0 0 0 691 831 C691.9 814 696.2 785.4 696 763 L696 763 Z" fill="none" stroke="#d4d4d4" stroke-width="0.9"/><path d="M702 763 L702 763 C702.2 785.4 708.1 814 709 831 A7 7 0 0 0 723 831 C723.9 814 728.3 785.4 728 763 L728 763 Z" fill="none" stroke="#d4d4d4" stroke-width="0.9"/>
<path d="M674.8 765 C680 766.4 691.5 763.1 700 763.1 C708.5 763.1 720.4 766.4 725.9 765 C731.4 763.6 731.4 758.4 732.9 754.4 C734.4 750.4 735 745.5 735 741 C735 736.5 734.8 731.2 732.9 727.6 C731 724 727.2 721.2 723.8 719.4 C720.4 717.6 716 716.8 712.6 717 C709.2 717.2 705.6 718.8 703.5 720.4 C701.4 722 700 726.6 700 726.6 C700 726.6 698.8 722 696.5 720.4 C694.2 718.8 689.9 717.1 686 717 C682.1 716.9 676.8 718.3 673.4 719.9 C670 721.5 667 723.1 665.7 726.6 C664.4 730.1 665.2 736.4 665.7 741 C666.2 745.6 667 750.4 668.5 754.4 C670 758.4 669.5 763.6 674.8 765 Z" fill="rgba(255,255,255,0.6)" stroke="#d4d4d4" stroke-width="0.9"/>
<path d="M740 763 L740 763 C739.8 783.8 744.1 810.2 745 826 A7 7 0 0 0 759 826 C759.9 810.2 764.2 783.8 764 763 L764 763 Z" fill="none" stroke="#d4d4d4" stroke-width="0.9"/><path d="M768 763 L768 763 C768.2 783.8 774.1 810.2 775 826 A7 7 0 0 0 789 826 C789.9 810.2 794.3 783.8 794 763 L794 763 Z" fill="none" stroke="#d4d4d4" stroke-width="0.9"/>
<path d="M742.4 765 C747.4 766.4 758.3 763.1 766.5 763.1 C774.7 763.1 786 766.4 791.3 765 C796.5 763.6 796.5 758.4 798 754.4 C799.4 750.4 800 745.5 800 741 C800 736.5 799.8 731.2 798 727.6 C796.2 724 792.5 721.2 789.3 719.4 C786 717.6 781.8 716.8 778.6 717 C775.3 717.2 771.9 718.8 769.9 720.4 C767.8 722 766.5 726.6 766.5 726.6 C766.5 726.6 765.4 722 763.1 720.4 C760.9 718.8 756.8 717.1 753.1 717 C749.4 716.9 744.3 718.3 741 719.9 C737.8 721.5 734.9 723.1 733.7 726.6 C732.4 730.1 733.2 736.4 733.7 741 C734.1 745.6 734.9 750.4 736.4 754.4 C737.8 758.4 737.4 763.6 742.4 765 Z" fill="rgba(255,255,255,0.6)" stroke="#d4d4d4" stroke-width="0.9"/>
<path d="M806 763 L806 763 C805.8 782.8 810.1 808 811 823 A7 7 0 0 0 825 823 C825.9 808 830.2 782.8 830 763 L830 763 Z" fill="none" stroke="#d4d4d4" stroke-width="0.9"/><path d="M832 763 L832 763 C831.5 781.5 834.3 805 835 819 A7 7 0 0 0 849 819 C849.7 805 852.5 781.5 852 763 L852 763 Z" fill="none" stroke="#d4d4d4" stroke-width="0.9"/>
<path d="M807.7 765 C811.8 766.4 820.8 763.1 827.5 763.1 C834.2 763.1 843.5 766.4 847.9 765 C852.2 763.6 852.2 758.4 853.4 754.4 C854.5 750.4 855 745.5 855 741 C855 736.5 854.8 731.2 853.4 727.6 C851.9 724 848.9 721.2 846.2 719.4 C843.5 717.6 840.1 716.8 837.4 717 C834.7 717.2 831.9 718.8 830.2 720.4 C828.6 722 827.5 726.6 827.5 726.6 C827.5 726.6 826.6 722 824.8 720.4 C822.9 718.8 819.5 717.1 816.5 717 C813.5 716.9 809.3 718.3 806.6 719.9 C803.9 721.5 801.6 723.1 800.5 726.6 C799.5 730.1 800.2 736.4 800.5 741 C800.9 745.6 801.6 750.4 802.8 754.4 C803.9 758.4 803.6 763.6 807.7 765 Z" fill="rgba(255,255,255,0.6)" stroke="#d4d4d4" stroke-width="0.9"/>
<path d="M134 742.6 L134 760.1 C133.2 781.8 135.2 809.5 136 826 A6 6 0 0 0 148 826 C148.8 809.5 155.3 781.8 156 760.1 L156 742.6 Z" fill="url(#rootg)" stroke="#555" stroke-width="1.05"/><path d="M158 742.6 L158 760.1 C157.4 782.8 160.6 811.7 161.5 828.9 A6.5 6.5 0 0 0 174.5 828.9 C175.4 811.7 181.6 782.8 182 760.1 L182 742.6 Z" fill="url(#rootg)" stroke="#555" stroke-width="1.05"/>
<path d="M198 742.7 L198 761.4 C197.7 785.7 202.1 816.6 203 835 A7 7 0 0 0 217 835 C217.9 816.6 223.8 785.7 224 761.4 L224 742.7 Z" fill="url(#rootg)" stroke="#555" stroke-width="1.05"/><path d="M230 742.7 L230 761.4 C230.4 786 237.1 817.3 238 835.9 A7 7 0 0 0 252 835.9 C252.9 817.3 256.6 786 256 761.4 L256 742.7 Z" fill="url(#rootg)" stroke="#555" stroke-width="1.05"/>
<path d="M272 740.6 L272 760 C271.9 785.9 276.9 818.9 277.8 838.5 A5.5 5.5 0 0 0 288.8 838.5 C289.7 818.9 296.4 785.9 297 760 L297 740.6 Z" fill="url(#rootg)" stroke="#555" stroke-width="1.05"/>
<path d="M314 741.3 L314 761.2 C314.3 787.7 320.1 821.4 321 841.4 A5 5 0 0 0 331 841.4 C331.9 821.4 337.7 787.7 338 761.2 L338 741.3 Z" fill="url(#rootg)" stroke="#555" stroke-width="1.05"/>
<path d="M354 745.6 L354 771.9 C354.5 799.5 360.6 834.7 361.4 855.6 A5 5 0 0 0 371.4 855.6 C372.2 834.7 377 799.5 377 771.9 L377 745.6 Z" fill="url(#rootg)" stroke="#555" stroke-width="1.05"/>
<path d="M395 745.9 L395 769.5 C395.1 794.2 399.3 825.8 400 844.5 A4.5 4.5 0 0 0 409 844.5 C409.7 825.8 414.7 794.2 415 769.5 L415 745.9 Z" fill="url(#rootg)" stroke="#555" stroke-width="1.05"/>
<path d="M430 746.8 L430 768.3 C430 790.2 433.7 818.1 434.4 834.7 A4.5 4.5 0 0 0 443.4 834.7 C444.1 818.1 448.7 790.2 449 768.3 L449 746.8 Z" fill="url(#rootg)" stroke="#555" stroke-width="1.05"/>
<path d="M474 746.8 L474 768.3 C474.4 790.2 479.5 818.1 480.2 834.7 A4.5 4.5 0 0 0 489.2 834.7 C489.9 818.1 494 790.2 494 768.3 L494 746.8 Z" fill="url(#rootg)" stroke="#555" stroke-width="1.05"/>
<path d="M509 746.5 L509 770.7 C509.1 795 513.8 825.8 514.6 844.2 A4.5 4.5 0 0 0 523.6 844.2 C524.4 825.8 529.7 795 530 770.7 L530 746.5 Z" fill="url(#rootg)" stroke="#555" stroke-width="1.05"/>
<path d="M547 748.2 L547 776.7 C547.2 803 552.6 836.4 553.4 856.3 A5 5 0 0 0 563.4 856.3 C564.2 836.4 569.7 803 570 776.7 L570 748.2 Z" fill="url(#rootg)" stroke="#555" stroke-width="1.05"/>
<path d="M586 741.8 L586 761.2 C586 787.7 590.6 821.4 591.4 841.4 A5 5 0 0 0 601.4 841.4 C602.2 821.4 608.5 787.7 609 761.2 L609 741.8 Z" fill="url(#rootg)" stroke="#555" stroke-width="1.05"/>
<path d="M627 741.3 L627 761.2 C627.1 786.7 632.7 819.2 633.6 838.5 A5.5 5.5 0 0 0 644.6 838.5 C645.5 819.2 651.6 786.7 652 761.2 L652 741.3 Z" fill="url(#rootg)" stroke="#555" stroke-width="1.05"/>
<circle cx="162.3" cy="789.7" r="8.6" fill="url(#gg)" stroke="#0a1a0a" stroke-width="1.6"/><line x1="162.3" y1="786.2" x2="162.3" y2="793.2" stroke="#d8f0a0" stroke-width="1.6"/>
<circle cx="232.5" cy="787.8" r="8.6" fill="url(#gg)" stroke="#0a1a0a" stroke-width="1.6"/><line x1="232.5" y1="784.3" x2="232.5" y2="791.3" stroke="#d8f0a0" stroke-width="1.6"/>
<path d="M117.9 763.1 C119 763.5 122.2 764.9 124.4 765.7 C126.6 766.5 128.7 767.6 130.9 768.1 C133.1 768.6 134.6 769 137.4 769 C140.2 769 144.4 768.5 147.8 768.1 C151.2 767.7 154.7 766.7 158.1 766.4 C161.5 766.1 164.8 766.1 168.5 766.1 C172.2 766.1 176 766.4 180.1 766.4 C184.2 766.4 188.7 766.3 193 766.4 C197.3 766.5 202 766.4 205.9 766.8 C209.8 767.2 213.1 768.5 216.3 769 C219.6 769.5 222.4 770 225.4 769.9 C228.4 769.8 231.8 769.2 234.4 768.3 C237 767.4 238.7 765.5 240.9 764.4 C243.1 763.3 244.6 762.3 247.4 761.8 C250.2 761.3 253.9 761.3 257.8 761.2 C261.7 761.1 267.2 760.9 270.7 761.2 C274.1 761.5 276.1 762.6 278.5 763.1 C280.9 763.6 282.9 764.3 285 764.2 C287.1 764.1 289 763 291.4 762.5 C293.8 762 295.8 760.9 299.2 761 C302.6 761.1 308.6 762.1 312 762.9 C315.4 763.7 317.2 764.7 319.4 765.6 C321.5 766.5 323.1 768.2 324.9 768.4 C326.7 768.5 328.3 767.1 330.4 766.5 C332.5 765.9 335.2 764.4 337.7 764.7 C340.1 765 342.7 767.2 345.1 768.4 C347.6 769.6 349.9 770.8 352.4 771.7 C354.8 772.6 357.6 772.9 359.8 773.9 C362 774.9 363.5 777.8 365.3 777.9 C367.1 778 368.7 776.1 370.8 774.8 C372.9 773.5 375.4 771.3 378.1 770.2 C380.9 769.1 384.6 768.9 387.3 768.4 C390.1 767.9 392.8 766.5 394.6 767.4 C396.4 768.3 397.1 770.7 398.3 773.9 C399.5 777.1 400.9 784.1 402 786.7 C403.1 789.3 403.6 790 404.7 789.5 C405.8 789 407.2 786.8 408.4 784 C409.6 781.2 410.4 775.3 412.1 773 C413.8 770.7 416.2 770.5 418.5 770.2 C420.8 769.9 423.6 770.5 425.9 771.1 C428.2 771.7 430.5 772.2 432.3 773.9 C434.1 775.6 435.5 779.8 436.9 781.2 C438.3 782.6 439.3 783.2 440.5 782.1 C441.7 781 443.1 777.1 444.2 774.8 C445.3 772.5 446.4 769.8 447 768.4 C447.6 767 447.8 766.8 447.9 766.5 L447.5 791.3 C446.9 791.6 445.7 791.6 444.2 793.1 C442.7 794.6 440.5 799.9 438.7 800.5 C436.9 801.1 435 798.3 433.2 796.8 C431.4 795.3 430.1 792.5 427.7 791.3 C425.2 790.1 421.2 789.5 418.5 789.5 C415.8 789.5 413 789 411.2 791.3 C409.4 793.6 408.7 800.5 407.5 803.2 C406.3 806 405 807.6 403.8 807.8 C402.6 808 401.4 805.6 400.2 804.2 C399 802.8 398.6 799.8 396.5 799.2 C394.4 798.6 390.4 800 387.3 800.5 C384.2 801 381.2 801.7 378.1 802.3 C375 802.9 371.3 804.2 368.9 804.2 C366.4 804.2 365.8 803.8 363.4 802.3 C361 800.8 357.4 796.8 354.3 795 C351.2 793.2 348.2 792.4 345.1 791.3 C342 790.2 339 788.5 335.9 788.6 C332.8 788.8 329.8 791.5 326.7 792.2 C323.6 793 320.6 793.4 317.5 793.1 C314.4 792.8 311.8 791.6 308.4 790.4 C305 789.2 300.1 786.5 297.3 785.8 C294.5 785.1 293.4 785.8 291.4 786.2 C289.3 786.6 287.1 788.4 285 788.4 C282.9 788.4 280.9 786.8 278.5 786.5 C276.1 786.2 273.3 786.2 270.7 786.5 C268.1 786.8 265.5 787.6 262.9 788.4 C260.3 789.1 258.2 790.5 255.2 791 C252.2 791.5 248.7 791.3 244.8 791.7 C240.9 792.1 236.1 792.7 231.8 793.2 C227.5 793.7 223.2 794.3 218.9 794.9 C214.6 795.5 210.2 796.3 205.9 796.6 C201.6 796.9 197.3 796.8 193 796.8 C188.7 796.8 184.2 796.6 180.1 796.6 C176 796.6 171.7 796.6 168.5 796.8 C165.3 796.9 163.1 797.5 160.7 797.5 C158.3 797.5 156.3 796.7 154.2 796.8 C152 796.9 150.2 797.8 147.8 798.1 C145.4 798.4 142.2 799.2 140 798.8 C137.8 798.4 136.3 797.3 134.8 795.5 C133.3 793.7 132.2 791 130.9 787.8 C129.6 784.6 128.3 779.6 127 776.1 C125.7 772.6 124.6 769.2 123.1 767 C121.6 764.8 118.8 763.8 117.9 763.1 Z" fill="rgba(12,12,240,0.33)"/>
<path d="M476 766.1 C476.1 767.3 476.4 771.2 476.9 773.2 C477.4 775.2 478.2 776.1 479 778.1 C479.8 780.1 480.9 783.4 481.8 785.1 C482.8 786.9 483.8 788.6 484.7 788.6 C485.6 788.6 486.6 787.1 487.5 785.1 C488.4 783.1 489.4 778.6 490.3 776.7 C491.2 774.8 491.5 774.7 493.1 773.9 C494.7 773.1 497.8 772.3 500.1 771.8 C502.4 771.3 505.2 770.6 507.1 770.8 C509 771 510.1 771.6 511.3 773.2 C512.5 774.8 513.2 777.9 514.1 780.2 C515 782.5 516 785.6 516.9 787.2 C517.8 788.8 518.8 790.1 519.8 790 C520.8 789.9 521.7 788.6 522.6 786.5 C523.5 784.4 524.5 779.6 525.4 777.4 C526.3 775.2 526.6 774.2 528.2 773.2 C529.8 772.2 532.9 772.2 535.2 771.1 C537.5 770 540.1 767.8 542.2 766.8 C544.3 765.8 546.4 765.1 547.8 765.4 C549.2 765.6 549.4 766.6 550.6 768.3 C551.8 769.9 553.6 773.5 554.8 775.3 C556 777 556.5 778.4 557.7 778.8 C558.9 779.1 560.3 778.4 561.9 777.4 C563.5 776.4 565.4 773.7 567.5 772.5 C569.6 771.3 571.9 771.6 574.5 770.4 C577.1 769.2 580.3 766.4 582.9 765.4 C585.5 764.4 587.4 763.9 590 764.5 C592.6 765.1 595.6 768.9 598.4 768.8 C601.2 768.7 603.5 764.6 606.8 763.9 C610.1 763.2 614.8 764.1 618.1 764.6 C621.4 765.1 623.5 765.8 626.5 766.7 C629.5 767.6 633 769.7 636.3 769.8 C639.6 769.9 643.2 768.1 646.2 767.4 C649.2 766.6 651.8 766.1 654.6 765.3 C657.4 764.5 660.2 763.2 663 762.5 C665.8 761.8 670 761.3 671.4 761.1 L671.4 761.8 C670.7 762.4 668.6 763.8 667.2 765.3 C665.8 766.8 664.4 768.3 663 770.9 C661.6 773.5 660.2 778 658.8 780.7 C657.4 783.4 656.7 785.1 654.6 787 C652.5 788.9 648.8 790.8 646.2 792 C643.6 793.2 641.2 793.8 639.1 794 C637 794.2 635.6 793.8 633.5 793.3 C631.4 792.8 629.1 791.9 626.5 791.2 C623.9 790.5 620.7 789.6 618.1 789.1 C615.5 788.6 613.5 787.9 611.1 788.4 C608.8 788.9 606.4 791.1 604 792 C601.6 792.9 599.3 794.5 597 794 C594.7 793.5 592.4 789.6 590 789.1 C587.6 788.6 585.5 789.7 582.9 790.7 C580.3 791.7 577.3 794 574.5 794.9 C571.7 795.8 568.9 795.9 566.1 796.3 C563.3 796.6 560.1 797.7 557.7 797 C555.4 796.3 553.6 793.4 552 792.1 C550.4 790.8 549.7 789.4 547.8 789 C545.9 788.6 543.4 789.6 540.8 790 C538.2 790.4 535 790.8 532.4 791.4 C529.8 792 527.3 791.9 525.4 793.5 C523.5 795.1 522.4 799.8 521.2 801.2 C520 802.6 519.5 802.7 518.3 801.9 C517.1 801.1 515.5 798.2 514.1 796.3 C512.7 794.4 511.5 791.9 509.9 790.7 C508.3 789.5 506.6 789.3 504.3 789.3 C502 789.3 498.2 790.1 495.9 790.7 C493.6 791.3 491.9 791.3 490.3 792.8 C488.7 794.3 487.3 798.5 486.1 799.8 C484.9 801.1 484.5 801.3 483.3 800.5 C482.1 799.7 480.2 796.4 479 794.9 C477.8 793.4 476.5 792 476 791.4 Z" fill="rgba(12,12,240,0.33)"/>
<path d="M140.1 723.6 C142.4 722.3 145.2 720.5 147.7 720.3 C150.2 720 153.3 721.3 155.2 722.1 C157.1 722.9 159 725.1 159 725.1 C159 725.1 161.9 722.3 164.3 721.3 C166.7 720.3 170.1 719 173.4 719.1 C176.7 719.2 181 719.8 184 722.1 C187 724.4 190.5 728.7 191.5 732.7 C192.5 736.7 191.5 742 190 746.3 C188.5 750.6 185.8 756 182.5 758.4 C179.2 760.8 174.4 760.4 170.4 760.6 C166.4 760.9 162.1 759.5 158.3 759.9 C154.5 760.3 150.7 762.9 147.7 762.9 C144.7 762.9 142.6 762.4 140.1 759.9 C137.6 757.4 134.2 752.1 132.6 747.8 C131 743.5 130.1 737.5 130.3 734.2 C130.6 730.9 132.5 729.9 134.1 728.1 C135.7 726.3 137.8 724.9 140.1 723.6 Z" fill="url(#orng)" stroke="#6a4424" stroke-width="1.1"/><path d="M159 725.5 C157.5 729 156.5 733 156 737.2" fill="none" stroke="#3a2a1a" stroke-width="0.9"/>
<path d="M194.5 726.6 C195.5 724.3 197.1 721.5 199.1 720.6 C201.1 719.7 206.6 721.3 206.6 721.3 C206.6 721.3 207.7 721 209.7 720.6 C211.7 720.2 215.4 718.9 218.7 719.1 C222 719.4 229.3 722.1 229.3 722.1 C229.3 722.1 234.9 718.7 238.4 718.3 C241.9 717.9 247.2 718.7 250.5 719.8 C253.8 720.9 256.4 722.2 258 725.1 C259.6 728 260.6 732.9 260.3 737.2 C260.1 741.5 258.1 747.3 256.5 750.8 C254.9 754.3 253.5 756.5 250.5 758.4 C247.5 760.3 242.9 761.6 238.4 762.2 C233.9 762.8 228.1 762.5 223.3 762.2 C218.5 761.9 213.5 761.2 209.7 760.6 C205.9 760 203.1 761.3 200.6 758.4 C198.1 755.5 195.8 747.3 194.5 743.3 C193.2 739.3 193 737 193 734.2 C193 731.4 193.5 728.9 194.5 726.6 Z" fill="url(#orng)" stroke="#6a4424" stroke-width="1.1"/><path d="M206.6 721.5 C207 726 207.3 730 207.4 734.2" fill="none" stroke="#3a2a1a" stroke-width="0.9"/><path d="M229.3 722.3 C229.3 727 229.3 731 229.3 735.7" fill="none" stroke="#3a2a1a" stroke-width="0.9"/>
<path d="M283.7 714.7 C288.4 714.7 294.2 716.4 297.9 719.3 C301.6 722.2 305.3 727.8 305.8 732.1 C306.3 736.4 303.1 740.4 300.8 744.9 C298.5 749.4 294.8 756.2 292.2 759.2 C289.6 762.2 287.7 762.7 285.1 762.7 C282.5 762.7 279.4 761.7 276.5 759.2 C273.6 756.7 270.4 752.3 268 747.8 C265.6 743.3 262.1 736.9 262.3 732.1 C262.5 727.4 265.8 722.2 269.4 719.3 C273 716.4 278.9 714.7 283.7 714.7 Z" fill="url(#whtg)" stroke="#5a5a5a" stroke-width="1"/>
<path d="M327.8 714.7 C332.1 715.2 336.6 719.9 339.3 723.5 C342 727.1 344.2 732.1 344.2 736.4 C344.2 740.7 341.1 745.4 339.3 749.2 C337.5 753 336 757 333.6 759.2 C331.2 761.5 327.9 763 325 762.7 C322.1 762.5 318.8 760.2 316.4 757.7 C314 755.2 312.3 752.1 310.7 747.8 C309.1 743.5 306 736.6 306.5 732.1 C307 727.6 310.1 723.6 313.6 720.7 C317.2 717.8 323.5 714.2 327.8 714.7 Z" fill="url(#whtg)" stroke="#5a5a5a" stroke-width="1"/>
<path d="M367.8 711 C371.9 710.3 376.4 713.6 379.2 716.4 C382 719.2 384.4 722.6 384.9 727.8 C385.4 733 383.7 741.6 382 747.8 C380.3 754 377.5 760.6 374.9 764.9 C372.3 769.2 369.1 773.4 366.3 773.4 C363.5 773.4 360.2 768.2 357.8 764.9 C355.4 761.6 354.1 758.5 352.1 753.5 C350.1 748.5 345.2 740.4 345.7 734.9 C346.2 729.4 351.2 724.7 354.9 720.7 C358.6 716.7 363.8 711.7 367.8 711 Z" fill="url(#whtg)" stroke="#5a5a5a" stroke-width="1"/>
<path d="M385.7 723.5 C387.6 721.2 391.4 718.6 397.1 717.1 C402.8 715.6 415.6 713.7 419.9 714.3 C424.2 714.9 422.8 716.3 422.8 720.7 C422.8 725.1 421.6 733.7 419.9 740.6 C418.2 747.5 415.4 756.8 412.8 762 C410.2 767.2 407.1 772 404.2 772 C401.3 772 398.3 766.5 395.7 762 C393.1 757.5 390.3 750.1 388.6 744.9 C386.9 739.7 386.2 734.3 385.7 730.7 C385.2 727.1 383.8 725.8 385.7 723.5 Z" fill="url(#whtg)" stroke="#5a5a5a" stroke-width="1"/>
<path d="M424.2 725 C426 722.6 429 720.4 434.2 719.3 C439.4 718.2 451.7 717.5 455.6 718.5 C459.5 719.5 457.9 720.6 457.7 725 C457.4 729.4 455.9 738.7 454.1 744.9 C452.3 751.1 449.4 757.7 447 762 C444.6 766.3 442.3 770.1 439.9 770.6 C437.5 771.1 434.8 768.7 432.7 764.9 C430.6 761.1 428.5 753 427 747.8 C425.5 742.6 424 737.3 423.5 733.5 C423 729.7 422.4 727.4 424.2 725 Z" fill="url(#whtg)" stroke="#5a5a5a" stroke-width="1"/>
<path d="M467 720.7 C468.8 718.6 472.6 718.1 476.9 718.1 C481.2 718.1 488.8 718.9 492.6 720.7 C496.4 722.6 499 724.7 499.7 729.2 C500.4 733.7 498.3 742.3 496.9 747.8 C495.5 753.3 493.3 758.2 491.2 762 C489.1 765.8 486.7 770.6 484.1 770.6 C481.5 770.6 478.1 765.8 475.5 762 C472.9 758.2 469.9 753 468.4 747.8 C466.8 742.6 466.4 735.2 466.2 730.7 C466 726.2 465.2 722.8 467 720.7 Z" fill="url(#whtg)" stroke="#5a5a5a" stroke-width="1"/>
<path d="M501.4 717.8 C502.8 715.6 504.4 714.7 509.3 714.7 C514.2 714.7 525.9 716.1 530.6 717.8 C535.4 719.5 537.3 720 537.8 725 C538.3 730 535.4 741.1 533.5 747.8 C531.6 754.4 528.7 760.9 526.4 764.9 C524.1 768.9 522.3 772 519.9 772 C517.5 772 514.6 768.9 512.1 764.9 C509.6 760.9 506.9 754 505 747.8 C503.1 741.6 501.3 732.8 500.7 727.8 C500.1 722.8 500 720 501.4 717.8 Z" fill="url(#whtg)" stroke="#5a5a5a" stroke-width="1"/>
<path d="M556.3 711 C560.3 711.5 565.4 716.7 569.1 720.7 C572.8 724.7 577.5 729.9 578.4 734.9 C579.3 739.9 576.8 745.6 574.8 750.6 C572.8 755.6 569.1 761.3 566.3 764.9 C563.4 768.5 560.3 771.8 557.7 772 C555.1 772.2 552.7 769.9 550.6 766.3 C548.5 762.7 546.8 756.8 544.9 750.6 C543 744.4 539.2 734.7 539.2 729.2 C539.2 723.7 542 720.8 544.9 717.8 C547.8 714.8 552.3 710.5 556.3 711 Z" fill="url(#whtg)" stroke="#5a5a5a" stroke-width="1"/>
<path d="M594.8 714.7 C598.6 714.5 603.9 717.8 607.6 720.7 C611.3 723.6 616 728.1 616.9 732.1 C617.8 736.1 615.1 740.6 613.3 744.9 C611.5 749.2 608.8 754.7 606.2 757.7 C603.6 760.7 600.2 762.5 597.6 762.7 C595 763 592.6 761.7 590.5 759.2 C588.4 756.7 586.7 751.6 584.8 747.8 C582.9 744 579.1 740.7 579.1 736.4 C579.1 732.1 582.2 725.7 584.8 722.1 C587.4 718.5 591 714.9 594.8 714.7 Z" fill="url(#whtg)" stroke="#5a5a5a" stroke-width="1"/>
<path d="M638.5 714.7 C642.5 714.7 645.9 716.2 649.9 719.3 C653.9 722.4 661.3 729.2 662.7 733.5 C664.1 737.8 660.5 740.6 658.4 744.9 C656.3 749.2 652.8 756 649.9 759.2 C647 762.4 644.1 764 641.3 764.2 C638.4 764.4 635.4 763.3 632.8 760.6 C630.2 757.9 628.3 752.3 625.7 747.8 C623.1 743.3 617.1 738.2 617.1 733.5 C617.1 728.8 622.1 722.4 625.7 719.3 C629.3 716.2 634.5 714.7 638.5 714.7 Z" fill="url(#whtg)" stroke="#5a5a5a" stroke-width="1"/>
<path d="M117.9 763.1 C118.8 763.8 121.6 764.8 123.1 767 C124.6 769.2 125.7 772.6 127 776.1 C128.3 779.6 129.6 784.6 130.9 787.8 C132.2 791 133.3 793.7 134.8 795.5 C136.3 797.3 137.8 798.4 140 798.8 C142.2 799.2 145.4 798.4 147.8 798.1 C150.2 797.8 152 796.9 154.2 796.8 C156.3 796.7 158.3 797.5 160.7 797.5 C163.1 797.5 165.3 796.9 168.5 796.8 C171.7 796.6 176 796.6 180.1 796.6 C184.2 796.6 188.7 796.8 193 796.8 C197.3 796.8 201.6 796.9 205.9 796.6 C210.2 796.3 214.6 795.5 218.9 794.9 C223.2 794.3 227.5 793.7 231.8 793.2 C236.1 792.7 240.9 792.1 244.8 791.7 C248.7 791.3 252.2 791.5 255.2 791 C258.2 790.5 260.3 789.1 262.9 788.4 C265.5 787.6 268.1 786.8 270.7 786.5 C273.3 786.2 276.1 786.2 278.5 786.5 C280.9 786.8 282.9 788.4 285 788.4 C287.1 788.4 289.3 786.6 291.4 786.2 C293.4 785.8 294.5 785.1 297.3 785.8 C300.1 786.5 305 789.2 308.4 790.4 C311.8 791.6 314.4 792.8 317.5 793.1 C320.6 793.4 323.6 793 326.7 792.2 C329.8 791.5 332.8 788.8 335.9 788.6 C339 788.5 342 790.2 345.1 791.3 C348.2 792.4 351.2 793.2 354.3 795 C357.4 796.8 361 800.8 363.4 802.3 C365.8 803.8 366.4 804.2 368.9 804.2 C371.3 804.2 375 802.9 378.1 802.3 C381.2 801.7 384.2 801 387.3 800.5 C390.4 800 394.4 798.6 396.5 799.2 C398.6 799.8 399 802.8 400.2 804.2 C401.4 805.6 402.6 808 403.8 807.8 C405 807.6 406.3 806 407.5 803.2 C408.7 800.5 409.4 793.6 411.2 791.3 C413 789 415.8 789.5 418.5 789.5 C421.2 789.5 425.2 790.1 427.7 791.3 C430.1 792.5 431.4 795.3 433.2 796.8 C435 798.3 436.9 801.1 438.7 800.5 C440.5 799.9 442.7 794.6 444.2 793.1 C445.7 791.6 446.9 793.6 447.5 791.3 C448.1 788.9 447.8 783.1 447.9 779 C448 774.9 447.9 768.6 447.9 766.5" fill="none" stroke="#1c1c80" stroke-width="1.7" stroke-linejoin="round"/>
<path d="M117.9 763.1 C119 763.5 122.2 764.9 124.4 765.7 C126.6 766.5 128.7 767.6 130.9 768.1 C133.1 768.6 134.6 769 137.4 769 C140.2 769 144.4 768.5 147.8 768.1 C151.2 767.7 154.7 766.7 158.1 766.4 C161.5 766.1 164.8 766.1 168.5 766.1 C172.2 766.1 176 766.4 180.1 766.4 C184.2 766.4 188.7 766.3 193 766.4 C197.3 766.5 202 766.4 205.9 766.8 C209.8 767.2 213.1 768.5 216.3 769 C219.6 769.5 222.4 770 225.4 769.9 C228.4 769.8 231.8 769.2 234.4 768.3 C237 767.4 238.7 765.5 240.9 764.4 C243.1 763.3 244.6 762.3 247.4 761.8 C250.2 761.3 253.9 761.3 257.8 761.2 C261.7 761.1 267.2 760.9 270.7 761.2 C274.1 761.5 276.1 762.6 278.5 763.1 C280.9 763.6 282.9 764.3 285 764.2 C287.1 764.1 289 763 291.4 762.5 C293.8 762 295.8 760.9 299.2 761 C302.6 761.1 308.6 762.1 312 762.9 C315.4 763.7 317.2 764.7 319.4 765.6 C321.5 766.5 323.1 768.2 324.9 768.4 C326.7 768.5 328.3 767.1 330.4 766.5 C332.5 765.9 335.2 764.4 337.7 764.7 C340.1 765 342.7 767.2 345.1 768.4 C347.6 769.6 349.9 770.8 352.4 771.7 C354.8 772.6 357.6 772.9 359.8 773.9 C362 774.9 363.5 777.8 365.3 777.9 C367.1 778 368.7 776.1 370.8 774.8 C372.9 773.5 375.4 771.3 378.1 770.2 C380.9 769.1 384.6 768.9 387.3 768.4 C390.1 767.9 392.8 766.5 394.6 767.4 C396.4 768.3 397.1 770.7 398.3 773.9 C399.5 777.1 400.9 784.1 402 786.7 C403.1 789.3 403.6 790 404.7 789.5 C405.8 789 407.2 786.8 408.4 784 C409.6 781.2 410.4 775.3 412.1 773 C413.8 770.7 416.2 770.5 418.5 770.2 C420.8 769.9 423.6 770.5 425.9 771.1 C428.2 771.7 430.5 772.2 432.3 773.9 C434.1 775.6 435.5 779.8 436.9 781.2 C438.3 782.6 439.3 783.2 440.5 782.1 C441.7 781 443.1 777.1 444.2 774.8 C445.3 772.5 446.4 769.8 447 768.4 C447.6 767 447.8 766.8 447.9 766.5" fill="none" stroke="#d21a3c" stroke-width="1.9" stroke-linejoin="round"/>
<path d="M75.8 764.2 C77 763.9 80.7 763.1 83 762.5 C85.3 761.9 87.2 760.8 89.4 760.3 C91.6 759.8 93.7 759.5 95.9 759.5 C98.1 759.5 100.2 759.9 102.4 760.3 C104.6 760.7 106.3 761.6 108.9 762.1 C111.5 762.6 115.3 762.5 117.9 763.1 C120.5 763.7 123.3 765.3 124.4 765.7" fill="none" stroke="#d42a44" stroke-width="1.45" stroke-linejoin="round"/>
<path d="M447 768.4 C447.1 768.1 447.8 766.8 447.9 766.5" fill="none" stroke="#d42a44" stroke-width="1.45" stroke-linejoin="round"/>
<path d="M476 766.1 C476 768.2 476 774.8 476 779 C476 783.2 475.5 788.8 476 791.4 C476.5 794 477.8 793.4 479 794.9 C480.2 796.4 482.1 799.7 483.3 800.5 C484.5 801.3 484.9 801.1 486.1 799.8 C487.3 798.5 488.7 794.3 490.3 792.8 C491.9 791.3 493.6 791.3 495.9 790.7 C498.2 790.1 502 789.3 504.3 789.3 C506.6 789.3 508.3 789.5 509.9 790.7 C511.5 791.9 512.7 794.4 514.1 796.3 C515.5 798.2 517.1 801.1 518.3 801.9 C519.5 802.7 520 802.6 521.2 801.2 C522.4 799.8 523.5 795.1 525.4 793.5 C527.3 791.9 529.8 792 532.4 791.4 C535 790.8 538.2 790.4 540.8 790 C543.4 789.6 545.9 788.6 547.8 789 C549.7 789.4 550.4 790.8 552 792.1 C553.6 793.4 555.4 796.3 557.7 797 C560.1 797.7 563.3 796.6 566.1 796.3 C568.9 795.9 571.7 795.8 574.5 794.9 C577.3 794 580.3 791.7 582.9 790.7 C585.5 789.7 587.6 788.6 590 789.1 C592.4 789.6 594.7 793.5 597 794 C599.3 794.5 601.6 792.9 604 792 C606.4 791.1 608.8 788.9 611.1 788.4 C613.5 787.9 615.5 788.6 618.1 789.1 C620.7 789.6 623.9 790.5 626.5 791.2 C629.1 791.9 631.4 792.8 633.5 793.3 C635.6 793.8 637 794.2 639.1 794 C641.2 793.8 643.6 793.2 646.2 792 C648.8 790.8 652.5 788.9 654.6 787 C656.7 785.1 657.4 783.4 658.8 780.7 C660.2 778 661.6 773.5 663 770.9 C664.4 768.3 665.8 766.8 667.2 765.3 C668.6 763.8 670.7 762.4 671.4 761.8" fill="none" stroke="#1c1c80" stroke-width="1.7" stroke-linejoin="round"/>
<path d="M476 766.1 C476.1 767.3 476.4 771.2 476.9 773.2 C477.4 775.2 478.2 776.1 479 778.1 C479.8 780.1 480.9 783.4 481.8 785.1 C482.8 786.9 483.8 788.6 484.7 788.6 C485.6 788.6 486.6 787.1 487.5 785.1 C488.4 783.1 489.4 778.6 490.3 776.7 C491.2 774.8 491.5 774.7 493.1 773.9 C494.7 773.1 497.8 772.3 500.1 771.8 C502.4 771.3 505.2 770.6 507.1 770.8 C509 771 510.1 771.6 511.3 773.2 C512.5 774.8 513.2 777.9 514.1 780.2 C515 782.5 516 785.6 516.9 787.2 C517.8 788.8 518.8 790.1 519.8 790 C520.8 789.9 521.7 788.6 522.6 786.5 C523.5 784.4 524.5 779.6 525.4 777.4 C526.3 775.2 526.6 774.2 528.2 773.2 C529.8 772.2 532.9 772.2 535.2 771.1 C537.5 770 540.1 767.8 542.2 766.8 C544.3 765.8 546.4 765.1 547.8 765.4 C549.2 765.6 549.4 766.6 550.6 768.3 C551.8 769.9 553.6 773.5 554.8 775.3 C556 777 556.5 778.4 557.7 778.8 C558.9 779.1 560.3 778.4 561.9 777.4 C563.5 776.4 565.4 773.7 567.5 772.5 C569.6 771.3 571.9 771.6 574.5 770.4 C577.1 769.2 580.3 766.4 582.9 765.4 C585.5 764.4 587.4 763.9 590 764.5 C592.6 765.1 595.6 768.9 598.4 768.8 C601.2 768.7 603.5 764.6 606.8 763.9 C610.1 763.2 614.8 764.1 618.1 764.6 C621.4 765.1 623.5 765.8 626.5 766.7 C629.5 767.6 633 769.7 636.3 769.8 C639.6 769.9 643.2 768.1 646.2 767.4 C649.2 766.6 651.8 766.1 654.6 765.3 C657.4 764.5 660.2 763.2 663 762.5 C665.8 761.8 670 761.3 671.4 761.1" fill="none" stroke="#d21a3c" stroke-width="1.9" stroke-linejoin="round"/>
<path d="M476 766.1 C476.1 767.3 476.8 772 476.9 773.2" fill="none" stroke="#d42a44" stroke-width="1.45" stroke-linejoin="round"/>
<path d="M663 762.5 C664.4 762.3 668.6 761.2 671.4 761.1 C674.2 761 677 761.4 679.8 761.8 C682.6 762.2 685.5 763.2 688.3 763.6 C691.1 764 693.7 764.2 696.7 763.9 C699.7 763.6 702.6 762.4 706.5 761.8 C710.4 761.2 714.4 760.4 720 760.1 C725.6 759.8 733.3 760.1 740 760.1 C746.7 760.1 755 759.9 760 760.1 C765 760.4 765 761.2 770 761.6 C775 762 783.3 762.5 790 762.6 C796.7 762.7 805 762.6 810 762.1 C815 761.6 816.7 759.9 820 759.6 C823.3 759.3 826.7 759.5 830 760.1 C833.3 760.7 837 762.7 840 763.4 C843 764.1 846.7 764 848 764.1" fill="none" stroke="#d42a44" stroke-width="1.45" stroke-linejoin="round"/>
<rect x="66.9" y="212.4" width="49.7" height="33.2" rx="12" fill="url(#occg)" stroke="#bcbcbc" stroke-width="2"/><path d="M80.8 219 L102.7 219 L102.7 239 L80.8 239 Z" fill="#fbfbf8" stroke="#cfcfcf" stroke-width="0.9"/><path d="M80.8 219 L75.3 213.9 M102.7 219 L108.2 213.9 M80.8 239 L75.3 244.1 M102.7 239 L108.2 244.1" stroke="#cfcfcf" stroke-width="0.9"/>
<rect x="122.6" y="212.4" width="50.4" height="33.2" rx="12" fill="url(#occg)" stroke="#bcbcbc" stroke-width="2"/><path d="M136.7 219 L158.9 219 L158.9 239 L136.7 239 Z" fill="#fbfbf8" stroke="#cfcfcf" stroke-width="0.9"/><path d="M136.7 219 L131.2 213.9 M158.9 219 L164.4 213.9 M136.7 239 L131.2 244.1 M158.9 239 L164.4 244.1" stroke="#cfcfcf" stroke-width="0.9"/><ellipse cx="132" cy="222.3" rx="2.7" ry="6.2" fill="#e00a0a" stroke="#b00000" stroke-width="0.5"/><ellipse cx="132" cy="234.8" rx="2.7" ry="6.2" fill="#e00a0a" stroke="#b00000" stroke-width="0.5"/><ellipse cx="162.5" cy="234.8" rx="2.7" ry="6.2" fill="#e00a0a" stroke="#b00000" stroke-width="0.5"/>
<rect x="178" y="212.4" width="57" height="33.2" rx="12" fill="url(#occg)" stroke="#bcbcbc" stroke-width="2"/><path d="M194 219 L219 219 L219 239 L194 239 Z" fill="#fbfbf8" stroke="#cfcfcf" stroke-width="0.9"/><path d="M194 219 L187.7 213.9 M219 219 L225.3 213.9 M194 239 L187.7 244.1 M219 239 L225.3 244.1" stroke="#cfcfcf" stroke-width="0.9"/><ellipse cx="188.4" cy="222.3" rx="2.7" ry="6.2" fill="#e00a0a" stroke="#b00000" stroke-width="0.5"/><ellipse cx="224.4" cy="222.3" rx="2.7" ry="6.2" fill="#e00a0a" stroke="#b00000" stroke-width="0.5"/><ellipse cx="224.4" cy="234.8" rx="2.7" ry="6.2" fill="#e00a0a" stroke="#b00000" stroke-width="0.5"/>
<rect x="240.8" y="212.4" width="35.8" height="33.2" rx="12" fill="url(#occg)" stroke="#bcbcbc" stroke-width="2"/><path d="M250.8 219 L266.6 219 L266.6 239 L250.8 239 Z" fill="#fbfbf8" stroke="#cfcfcf" stroke-width="0.9"/><path d="M250.8 219 L246.9 213.9 M266.6 219 L270.5 213.9 M250.8 239 L246.9 244.1 M266.6 239 L270.5 244.1" stroke="#cfcfcf" stroke-width="0.9"/><ellipse cx="247.4" cy="222.3" rx="2.7" ry="6.2" fill="#e00a0a" stroke="#b00000" stroke-width="0.5"/><ellipse cx="247.4" cy="234.8" rx="2.7" ry="6.2" fill="#e00a0a" stroke="#b00000" stroke-width="0.5"/><ellipse cx="269.8" cy="222.3" rx="2.7" ry="6.2" fill="#e00a0a" stroke="#b00000" stroke-width="0.5"/><ellipse cx="269.8" cy="234.8" rx="2.7" ry="6.2" fill="#e00a0a" stroke="#b00000" stroke-width="0.5"/>
<rect x="281" y="212.4" width="35.5" height="33.2" rx="12" fill="url(#occg)" stroke="#bcbcbc" stroke-width="2"/><path d="M290.9 219 L306.6 219 L306.6 239 L290.9 239 Z" fill="#fbfbf8" stroke="#cfcfcf" stroke-width="0.9"/><path d="M290.9 219 L287 213.9 M306.6 219 L310.5 213.9 M290.9 239 L287 244.1 M306.6 239 L310.5 244.1" stroke="#cfcfcf" stroke-width="0.9"/><ellipse cx="287.2" cy="222.3" rx="2.7" ry="6.2" fill="#e00a0a" stroke="#b00000" stroke-width="0.5"/><ellipse cx="287.2" cy="234.8" rx="2.7" ry="6.2" fill="#e00a0a" stroke="#b00000" stroke-width="0.5"/><ellipse cx="310.8" cy="222.3" rx="2.7" ry="6.2" fill="#e00a0a" stroke="#b00000" stroke-width="0.5"/><ellipse cx="310.8" cy="234.8" rx="2.7" ry="6.2" fill="#e00a0a" stroke="#b00000" stroke-width="0.5"/>
<rect x="322" y="212.4" width="37.2" height="33.2" rx="12" fill="url(#occg)" stroke="#bcbcbc" stroke-width="2"/><path d="M332.4 219 L348.8 219 L348.8 239 L332.4 239 Z" fill="#fbfbf8" stroke="#cfcfcf" stroke-width="0.9"/><path d="M332.4 219 L328.3 213.9 M348.8 219 L352.9 213.9 M332.4 239 L328.3 244.1 M348.8 239 L352.9 244.1" stroke="#cfcfcf" stroke-width="0.9"/><ellipse cx="329.4" cy="222.3" rx="2.7" ry="6.2" fill="#e00a0a" stroke="#b00000" stroke-width="0.5"/><ellipse cx="329.4" cy="234.8" rx="2.7" ry="6.2" fill="#e00a0a" stroke="#b00000" stroke-width="0.5"/><ellipse cx="340.6" cy="216.4" rx="5.4" ry="2.9" fill="#e00a0a" stroke="#b00000" stroke-width="0.5"/><ellipse cx="353.7" cy="222.3" rx="2.7" ry="6.2" fill="#e00a0a" stroke="#b00000" stroke-width="0.5"/><ellipse cx="353.7" cy="234.8" rx="2.7" ry="6.2" fill="#e00a0a" stroke="#b00000" stroke-width="0.5"/>
<rect x="364.7" y="212.4" width="34.3" height="33.2" rx="12" fill="url(#occg)" stroke="#bcbcbc" stroke-width="2"/><path d="M374.3 219 L389.4 219 L389.4 239 L374.3 239 Z" fill="#fbfbf8" stroke="#cfcfcf" stroke-width="0.9"/><path d="M374.3 219 L370.5 213.9 M389.4 219 L393.2 213.9 M374.3 239 L370.5 244.1 M389.4 239 L393.2 244.1" stroke="#cfcfcf" stroke-width="0.9"/><ellipse cx="370.4" cy="234.8" rx="2.7" ry="6.2" fill="#e00a0a" stroke="#b00000" stroke-width="0.5"/><ellipse cx="392.5" cy="222.3" rx="2.7" ry="6.2" fill="#e00a0a" stroke="#b00000" stroke-width="0.5"/>
<rect x="403.4" y="212.4" width="44.6" height="33.2" rx="12" fill="url(#occg)" stroke="#bcbcbc" stroke-width="2"/><path d="M415.9 219 L435.5 219 L435.5 239 L415.9 239 Z" fill="#fbfbf8" stroke="#cfcfcf" stroke-width="0.9"/><path d="M415.9 219 L411 213.9 M435.5 219 L440.4 213.9 M415.9 239 L411 244.1 M435.5 239 L440.4 244.1" stroke="#cfcfcf" stroke-width="0.9"/><ellipse cx="410.9" cy="222.3" rx="2.7" ry="6.2" fill="#e00a0a" stroke="#b00000" stroke-width="0.5"/><ellipse cx="410.9" cy="234.8" rx="2.7" ry="6.2" fill="#e00a0a" stroke="#b00000" stroke-width="0.5"/>
<rect x="472.9" y="212.4" width="46.2" height="33.2" rx="12" fill="url(#occg)" stroke="#bcbcbc" stroke-width="2"/><path d="M485.8 219 L506.2 219 L506.2 239 L485.8 239 Z" fill="#fbfbf8" stroke="#cfcfcf" stroke-width="0.9"/><path d="M485.8 219 L480.8 213.9 M506.2 219 L511.2 213.9 M485.8 239 L480.8 244.1 M506.2 239 L511.2 244.1" stroke="#cfcfcf" stroke-width="0.9"/><ellipse cx="481.9" cy="222.3" rx="2.7" ry="6.2" fill="#e00a0a" stroke="#b00000" stroke-width="0.5"/><ellipse cx="481.9" cy="234.8" rx="2.7" ry="6.2" fill="#e00a0a" stroke="#b00000" stroke-width="0.5"/>
<rect x="523.3" y="212.4" width="34.1" height="33.2" rx="12" fill="url(#occg)" stroke="#bcbcbc" stroke-width="2"/><path d="M532.8 219 L547.9 219 L547.9 239 L532.8 239 Z" fill="#fbfbf8" stroke="#cfcfcf" stroke-width="0.9"/><path d="M532.8 219 L529.1 213.9 M547.9 219 L551.6 213.9 M532.8 239 L529.1 244.1 M547.9 239 L551.6 244.1" stroke="#cfcfcf" stroke-width="0.9"/><ellipse cx="529.5" cy="222.3" rx="2.7" ry="6.2" fill="#e00a0a" stroke="#b00000" stroke-width="0.5"/><ellipse cx="529.5" cy="234.8" rx="2.7" ry="6.2" fill="#e00a0a" stroke="#b00000" stroke-width="0.5"/>
<rect x="561.3" y="212.4" width="39" height="33.2" rx="12" fill="url(#occg)" stroke="#bcbcbc" stroke-width="2"/><path d="M572.2 219 L589.4 219 L589.4 239 L572.2 239 Z" fill="#fbfbf8" stroke="#cfcfcf" stroke-width="0.9"/><path d="M572.2 219 L567.9 213.9 M589.4 219 L593.7 213.9 M572.2 239 L567.9 244.1 M589.4 239 L593.7 244.1" stroke="#cfcfcf" stroke-width="0.9"/>
<rect x="604" y="212.4" width="36.8" height="33.2" rx="12" fill="url(#occg)" stroke="#bcbcbc" stroke-width="2"/><path d="M614.3 219 L630.5 219 L630.5 239 L614.3 239 Z" fill="#fbfbf8" stroke="#cfcfcf" stroke-width="0.9"/><path d="M614.3 219 L610.3 213.9 M630.5 219 L634.5 213.9 M614.3 239 L610.3 244.1 M630.5 239 L634.5 244.1" stroke="#cfcfcf" stroke-width="0.9"/><ellipse cx="610.5" cy="222.3" rx="2.7" ry="6.2" fill="#e00a0a" stroke="#b00000" stroke-width="0.5"/><ellipse cx="634.6" cy="222.3" rx="2.7" ry="6.2" fill="#e00a0a" stroke="#b00000" stroke-width="0.5"/>
<rect x="645.8" y="212.4" width="34.8" height="33.2" rx="12" fill="url(#occg)" stroke="#bcbcbc" stroke-width="2"/><path d="M655.5 219 L670.9 219 L670.9 239 L655.5 239 Z" fill="#fbfbf8" stroke="#cfcfcf" stroke-width="0.9"/><path d="M655.5 219 L651.7 213.9 M670.9 219 L674.7 213.9 M655.5 239 L651.7 244.1 M670.9 239 L674.7 244.1" stroke="#cfcfcf" stroke-width="0.9"/><ellipse cx="651.8" cy="222.3" rx="2.7" ry="6.2" fill="#e00a0a" stroke="#b00000" stroke-width="0.5"/><ellipse cx="651.8" cy="234.8" rx="2.7" ry="6.2" fill="#e00a0a" stroke="#b00000" stroke-width="0.5"/><ellipse cx="674.6" cy="222.3" rx="2.7" ry="6.2" fill="#e00a0a" stroke="#b00000" stroke-width="0.5"/>
<rect x="686.9" y="212.4" width="57.6" height="33.2" rx="12" fill="url(#occg)" stroke="#bcbcbc" stroke-width="2"/><path d="M703 219 L728.4 219 L728.4 239 L703 239 Z" fill="#fbfbf8" stroke="#cfcfcf" stroke-width="0.9"/><path d="M703 219 L696.7 213.9 M728.4 219 L734.7 213.9 M703 239 L696.7 244.1 M728.4 239 L734.7 244.1" stroke="#cfcfcf" stroke-width="0.9"/>
<rect x="749.5" y="212.4" width="49.7" height="33.2" rx="12" fill="url(#occg)" stroke="#bcbcbc" stroke-width="2"/><path d="M763.4 219 L785.3 219 L785.3 239 L763.4 239 Z" fill="#fbfbf8" stroke="#cfcfcf" stroke-width="0.9"/><path d="M763.4 219 L757.9 213.9 M785.3 219 L790.8 213.9 M763.4 239 L757.9 244.1 M785.3 239 L790.8 244.1" stroke="#cfcfcf" stroke-width="0.9"/>
<rect x="805.4" y="212.4" width="49.6" height="33.2" rx="12" fill="url(#occg)" stroke="#bcbcbc" stroke-width="2"/><path d="M819.3 219 L841.1 219 L841.1 239 L819.3 239 Z" fill="#fbfbf8" stroke="#cfcfcf" stroke-width="0.9"/><path d="M819.3 219 L813.8 213.9 M841.1 219 L846.6 213.9 M819.3 239 L813.8 244.1 M841.1 239 L846.6 244.1" stroke="#cfcfcf" stroke-width="0.9"/>
<rect x="71.1" y="675" width="55.9" height="33.2" rx="12" fill="url(#occg)" stroke="#bcbcbc" stroke-width="2"/><path d="M86.8 681.6 L111.3 681.6 L111.3 701.6 L86.8 701.6 Z" fill="#fbfbf8" stroke="#cfcfcf" stroke-width="0.9"/><path d="M86.8 681.6 L80.6 676.5 M111.3 681.6 L117.5 676.5 M86.8 701.6 L80.6 706.7 M111.3 701.6 L117.5 706.7" stroke="#cfcfcf" stroke-width="0.9"/>
<rect x="134.5" y="675" width="57.1" height="33.2" rx="12" fill="url(#occg)" stroke="#bcbcbc" stroke-width="2"/><path d="M150.5 681.6 L175.6 681.6 L175.6 701.6 L150.5 701.6 Z" fill="#fbfbf8" stroke="#cfcfcf" stroke-width="0.9"/><path d="M150.5 681.6 L144.2 676.5 M175.6 681.6 L181.9 676.5 M150.5 701.6 L144.2 706.7 M175.6 701.6 L181.9 706.7" stroke="#cfcfcf" stroke-width="0.9"/><ellipse cx="145" cy="686.1" rx="2.7" ry="6.2" fill="#e00a0a" stroke="#b00000" stroke-width="0.5"/><ellipse cx="145" cy="698.3" rx="2.7" ry="6.2" fill="#e00a0a" stroke="#b00000" stroke-width="0.5"/><ellipse cx="181.2" cy="686.1" rx="2.7" ry="6.2" fill="#e00a0a" stroke="#b00000" stroke-width="0.5"/><ellipse cx="181.2" cy="698.3" rx="2.7" ry="6.2" fill="#e00a0a" stroke="#b00000" stroke-width="0.5"/>
<rect x="197.8" y="675" width="59.6" height="33.2" rx="12" fill="url(#occg)" stroke="#bcbcbc" stroke-width="2"/><path d="M214.5 681.6 L240.7 681.6 L240.7 701.6 L214.5 701.6 Z" fill="#fbfbf8" stroke="#cfcfcf" stroke-width="0.9"/><path d="M214.5 681.6 L207.9 676.5 M240.7 681.6 L247.3 676.5 M214.5 701.6 L207.9 706.7 M240.7 701.6 L247.3 706.7" stroke="#cfcfcf" stroke-width="0.9"/><ellipse cx="209" cy="686.1" rx="2.7" ry="6.2" fill="#e00a0a" stroke="#b00000" stroke-width="0.5"/><ellipse cx="209" cy="698.3" rx="2.7" ry="6.2" fill="#e00a0a" stroke="#b00000" stroke-width="0.5"/><ellipse cx="246.3" cy="686.1" rx="2.7" ry="6.2" fill="#e00a0a" stroke="#b00000" stroke-width="0.5"/><ellipse cx="246.3" cy="698.3" rx="2.7" ry="6.2" fill="#e00a0a" stroke="#b00000" stroke-width="0.5"/>
<rect x="263" y="675" width="40.4" height="33.2" rx="12" fill="url(#occg)" stroke="#bcbcbc" stroke-width="2"/><path d="M274.3 681.6 L292.1 681.6 L292.1 701.6 L274.3 701.6 Z" fill="#fbfbf8" stroke="#cfcfcf" stroke-width="0.9"/><path d="M274.3 681.6 L269.9 676.5 M292.1 681.6 L296.5 676.5 M274.3 701.6 L269.9 706.7 M292.1 701.6 L296.5 706.7" stroke="#cfcfcf" stroke-width="0.9"/><ellipse cx="270" cy="686.1" rx="2.7" ry="6.2" fill="#e00a0a" stroke="#b00000" stroke-width="0.5"/><ellipse cx="270" cy="698.3" rx="2.7" ry="6.2" fill="#e00a0a" stroke="#b00000" stroke-width="0.5"/><ellipse cx="294.7" cy="686.1" rx="2.7" ry="6.2" fill="#e00a0a" stroke="#b00000" stroke-width="0.5"/><ellipse cx="294.7" cy="698.3" rx="2.7" ry="6.2" fill="#e00a0a" stroke="#b00000" stroke-width="0.5"/>
<rect x="306" y="675" width="37.2" height="33.2" rx="12" fill="url(#occg)" stroke="#bcbcbc" stroke-width="2"/><path d="M316.4 681.6 L332.8 681.6 L332.8 701.6 L316.4 701.6 Z" fill="#fbfbf8" stroke="#cfcfcf" stroke-width="0.9"/><path d="M316.4 681.6 L312.3 676.5 M332.8 681.6 L336.9 676.5 M316.4 701.6 L312.3 706.7 M332.8 701.6 L336.9 706.7" stroke="#cfcfcf" stroke-width="0.9"/><ellipse cx="337" cy="686.1" rx="2.7" ry="6.2" fill="#e00a0a" stroke="#b00000" stroke-width="0.5"/>
<rect x="346.4" y="675" width="36.5" height="33.2" rx="12" fill="url(#occg)" stroke="#bcbcbc" stroke-width="2"/><path d="M356.6 681.6 L372.7 681.6 L372.7 701.6 L356.6 701.6 Z" fill="#fbfbf8" stroke="#cfcfcf" stroke-width="0.9"/><path d="M356.6 681.6 L352.6 676.5 M372.7 681.6 L376.7 676.5 M356.6 701.6 L352.6 706.7 M372.7 701.6 L376.7 706.7" stroke="#cfcfcf" stroke-width="0.9"/><ellipse cx="353.1" cy="686.1" rx="2.7" ry="6.2" fill="#e00a0a" stroke="#b00000" stroke-width="0.5"/>
<rect x="386.1" y="675" width="34.1" height="33.2" rx="12" fill="url(#occg)" stroke="#bcbcbc" stroke-width="2"/><path d="M395.6 681.6 L410.7 681.6 L410.7 701.6 L395.6 701.6 Z" fill="#fbfbf8" stroke="#cfcfcf" stroke-width="0.9"/><path d="M395.6 681.6 L391.9 676.5 M410.7 681.6 L414.4 676.5 M395.6 701.6 L391.9 706.7 M410.7 701.6 L414.4 706.7" stroke="#cfcfcf" stroke-width="0.9"/><ellipse cx="402.8" cy="679.6" rx="5.4" ry="2.9" fill="#e00a0a" stroke="#b00000" stroke-width="0.5"/><ellipse cx="414" cy="697.5" rx="2.7" ry="6.2" fill="#e00a0a" stroke="#b00000" stroke-width="0.5"/>
<rect x="422.7" y="675" width="33" height="33.2" rx="12" fill="url(#occg)" stroke="#bcbcbc" stroke-width="2"/><path d="M431.9 681.6 L446.5 681.6 L446.5 701.6 L431.9 701.6 Z" fill="#fbfbf8" stroke="#cfcfcf" stroke-width="0.9"/><path d="M431.9 681.6 L428.3 676.5 M446.5 681.6 L450.1 676.5 M431.9 701.6 L428.3 706.7 M446.5 701.6 L450.1 706.7" stroke="#cfcfcf" stroke-width="0.9"/><ellipse cx="438.8" cy="679.6" rx="5.4" ry="2.9" fill="#e00a0a" stroke="#b00000" stroke-width="0.5"/><ellipse cx="428.4" cy="698.3" rx="2.7" ry="6.2" fill="#e00a0a" stroke="#b00000" stroke-width="0.5"/>
<rect x="467.9" y="675" width="34.3" height="33.2" rx="12" fill="url(#occg)" stroke="#bcbcbc" stroke-width="2"/><path d="M477.5 681.6 L492.6 681.6 L492.6 701.6 L477.5 701.6 Z" fill="#fbfbf8" stroke="#cfcfcf" stroke-width="0.9"/><path d="M477.5 681.6 L473.7 676.5 M492.6 681.6 L496.4 676.5 M477.5 701.6 L473.7 706.7 M492.6 701.6 L496.4 706.7" stroke="#cfcfcf" stroke-width="0.9"/><ellipse cx="474.4" cy="697.8" rx="2.7" ry="6.2" fill="#e00a0a" stroke="#b00000" stroke-width="0.5"/><ellipse cx="496" cy="686.1" rx="2.7" ry="6.2" fill="#e00a0a" stroke="#b00000" stroke-width="0.5"/>
<rect x="503.4" y="675" width="34.8" height="33.2" rx="12" fill="url(#occg)" stroke="#bcbcbc" stroke-width="2"/><path d="M513.1 681.6 L528.5 681.6 L528.5 701.6 L513.1 701.6 Z" fill="#fbfbf8" stroke="#cfcfcf" stroke-width="0.9"/><path d="M513.1 681.6 L509.3 676.5 M528.5 681.6 L532.3 676.5 M513.1 701.6 L509.3 706.7 M528.5 701.6 L532.3 706.7" stroke="#cfcfcf" stroke-width="0.9"/><ellipse cx="510.1" cy="686.1" rx="2.7" ry="6.2" fill="#e00a0a" stroke="#b00000" stroke-width="0.5"/><ellipse cx="520.8" cy="704" rx="5.4" ry="2.9" fill="#e00a0a" stroke="#b00000" stroke-width="0.5"/>
<rect x="541.4" y="675" width="36.6" height="33.2" rx="12" fill="url(#occg)" stroke="#bcbcbc" stroke-width="2"/><path d="M551.6 681.6 L567.8 681.6 L567.8 701.6 L551.6 701.6 Z" fill="#fbfbf8" stroke="#cfcfcf" stroke-width="0.9"/><path d="M551.6 681.6 L547.6 676.5 M567.8 681.6 L571.8 676.5 M551.6 701.6 L547.6 706.7 M567.8 701.6 L571.8 706.7" stroke="#cfcfcf" stroke-width="0.9"/><ellipse cx="571.2" cy="686.1" rx="2.7" ry="6.2" fill="#e00a0a" stroke="#b00000" stroke-width="0.5"/><ellipse cx="571.2" cy="698.3" rx="2.7" ry="6.2" fill="#e00a0a" stroke="#b00000" stroke-width="0.5"/>
<rect x="580.4" y="675" width="37.3" height="33.2" rx="12" fill="url(#occg)" stroke="#bcbcbc" stroke-width="2"/><path d="M590.8 681.6 L607.3 681.6 L607.3 701.6 L590.8 701.6 Z" fill="#fbfbf8" stroke="#cfcfcf" stroke-width="0.9"/><path d="M590.8 681.6 L586.7 676.5 M607.3 681.6 L611.4 676.5 M590.8 701.6 L586.7 706.7 M607.3 701.6 L611.4 706.7" stroke="#cfcfcf" stroke-width="0.9"/><ellipse cx="587.4" cy="686.1" rx="2.7" ry="6.2" fill="#e00a0a" stroke="#b00000" stroke-width="0.5"/><ellipse cx="587.4" cy="698.3" rx="2.7" ry="6.2" fill="#e00a0a" stroke="#b00000" stroke-width="0.5"/><ellipse cx="611" cy="686.1" rx="2.7" ry="6.2" fill="#e00a0a" stroke="#b00000" stroke-width="0.5"/>
<rect x="622" y="675" width="39.2" height="33.2" rx="12" fill="url(#occg)" stroke="#bcbcbc" stroke-width="2"/><path d="M633 681.6 L650.2 681.6 L650.2 701.6 L633 701.6 Z" fill="#fbfbf8" stroke="#cfcfcf" stroke-width="0.9"/><path d="M633 681.6 L628.7 676.5 M650.2 681.6 L654.5 676.5 M633 701.6 L628.7 706.7 M650.2 701.6 L654.5 706.7" stroke="#cfcfcf" stroke-width="0.9"/><ellipse cx="629.6" cy="686.1" rx="2.7" ry="6.2" fill="#e00a0a" stroke="#b00000" stroke-width="0.5"/><ellipse cx="629.6" cy="698.3" rx="2.7" ry="6.2" fill="#e00a0a" stroke="#b00000" stroke-width="0.5"/><ellipse cx="653.7" cy="698.3" rx="2.7" ry="6.2" fill="#e00a0a" stroke="#b00000" stroke-width="0.5"/>
<rect x="667" y="675" width="59.5" height="33.2" rx="12" fill="url(#occg)" stroke="#bcbcbc" stroke-width="2"/><path d="M683.7 681.6 L709.8 681.6 L709.8 701.6 L683.7 701.6 Z" fill="#fbfbf8" stroke="#cfcfcf" stroke-width="0.9"/><path d="M683.7 681.6 L677.1 676.5 M709.8 681.6 L716.4 676.5 M683.7 701.6 L677.1 706.7 M709.8 701.6 L716.4 706.7" stroke="#cfcfcf" stroke-width="0.9"/>
<rect x="732.5" y="675" width="57.4" height="33.2" rx="12" fill="url(#occg)" stroke="#bcbcbc" stroke-width="2"/><path d="M748.6 681.6 L773.8 681.6 L773.8 701.6 L748.6 701.6 Z" fill="#fbfbf8" stroke="#cfcfcf" stroke-width="0.9"/><path d="M748.6 681.6 L742.3 676.5 M773.8 681.6 L780.1 676.5 M748.6 701.6 L742.3 706.7 M773.8 701.6 L780.1 706.7" stroke="#cfcfcf" stroke-width="0.9"/>
<rect x="797.3" y="675" width="55.9" height="33.2" rx="12" fill="url(#occg)" stroke="#bcbcbc" stroke-width="2"/><path d="M813 681.6 L837.5 681.6 L837.5 701.6 L813 701.6 Z" fill="#fbfbf8" stroke="#cfcfcf" stroke-width="0.9"/><path d="M813 681.6 L806.8 676.5 M837.5 681.6 L843.7 676.5 M813 701.6 L806.8 706.7 M837.5 701.6 L843.7 706.7" stroke="#cfcfcf" stroke-width="0.9"/>
<line x1="81" y1="87.3" x2="102.7" y2="195.8" stroke="#000" stroke-width="4.2" stroke-linecap="round"/>
<line x1="710.4" y1="87.5" x2="731.8" y2="195.6" stroke="#000" stroke-width="4.2" stroke-linecap="round"/>
<line x1="769.8" y1="87.5" x2="790.7" y2="195.6" stroke="#000" stroke-width="4.2" stroke-linecap="round"/>
<line x1="822.8" y1="87.5" x2="844.2" y2="195.6" stroke="#000" stroke-width="4.2" stroke-linecap="round"/>
<line x1="80.9" y1="265.9" x2="103" y2="374.5" stroke="#000" stroke-width="4.2" stroke-linecap="round"/>
<line x1="709.7" y1="265.9" x2="731.8" y2="374.5" stroke="#000" stroke-width="4.2" stroke-linecap="round"/>
<line x1="769" y1="266" x2="790.5" y2="374.5" stroke="#000" stroke-width="4.2" stroke-linecap="round"/>
<line x1="822.6" y1="266" x2="844" y2="374.5" stroke="#000" stroke-width="4.2" stroke-linecap="round"/>
<line x1="86" y1="548.5" x2="107" y2="656.5" stroke="#000" stroke-width="4.2" stroke-linecap="round"/>
<line x1="683.3" y1="548.5" x2="704.7" y2="656.1" stroke="#000" stroke-width="4.2" stroke-linecap="round"/>
<line x1="748.4" y1="548.5" x2="769.8" y2="656.1" stroke="#000" stroke-width="4.2" stroke-linecap="round"/>
<line x1="814.4" y1="548.5" x2="835.8" y2="656.1" stroke="#000" stroke-width="4.2" stroke-linecap="round"/>
<line x1="86" y1="726.9" x2="107.6" y2="835.4" stroke="#000" stroke-width="4.2" stroke-linecap="round"/>
<line x1="683.6" y1="726.9" x2="705.2" y2="834.7" stroke="#000" stroke-width="4.2" stroke-linecap="round"/>
<line x1="748.1" y1="726.9" x2="769.8" y2="834.7" stroke="#000" stroke-width="4.2" stroke-linecap="round"/>
<line x1="814" y1="726.9" x2="835.8" y2="834.7" stroke="#000" stroke-width="4.2" stroke-linecap="round"/>
<g font-family="Liberation Sans, sans-serif">
<rect x="72.3" y="12.3" width="14.1" height="33.4" fill="#ffffff"/>
<rect x="86.4" y="12.3" width="14.1" height="33.4" fill="#ffffff"/>
<rect x="100.5" y="12.3" width="14.1" height="33.4" fill="#ffffff"/>
<rect x="72.8" y="12.8" width="41.3" height="32.4" fill="none" stroke="#555" stroke-width="1"/>
<line x1="86.4" y1="12.3" x2="86.4" y2="45.7" stroke="#555" stroke-width="1"/>
<line x1="100.5" y1="12.3" x2="100.5" y2="45.7" stroke="#555" stroke-width="1"/>
<text x="79.3" y="26.1" fill="#2a2a2a" stroke="#2a2a2a" stroke-width="0.25" text-anchor="middle" font-size="12">0</text>
<text x="93.4" y="26.1" fill="#2a2a2a" stroke="#2a2a2a" stroke-width="0.25" text-anchor="middle" font-size="12">0</text>
<text x="107.5" y="26.1" fill="#2a2a2a" stroke="#2a2a2a" stroke-width="0.25" text-anchor="middle" font-size="12">0</text>
<rect x="128.7" y="12.3" width="14.1" height="33.4" fill="#ff6a00"/>
<rect x="142.8" y="12.3" width="14.1" height="33.4" fill="#ffffff"/>
<rect x="156.9" y="12.3" width="14.1" height="33.4" fill="#ff6a00"/>
<rect x="129.2" y="12.8" width="41.3" height="32.4" fill="none" stroke="#5a2a10" stroke-width="1"/>
<line x1="142.8" y1="12.3" x2="142.8" y2="45.7" stroke="#5a2a10" stroke-width="1"/>
<line x1="156.9" y1="12.3" x2="156.9" y2="45.7" stroke="#5a2a10" stroke-width="1"/>
<text x="135.8" y="26.1" fill="#fff0e0" stroke="#fff0e0" stroke-width="0.25" text-anchor="middle" font-size="12">4</text>
<text x="149.8" y="26.1" fill="#2a2a2a" stroke="#2a2a2a" stroke-width="0.25" text-anchor="middle" font-size="12">3</text>
<text x="163.9" y="26.1" fill="#fff0e0" stroke="#fff0e0" stroke-width="0.25" text-anchor="middle" font-size="12">4</text>
<rect x="186" y="12.3" width="14.1" height="33.4" fill="#ff6a00"/>
<rect x="200.1" y="12.3" width="14.1" height="33.4" fill="#ffffff"/>
<rect x="214.2" y="12.3" width="14.1" height="33.4" fill="#ff6a00"/>
<rect x="186.5" y="12.8" width="41.3" height="32.4" fill="none" stroke="#5a2a10" stroke-width="1"/>
<line x1="200.1" y1="12.3" x2="200.1" y2="45.7" stroke="#5a2a10" stroke-width="1"/>
<line x1="214.2" y1="12.3" x2="214.2" y2="45.7" stroke="#5a2a10" stroke-width="1"/>
<text x="193.1" y="26.1" fill="#fff0e0" stroke="#fff0e0" stroke-width="0.25" text-anchor="middle" font-size="12">4</text>
<text x="207.2" y="26.1" fill="#2a2a2a" stroke="#2a2a2a" stroke-width="0.25" text-anchor="middle" font-size="12">3</text>
<text x="221.2" y="26.1" fill="#fff0e0" stroke="#fff0e0" stroke-width="0.25" text-anchor="middle" font-size="12">4</text>
<rect x="232.4" y="12.3" width="14.1" height="33.4" fill="#ff6a00"/>
<rect x="246.5" y="12.3" width="14.1" height="33.4" fill="#a60000"/>
<rect x="260.6" y="12.3" width="14.1" height="33.4" fill="#a60000"/>
<rect x="232.9" y="12.8" width="41.3" height="32.4" fill="none" stroke="#5a2a10" stroke-width="1"/>
<line x1="246.5" y1="12.3" x2="246.5" y2="45.7" stroke="#5a2a10" stroke-width="1"/>
<line x1="260.6" y1="12.3" x2="260.6" y2="45.7" stroke="#5a2a10" stroke-width="1"/>
<text x="239.5" y="26.1" fill="#fff0e0" stroke="#fff0e0" stroke-width="0.25" text-anchor="middle" font-size="12">4</text>
<text x="253.6" y="26.1" fill="#fff0e0" stroke="#fff0e0" stroke-width="0.25" text-anchor="middle" font-size="12">5</text>
<text x="267.7" y="26.1" fill="#fff0e0" stroke="#fff0e0" stroke-width="0.25" text-anchor="middle" font-size="12">5</text>
<rect x="278.6" y="12.3" width="14.1" height="33.4" fill="#a60000"/>
<rect x="292.7" y="12.3" width="14.1" height="33.4" fill="#ff6a00"/>
<rect x="306.8" y="12.3" width="14.1" height="33.4" fill="#a60000"/>
<rect x="279.1" y="12.8" width="41.3" height="32.4" fill="none" stroke="#5a2a10" stroke-width="1"/>
<line x1="292.7" y1="12.3" x2="292.7" y2="45.7" stroke="#5a2a10" stroke-width="1"/>
<line x1="306.8" y1="12.3" x2="306.8" y2="45.7" stroke="#5a2a10" stroke-width="1"/>
<text x="285.7" y="26.1" fill="#fff0e0" stroke="#fff0e0" stroke-width="0.25" text-anchor="middle" font-size="12">6</text>
<text x="299.8" y="26.1" fill="#fff0e0" stroke="#fff0e0" stroke-width="0.25" text-anchor="middle" font-size="12">4</text>
<text x="313.9" y="26.1" fill="#fff0e0" stroke="#fff0e0" stroke-width="0.25" text-anchor="middle" font-size="12">6</text>
<rect x="321.9" y="7.8" width="14.1" height="33.4" fill="#ff6a00"/>
<rect x="336" y="7.8" width="14.1" height="33.4" fill="#ff6a00"/>
<rect x="350.1" y="7.8" width="14.1" height="33.4" fill="#ffffff"/>
<rect x="322.4" y="8.3" width="41.3" height="32.4" fill="none" stroke="#5a2a10" stroke-width="1"/>
<line x1="336" y1="7.8" x2="336" y2="41.2" stroke="#5a2a10" stroke-width="1"/>
<line x1="350.1" y1="7.8" x2="350.1" y2="41.2" stroke="#5a2a10" stroke-width="1"/>
<text x="328.9" y="21.6" fill="#fff0e0" stroke="#fff0e0" stroke-width="0.25" text-anchor="middle" font-size="12">4</text>
<text x="343.1" y="21.6" fill="#fff0e0" stroke="#fff0e0" stroke-width="0.25" text-anchor="middle" font-size="12">4</text>
<text x="357.1" y="21.6" fill="#2a2a2a" stroke="#2a2a2a" stroke-width="0.25" text-anchor="middle" font-size="12">3</text>
<rect x="365.7" y="12.3" width="14.1" height="33.4" fill="#ffffff"/>
<rect x="379.8" y="12.3" width="14.1" height="33.4" fill="#ffffff"/>
<rect x="393.9" y="12.3" width="14.1" height="33.4" fill="#ffffff"/>
<rect x="366.2" y="12.8" width="41.3" height="32.4" fill="none" stroke="#555" stroke-width="1"/>
<line x1="379.8" y1="12.3" x2="379.8" y2="45.7" stroke="#555" stroke-width="1"/>
<line x1="393.9" y1="12.3" x2="393.9" y2="45.7" stroke="#555" stroke-width="1"/>
<text x="372.8" y="26.1" fill="#2a2a2a" stroke="#2a2a2a" stroke-width="0.25" text-anchor="middle" font-size="12">3</text>
<text x="386.9" y="26.1" fill="#2a2a2a" stroke="#2a2a2a" stroke-width="0.25" text-anchor="middle" font-size="12">3</text>
<text x="400.9" y="26.1" fill="#2a2a2a" stroke="#2a2a2a" stroke-width="0.25" text-anchor="middle" font-size="12">3</text>
<rect x="410" y="7.8" width="14.1" height="33.4" fill="#ffffff"/>
<rect x="424.1" y="7.8" width="14.1" height="33.4" fill="#ffffff"/>
<rect x="438.2" y="7.8" width="14.1" height="33.4" fill="#ffffff"/>
<rect x="410.5" y="8.3" width="41.3" height="32.4" fill="none" stroke="#555" stroke-width="1"/>
<line x1="424.1" y1="7.8" x2="424.1" y2="41.2" stroke="#555" stroke-width="1"/>
<line x1="438.2" y1="7.8" x2="438.2" y2="41.2" stroke="#555" stroke-width="1"/>
<text x="417.1" y="21.6" fill="#2a2a2a" stroke="#2a2a2a" stroke-width="0.25" text-anchor="middle" font-size="12">3</text>
<text x="431.2" y="21.6" fill="#2a2a2a" stroke="#2a2a2a" stroke-width="0.25" text-anchor="middle" font-size="12">3</text>
<text x="445.2" y="21.6" fill="#2a2a2a" stroke="#2a2a2a" stroke-width="0.25" text-anchor="middle" font-size="12">3</text>
<rect x="471.7" y="7.8" width="14.1" height="33.4" fill="#ffffff"/>
<rect x="485.8" y="7.8" width="14.1" height="33.4" fill="#ffffff"/>
<rect x="499.9" y="7.8" width="14.1" height="33.4" fill="#ff6a00"/>
<rect x="472.2" y="8.3" width="41.3" height="32.4" fill="none" stroke="#5a2a10" stroke-width="1"/>
<line x1="485.8" y1="7.8" x2="485.8" y2="41.2" stroke="#5a2a10" stroke-width="1"/>
<line x1="499.9" y1="7.8" x2="499.9" y2="41.2" stroke="#5a2a10" stroke-width="1"/>
<text x="478.8" y="21.6" fill="#2a2a2a" stroke="#2a2a2a" stroke-width="0.25" text-anchor="middle" font-size="12">3</text>
<text x="492.9" y="21.6" fill="#2a2a2a" stroke="#2a2a2a" stroke-width="0.25" text-anchor="middle" font-size="12">3</text>
<text x="506.9" y="21.6" fill="#fff0e0" stroke="#fff0e0" stroke-width="0.25" text-anchor="middle" font-size="12">4</text>
<rect x="514.4" y="12.3" width="14.1" height="33.4" fill="#ffffff"/>
<rect x="528.5" y="12.3" width="14.1" height="33.4" fill="#ffffff"/>
<rect x="542.6" y="12.3" width="14.1" height="33.4" fill="#ff6a00"/>
<rect x="514.9" y="12.8" width="41.3" height="32.4" fill="none" stroke="#5a2a10" stroke-width="1"/>
<line x1="528.5" y1="12.3" x2="528.5" y2="45.7" stroke="#5a2a10" stroke-width="1"/>
<line x1="542.6" y1="12.3" x2="542.6" y2="45.7" stroke="#5a2a10" stroke-width="1"/>
<text x="521.4" y="26.1" fill="#2a2a2a" stroke="#2a2a2a" stroke-width="0.25" text-anchor="middle" font-size="12">3</text>
<text x="535.5" y="26.1" fill="#2a2a2a" stroke="#2a2a2a" stroke-width="0.25" text-anchor="middle" font-size="12">3</text>
<text x="549.6" y="26.1" fill="#fff0e0" stroke="#fff0e0" stroke-width="0.25" text-anchor="middle" font-size="12">4</text>
<rect x="558" y="7.8" width="14.1" height="33.4" fill="#ff6a00"/>
<rect x="572.1" y="7.8" width="14.1" height="33.4" fill="#ffffff"/>
<rect x="586.2" y="7.8" width="14.1" height="33.4" fill="#ffffff"/>
<rect x="558.5" y="8.3" width="41.3" height="32.4" fill="none" stroke="#5a2a10" stroke-width="1"/>
<line x1="572.1" y1="7.8" x2="572.1" y2="41.2" stroke="#5a2a10" stroke-width="1"/>
<line x1="586.2" y1="7.8" x2="586.2" y2="41.2" stroke="#5a2a10" stroke-width="1"/>
<text x="565" y="21.6" fill="#fff0e0" stroke="#fff0e0" stroke-width="0.25" text-anchor="middle" font-size="12">4</text>
<text x="579.1" y="21.6" fill="#2a2a2a" stroke="#2a2a2a" stroke-width="0.25" text-anchor="middle" font-size="12">3</text>
<text x="593.2" y="21.6" fill="#2a2a2a" stroke="#2a2a2a" stroke-width="0.25" text-anchor="middle" font-size="12">3</text>
<rect x="602" y="12.3" width="14.1" height="33.4" fill="#ff6a00"/>
<rect x="616.1" y="12.3" width="14.1" height="33.4" fill="#ffffff"/>
<rect x="630.2" y="12.3" width="14.1" height="33.4" fill="#ff6a00"/>
<rect x="602.5" y="12.8" width="41.3" height="32.4" fill="none" stroke="#5a2a10" stroke-width="1"/>
<line x1="616.1" y1="12.3" x2="616.1" y2="45.7" stroke="#5a2a10" stroke-width="1"/>
<line x1="630.2" y1="12.3" x2="630.2" y2="45.7" stroke="#5a2a10" stroke-width="1"/>
<text x="609" y="26.1" fill="#fff0e0" stroke="#fff0e0" stroke-width="0.25" text-anchor="middle" font-size="12">4</text>
<text x="623.1" y="26.1" fill="#2a2a2a" stroke="#2a2a2a" stroke-width="0.25" text-anchor="middle" font-size="12">3</text>
<text x="637.2" y="26.1" fill="#fff0e0" stroke="#fff0e0" stroke-width="0.25" text-anchor="middle" font-size="12">4</text>
<rect x="647.7" y="12.3" width="14.1" height="33.4" fill="#ff6a00"/>
<rect x="661.8" y="12.3" width="14.1" height="33.4" fill="#ffffff"/>
<rect x="675.9" y="12.3" width="14.1" height="33.4" fill="#ff6a00"/>
<rect x="648.2" y="12.8" width="41.3" height="32.4" fill="none" stroke="#5a2a10" stroke-width="1"/>
<line x1="661.8" y1="12.3" x2="661.8" y2="45.7" stroke="#5a2a10" stroke-width="1"/>
<line x1="675.9" y1="12.3" x2="675.9" y2="45.7" stroke="#5a2a10" stroke-width="1"/>
<text x="654.8" y="26.1" fill="#fff0e0" stroke="#fff0e0" stroke-width="0.25" text-anchor="middle" font-size="12">4</text>
<text x="668.9" y="26.1" fill="#2a2a2a" stroke="#2a2a2a" stroke-width="0.25" text-anchor="middle" font-size="12">3</text>
<text x="683" y="26.1" fill="#fff0e0" stroke="#fff0e0" stroke-width="0.25" text-anchor="middle" font-size="12">4</text>
<rect x="695" y="12.3" width="14.1" height="33.4" fill="#ffffff"/>
<rect x="709.1" y="12.3" width="14.1" height="33.4" fill="#ffffff"/>
<rect x="723.2" y="12.3" width="14.1" height="33.4" fill="#ffffff"/>
<rect x="695.5" y="12.8" width="41.3" height="32.4" fill="none" stroke="#555" stroke-width="1"/>
<line x1="709.1" y1="12.3" x2="709.1" y2="45.7" stroke="#555" stroke-width="1"/>
<line x1="723.2" y1="12.3" x2="723.2" y2="45.7" stroke="#555" stroke-width="1"/>
<text x="702" y="26.1" fill="#2a2a2a" stroke="#2a2a2a" stroke-width="0.25" text-anchor="middle" font-size="12">0</text>
<text x="716.1" y="26.1" fill="#2a2a2a" stroke="#2a2a2a" stroke-width="0.25" text-anchor="middle" font-size="12">0</text>
<text x="730.2" y="26.1" fill="#2a2a2a" stroke="#2a2a2a" stroke-width="0.25" text-anchor="middle" font-size="12">0</text>
<rect x="756" y="12.3" width="14.1" height="33.4" fill="#ffffff"/>
<rect x="770.1" y="12.3" width="14.1" height="33.4" fill="#ffffff"/>
<rect x="784.2" y="12.3" width="14.1" height="33.4" fill="#ffffff"/>
<rect x="756.5" y="12.8" width="41.3" height="32.4" fill="none" stroke="#555" stroke-width="1"/>
<line x1="770.1" y1="12.3" x2="770.1" y2="45.7" stroke="#555" stroke-width="1"/>
<line x1="784.2" y1="12.3" x2="784.2" y2="45.7" stroke="#555" stroke-width="1"/>
<text x="763" y="26.1" fill="#2a2a2a" stroke="#2a2a2a" stroke-width="0.25" text-anchor="middle" font-size="12">0</text>
<text x="777.1" y="26.1" fill="#2a2a2a" stroke="#2a2a2a" stroke-width="0.25" text-anchor="middle" font-size="12">0</text>
<text x="791.2" y="26.1" fill="#2a2a2a" stroke="#2a2a2a" stroke-width="0.25" text-anchor="middle" font-size="12">0</text>
<rect x="809" y="12.3" width="14.1" height="33.4" fill="#ffffff"/>
<rect x="823.1" y="12.3" width="14.1" height="33.4" fill="#ffffff"/>
<rect x="837.2" y="12.3" width="14.1" height="33.4" fill="#ffffff"/>
<rect x="809.5" y="12.8" width="41.3" height="32.4" fill="none" stroke="#555" stroke-width="1"/>
<line x1="823.1" y1="12.3" x2="823.1" y2="45.7" stroke="#555" stroke-width="1"/>
<line x1="837.2" y1="12.3" x2="837.2" y2="45.7" stroke="#555" stroke-width="1"/>
<text x="816" y="26.1" fill="#2a2a2a" stroke="#2a2a2a" stroke-width="0.25" text-anchor="middle" font-size="12">0</text>
<text x="830.1" y="26.1" fill="#2a2a2a" stroke="#2a2a2a" stroke-width="0.25" text-anchor="middle" font-size="12">0</text>
<text x="844.2" y="26.1" fill="#2a2a2a" stroke="#2a2a2a" stroke-width="0.25" text-anchor="middle" font-size="12">0</text>
<rect x="67.6" y="414.4" width="14.1" height="33.4" fill="#ffffff"/>
<rect x="81.7" y="414.4" width="14.1" height="33.4" fill="#ffffff"/>
<rect x="95.8" y="414.4" width="14.1" height="33.4" fill="#ffffff"/>
<rect x="68.1" y="414.9" width="41.3" height="32.4" fill="none" stroke="#555" stroke-width="1"/>
<line x1="81.7" y1="414.4" x2="81.7" y2="447.8" stroke="#555" stroke-width="1"/>
<line x1="95.8" y1="414.4" x2="95.8" y2="447.8" stroke="#555" stroke-width="1"/>
<text x="74.6" y="428.2" fill="#2a2a2a" stroke="#2a2a2a" stroke-width="0.25" text-anchor="middle" font-size="12">0</text>
<text x="88.7" y="428.2" fill="#2a2a2a" stroke="#2a2a2a" stroke-width="0.25" text-anchor="middle" font-size="12">0</text>
<text x="102.8" y="428.2" fill="#2a2a2a" stroke="#2a2a2a" stroke-width="0.25" text-anchor="middle" font-size="12">0</text>
<rect x="123.6" y="414.4" width="14.1" height="33.4" fill="#ff6a00"/>
<rect x="137.7" y="414.4" width="14.1" height="33.4" fill="#ffffff"/>
<rect x="151.8" y="414.4" width="14.1" height="33.4" fill="#ff6a00"/>
<rect x="124.1" y="414.9" width="41.3" height="32.4" fill="none" stroke="#5a2a10" stroke-width="1"/>
<line x1="137.7" y1="414.4" x2="137.7" y2="447.8" stroke="#5a2a10" stroke-width="1"/>
<line x1="151.8" y1="414.4" x2="151.8" y2="447.8" stroke="#5a2a10" stroke-width="1"/>
<text x="130.7" y="428.2" fill="#fff0e0" stroke="#fff0e0" stroke-width="0.25" text-anchor="middle" font-size="12">4</text>
<text x="144.8" y="428.2" fill="#2a2a2a" stroke="#2a2a2a" stroke-width="0.25" text-anchor="middle" font-size="12">3</text>
<text x="158.8" y="428.2" fill="#fff0e0" stroke="#fff0e0" stroke-width="0.25" text-anchor="middle" font-size="12">4</text>
<rect x="186.2" y="414.4" width="14.1" height="33.4" fill="#ffffff"/>
<rect x="200.3" y="414.4" width="14.1" height="33.4" fill="#ff6a00"/>
<rect x="214.4" y="414.4" width="14.1" height="33.4" fill="#ff6a00"/>
<rect x="186.7" y="414.9" width="41.3" height="32.4" fill="none" stroke="#5a2a10" stroke-width="1"/>
<line x1="200.3" y1="414.4" x2="200.3" y2="447.8" stroke="#5a2a10" stroke-width="1"/>
<line x1="214.4" y1="414.4" x2="214.4" y2="447.8" stroke="#5a2a10" stroke-width="1"/>
<text x="193.2" y="428.2" fill="#2a2a2a" stroke="#2a2a2a" stroke-width="0.25" text-anchor="middle" font-size="12">3</text>
<text x="207.3" y="428.2" fill="#fff0e0" stroke="#fff0e0" stroke-width="0.25" text-anchor="middle" font-size="12">4</text>
<text x="221.4" y="428.2" fill="#fff0e0" stroke="#fff0e0" stroke-width="0.25" text-anchor="middle" font-size="12">4</text>
<rect x="234.8" y="414.4" width="14.1" height="33.4" fill="#ffffff"/>
<rect x="248.9" y="414.4" width="14.1" height="33.4" fill="#ff6a00"/>
<rect x="263" y="414.4" width="14.1" height="33.4" fill="#ff6a00"/>
<rect x="235.3" y="414.9" width="41.3" height="32.4" fill="none" stroke="#5a2a10" stroke-width="1"/>
<line x1="248.9" y1="414.4" x2="248.9" y2="447.8" stroke="#5a2a10" stroke-width="1"/>
<line x1="263" y1="414.4" x2="263" y2="447.8" stroke="#5a2a10" stroke-width="1"/>
<text x="241.9" y="428.2" fill="#2a2a2a" stroke="#2a2a2a" stroke-width="0.25" text-anchor="middle" font-size="12">3</text>
<text x="256" y="428.2" fill="#fff0e0" stroke="#fff0e0" stroke-width="0.25" text-anchor="middle" font-size="12">4</text>
<text x="270.1" y="428.2" fill="#fff0e0" stroke="#fff0e0" stroke-width="0.25" text-anchor="middle" font-size="12">4</text>
<rect x="281.8" y="414.4" width="14.1" height="33.4" fill="#ff6a00"/>
<rect x="295.9" y="414.4" width="14.1" height="33.4" fill="#ffffff"/>
<rect x="310" y="414.4" width="14.1" height="33.4" fill="#ff6a00"/>
<rect x="282.3" y="414.9" width="41.3" height="32.4" fill="none" stroke="#5a2a10" stroke-width="1"/>
<line x1="295.9" y1="414.4" x2="295.9" y2="447.8" stroke="#5a2a10" stroke-width="1"/>
<line x1="310" y1="414.4" x2="310" y2="447.8" stroke="#5a2a10" stroke-width="1"/>
<text x="288.9" y="428.2" fill="#fff0e0" stroke="#fff0e0" stroke-width="0.25" text-anchor="middle" font-size="12">4</text>
<text x="303" y="428.2" fill="#2a2a2a" stroke="#2a2a2a" stroke-width="0.25" text-anchor="middle" font-size="12">3</text>
<text x="317.1" y="428.2" fill="#fff0e0" stroke="#fff0e0" stroke-width="0.25" text-anchor="middle" font-size="12">4</text>
<rect x="327.8" y="420.2" width="14.1" height="33.4" fill="#ff6a00"/>
<rect x="341.9" y="420.2" width="14.1" height="33.4" fill="#ffffff"/>
<rect x="356" y="420.2" width="14.1" height="33.4" fill="#ffffff"/>
<rect x="328.3" y="420.7" width="41.3" height="32.4" fill="none" stroke="#5a2a10" stroke-width="1"/>
<line x1="341.9" y1="420.2" x2="341.9" y2="453.6" stroke="#5a2a10" stroke-width="1"/>
<line x1="356" y1="420.2" x2="356" y2="453.6" stroke="#5a2a10" stroke-width="1"/>
<text x="334.9" y="434" fill="#fff0e0" stroke="#fff0e0" stroke-width="0.25" text-anchor="middle" font-size="12">4</text>
<text x="349" y="434" fill="#2a2a2a" stroke="#2a2a2a" stroke-width="0.25" text-anchor="middle" font-size="12">3</text>
<text x="363.1" y="434" fill="#2a2a2a" stroke="#2a2a2a" stroke-width="0.25" text-anchor="middle" font-size="12">3</text>
<rect x="371.5" y="414.4" width="14.1" height="33.4" fill="#ffffff"/>
<rect x="385.6" y="414.4" width="14.1" height="33.4" fill="#ffffff"/>
<rect x="399.7" y="414.4" width="14.1" height="33.4" fill="#ffffff"/>
<rect x="372" y="414.9" width="41.3" height="32.4" fill="none" stroke="#555" stroke-width="1"/>
<line x1="385.6" y1="414.4" x2="385.6" y2="447.8" stroke="#555" stroke-width="1"/>
<line x1="399.7" y1="414.4" x2="399.7" y2="447.8" stroke="#555" stroke-width="1"/>
<text x="378.6" y="428.2" fill="#2a2a2a" stroke="#2a2a2a" stroke-width="0.25" text-anchor="middle" font-size="12">3</text>
<text x="392.7" y="428.2" fill="#2a2a2a" stroke="#2a2a2a" stroke-width="0.25" text-anchor="middle" font-size="12">3</text>
<text x="406.8" y="428.2" fill="#2a2a2a" stroke="#2a2a2a" stroke-width="0.25" text-anchor="middle" font-size="12">3</text>
<rect x="416.8" y="420.2" width="14.1" height="33.4" fill="#ffffff"/>
<rect x="430.9" y="420.2" width="14.1" height="33.4" fill="#ffffff"/>
<rect x="445" y="420.2" width="14.1" height="33.4" fill="#ffffff"/>
<rect x="417.3" y="420.7" width="41.3" height="32.4" fill="none" stroke="#555" stroke-width="1"/>
<line x1="430.9" y1="420.2" x2="430.9" y2="453.6" stroke="#555" stroke-width="1"/>
<line x1="445" y1="420.2" x2="445" y2="453.6" stroke="#555" stroke-width="1"/>
<text x="423.9" y="434" fill="#2a2a2a" stroke="#2a2a2a" stroke-width="0.25" text-anchor="middle" font-size="12">3</text>
<text x="438" y="434" fill="#2a2a2a" stroke="#2a2a2a" stroke-width="0.25" text-anchor="middle" font-size="12">3</text>
<text x="452.1" y="434" fill="#2a2a2a" stroke="#2a2a2a" stroke-width="0.25" text-anchor="middle" font-size="12">3</text>
<rect x="462.3" y="420.2" width="14.1" height="33.4" fill="#ffffff"/>
<rect x="476.4" y="420.2" width="14.1" height="33.4" fill="#ffffff"/>
<rect x="490.5" y="420.2" width="14.1" height="33.4" fill="#ffffff"/>
<rect x="462.8" y="420.7" width="41.3" height="32.4" fill="none" stroke="#555" stroke-width="1"/>
<line x1="476.4" y1="420.2" x2="476.4" y2="453.6" stroke="#555" stroke-width="1"/>
<line x1="490.5" y1="420.2" x2="490.5" y2="453.6" stroke="#555" stroke-width="1"/>
<text x="469.4" y="434" fill="#2a2a2a" stroke="#2a2a2a" stroke-width="0.25" text-anchor="middle" font-size="12">3</text>
<text x="483.5" y="434" fill="#2a2a2a" stroke="#2a2a2a" stroke-width="0.25" text-anchor="middle" font-size="12">3</text>
<text x="497.6" y="434" fill="#2a2a2a" stroke="#2a2a2a" stroke-width="0.25" text-anchor="middle" font-size="12">3</text>
<rect x="507.7" y="414.4" width="14.1" height="33.4" fill="#ffffff"/>
<rect x="521.8" y="414.4" width="14.1" height="33.4" fill="#ffffff"/>
<rect x="535.9" y="414.4" width="14.1" height="33.4" fill="#ffffff"/>
<rect x="508.2" y="414.9" width="41.3" height="32.4" fill="none" stroke="#555" stroke-width="1"/>
<line x1="521.8" y1="414.4" x2="521.8" y2="447.8" stroke="#555" stroke-width="1"/>
<line x1="535.9" y1="414.4" x2="535.9" y2="447.8" stroke="#555" stroke-width="1"/>
<text x="514.8" y="428.2" fill="#2a2a2a" stroke="#2a2a2a" stroke-width="0.25" text-anchor="middle" font-size="12">3</text>
<text x="528.8" y="428.2" fill="#2a2a2a" stroke="#2a2a2a" stroke-width="0.25" text-anchor="middle" font-size="12">3</text>
<text x="542.9" y="428.2" fill="#2a2a2a" stroke="#2a2a2a" stroke-width="0.25" text-anchor="middle" font-size="12">3</text>
<rect x="553" y="420.2" width="14.1" height="33.4" fill="#ffffff"/>
<rect x="567.1" y="420.2" width="14.1" height="33.4" fill="#ffffff"/>
<rect x="581.2" y="420.2" width="14.1" height="33.4" fill="#ffffff"/>
<rect x="553.5" y="420.7" width="41.3" height="32.4" fill="none" stroke="#555" stroke-width="1"/>
<line x1="567.1" y1="420.2" x2="567.1" y2="453.6" stroke="#555" stroke-width="1"/>
<line x1="581.2" y1="420.2" x2="581.2" y2="453.6" stroke="#555" stroke-width="1"/>
<text x="560" y="434" fill="#2a2a2a" stroke="#2a2a2a" stroke-width="0.25" text-anchor="middle" font-size="12">3</text>
<text x="574.1" y="434" fill="#2a2a2a" stroke="#2a2a2a" stroke-width="0.25" text-anchor="middle" font-size="12">3</text>
<text x="588.2" y="434" fill="#2a2a2a" stroke="#2a2a2a" stroke-width="0.25" text-anchor="middle" font-size="12">3</text>
<rect x="597.4" y="414.4" width="14.1" height="33.4" fill="#ff6a00"/>
<rect x="611.5" y="414.4" width="14.1" height="33.4" fill="#ffffff"/>
<rect x="625.6" y="414.4" width="14.1" height="33.4" fill="#ff6a00"/>
<rect x="597.9" y="414.9" width="41.3" height="32.4" fill="none" stroke="#5a2a10" stroke-width="1"/>
<line x1="611.5" y1="414.4" x2="611.5" y2="447.8" stroke="#5a2a10" stroke-width="1"/>
<line x1="625.6" y1="414.4" x2="625.6" y2="447.8" stroke="#5a2a10" stroke-width="1"/>
<text x="604.4" y="428.2" fill="#fff0e0" stroke="#fff0e0" stroke-width="0.25" text-anchor="middle" font-size="12">4</text>
<text x="618.5" y="428.2" fill="#2a2a2a" stroke="#2a2a2a" stroke-width="0.25" text-anchor="middle" font-size="12">3</text>
<text x="632.6" y="428.2" fill="#fff0e0" stroke="#fff0e0" stroke-width="0.25" text-anchor="middle" font-size="12">4</text>
<rect x="645.3" y="414.4" width="14.1" height="33.4" fill="#ff6a00"/>
<rect x="659.4" y="414.4" width="14.1" height="33.4" fill="#ff6a00"/>
<rect x="673.5" y="414.4" width="14.1" height="33.4" fill="#ff6a00"/>
<rect x="645.8" y="414.9" width="41.3" height="32.4" fill="none" stroke="#5a2a10" stroke-width="1"/>
<line x1="659.4" y1="414.4" x2="659.4" y2="447.8" stroke="#5a2a10" stroke-width="1"/>
<line x1="673.5" y1="414.4" x2="673.5" y2="447.8" stroke="#5a2a10" stroke-width="1"/>
<text x="652.3" y="428.2" fill="#fff0e0" stroke="#fff0e0" stroke-width="0.25" text-anchor="middle" font-size="12">4</text>
<text x="666.4" y="428.2" fill="#fff0e0" stroke="#fff0e0" stroke-width="0.25" text-anchor="middle" font-size="12">4</text>
<text x="680.5" y="428.2" fill="#fff0e0" stroke="#fff0e0" stroke-width="0.25" text-anchor="middle" font-size="12">4</text>
<rect x="693.3" y="414.4" width="14.1" height="33.4" fill="#ffffff"/>
<rect x="707.4" y="414.4" width="14.1" height="33.4" fill="#ffffff"/>
<rect x="721.5" y="414.4" width="14.1" height="33.4" fill="#ffffff"/>
<rect x="693.8" y="414.9" width="41.3" height="32.4" fill="none" stroke="#555" stroke-width="1"/>
<line x1="707.4" y1="414.4" x2="707.4" y2="447.8" stroke="#555" stroke-width="1"/>
<line x1="721.5" y1="414.4" x2="721.5" y2="447.8" stroke="#555" stroke-width="1"/>
<text x="700.3" y="428.2" fill="#2a2a2a" stroke="#2a2a2a" stroke-width="0.25" text-anchor="middle" font-size="12">0</text>
<text x="714.4" y="428.2" fill="#2a2a2a" stroke="#2a2a2a" stroke-width="0.25" text-anchor="middle" font-size="12">0</text>
<text x="728.5" y="428.2" fill="#2a2a2a" stroke="#2a2a2a" stroke-width="0.25" text-anchor="middle" font-size="12">0</text>
<rect x="755" y="414.4" width="14.1" height="33.4" fill="#ffffff"/>
<rect x="769.1" y="414.4" width="14.1" height="33.4" fill="#ffffff"/>
<rect x="783.2" y="414.4" width="14.1" height="33.4" fill="#ffffff"/>
<rect x="755.5" y="414.9" width="41.3" height="32.4" fill="none" stroke="#555" stroke-width="1"/>
<line x1="769.1" y1="414.4" x2="769.1" y2="447.8" stroke="#555" stroke-width="1"/>
<line x1="783.2" y1="414.4" x2="783.2" y2="447.8" stroke="#555" stroke-width="1"/>
<text x="762" y="428.2" fill="#2a2a2a" stroke="#2a2a2a" stroke-width="0.25" text-anchor="middle" font-size="12">0</text>
<text x="776.1" y="428.2" fill="#2a2a2a" stroke="#2a2a2a" stroke-width="0.25" text-anchor="middle" font-size="12">0</text>
<text x="790.2" y="428.2" fill="#2a2a2a" stroke="#2a2a2a" stroke-width="0.25" text-anchor="middle" font-size="12">0</text>
<rect x="809.4" y="414.4" width="14.1" height="33.4" fill="#ffffff"/>
<rect x="823.5" y="414.4" width="14.1" height="33.4" fill="#ffffff"/>
<rect x="837.6" y="414.4" width="14.1" height="33.4" fill="#ffffff"/>
<rect x="809.9" y="414.9" width="41.3" height="32.4" fill="none" stroke="#555" stroke-width="1"/>
<line x1="823.5" y1="414.4" x2="823.5" y2="447.8" stroke="#555" stroke-width="1"/>
<line x1="837.6" y1="414.4" x2="837.6" y2="447.8" stroke="#555" stroke-width="1"/>
<text x="816.4" y="428.2" fill="#2a2a2a" stroke="#2a2a2a" stroke-width="0.25" text-anchor="middle" font-size="12">0</text>
<text x="830.5" y="428.2" fill="#2a2a2a" stroke="#2a2a2a" stroke-width="0.25" text-anchor="middle" font-size="12">0</text>
<text x="844.6" y="428.2" fill="#2a2a2a" stroke="#2a2a2a" stroke-width="0.25" text-anchor="middle" font-size="12">0</text>
<rect x="78.9" y="458.7" width="14.1" height="33.4" fill="#ffffff"/>
<rect x="93" y="458.7" width="14.1" height="33.4" fill="#ffffff"/>
<rect x="107.1" y="458.7" width="14.1" height="33.4" fill="#ffffff"/>
<rect x="79.4" y="459.2" width="41.3" height="32.4" fill="none" stroke="#555" stroke-width="1"/>
<line x1="93" y1="458.7" x2="93" y2="492.1" stroke="#555" stroke-width="1"/>
<line x1="107.1" y1="458.7" x2="107.1" y2="492.1" stroke="#555" stroke-width="1"/>
<text x="86" y="472.5" fill="#2a2a2a" stroke="#2a2a2a" stroke-width="0.25" text-anchor="middle" font-size="12">0</text>
<text x="100" y="472.5" fill="#2a2a2a" stroke="#2a2a2a" stroke-width="0.25" text-anchor="middle" font-size="12">0</text>
<text x="114.2" y="472.5" fill="#2a2a2a" stroke="#2a2a2a" stroke-width="0.25" text-anchor="middle" font-size="12">0</text>
<rect x="144.3" y="458.7" width="14.1" height="33.4" fill="#ff6a00"/>
<rect x="158.4" y="458.7" width="14.1" height="33.4" fill="#ff6a00"/>
<rect x="172.5" y="458.7" width="14.1" height="33.4" fill="#a60000"/>
<rect x="144.8" y="459.2" width="41.3" height="32.4" fill="none" stroke="#5a2a10" stroke-width="1"/>
<line x1="158.4" y1="458.7" x2="158.4" y2="492.1" stroke="#5a2a10" stroke-width="1"/>
<line x1="172.5" y1="458.7" x2="172.5" y2="492.1" stroke="#5a2a10" stroke-width="1"/>
<text x="151.4" y="472.5" fill="#fff0e0" stroke="#fff0e0" stroke-width="0.25" text-anchor="middle" font-size="12">4</text>
<text x="165.5" y="472.5" fill="#fff0e0" stroke="#fff0e0" stroke-width="0.25" text-anchor="middle" font-size="12">4</text>
<text x="179.6" y="472.5" fill="#fff0e0" stroke="#fff0e0" stroke-width="0.25" text-anchor="middle" font-size="12">5</text>
<rect x="207.5" y="458.7" width="14.1" height="33.4" fill="#a60000"/>
<rect x="221.6" y="458.7" width="14.1" height="33.4" fill="#ff6a00"/>
<rect x="235.7" y="458.7" width="14.1" height="33.4" fill="#ff6a00"/>
<rect x="208" y="459.2" width="41.3" height="32.4" fill="none" stroke="#5a2a10" stroke-width="1"/>
<line x1="221.6" y1="458.7" x2="221.6" y2="492.1" stroke="#5a2a10" stroke-width="1"/>
<line x1="235.7" y1="458.7" x2="235.7" y2="492.1" stroke="#5a2a10" stroke-width="1"/>
<text x="214.6" y="472.5" fill="#fff0e0" stroke="#fff0e0" stroke-width="0.25" text-anchor="middle" font-size="12">5</text>
<text x="228.7" y="472.5" fill="#fff0e0" stroke="#fff0e0" stroke-width="0.25" text-anchor="middle" font-size="12">4</text>
<text x="242.8" y="472.5" fill="#fff0e0" stroke="#fff0e0" stroke-width="0.25" text-anchor="middle" font-size="12">4</text>
<rect x="261.2" y="458.7" width="14.1" height="33.4" fill="#ff6a00"/>
<rect x="275.3" y="458.7" width="14.1" height="33.4" fill="#ff6a00"/>
<rect x="289.4" y="458.7" width="14.1" height="33.4" fill="#ffffff"/>
<rect x="261.7" y="459.2" width="41.3" height="32.4" fill="none" stroke="#5a2a10" stroke-width="1"/>
<line x1="275.3" y1="458.7" x2="275.3" y2="492.1" stroke="#5a2a10" stroke-width="1"/>
<line x1="289.4" y1="458.7" x2="289.4" y2="492.1" stroke="#5a2a10" stroke-width="1"/>
<text x="268.2" y="472.5" fill="#fff0e0" stroke="#fff0e0" stroke-width="0.25" text-anchor="middle" font-size="12">4</text>
<text x="282.4" y="472.5" fill="#fff0e0" stroke="#fff0e0" stroke-width="0.25" text-anchor="middle" font-size="12">4</text>
<text x="296.4" y="472.5" fill="#2a2a2a" stroke="#2a2a2a" stroke-width="0.25" text-anchor="middle" font-size="12">3</text>
<rect x="303" y="480.1" width="14.1" height="33.4" fill="#ff6a00"/>
<rect x="317.1" y="480.1" width="14.1" height="33.4" fill="#ffffff"/>
<rect x="331.2" y="480.1" width="14.1" height="33.4" fill="#ff6a00"/>
<rect x="303.5" y="480.6" width="41.3" height="32.4" fill="none" stroke="#5a2a10" stroke-width="1"/>
<line x1="317.1" y1="480.1" x2="317.1" y2="513.5" stroke="#5a2a10" stroke-width="1"/>
<line x1="331.2" y1="480.1" x2="331.2" y2="513.5" stroke="#5a2a10" stroke-width="1"/>
<text x="310.1" y="493.9" fill="#fff0e0" stroke="#fff0e0" stroke-width="0.25" text-anchor="middle" font-size="12">4</text>
<text x="324.2" y="493.9" fill="#2a2a2a" stroke="#2a2a2a" stroke-width="0.25" text-anchor="middle" font-size="12">3</text>
<text x="338.2" y="493.9" fill="#fff0e0" stroke="#fff0e0" stroke-width="0.25" text-anchor="middle" font-size="12">4</text>
<rect x="342.8" y="458.7" width="14.1" height="33.4" fill="#ffffff"/>
<rect x="356.9" y="458.7" width="14.1" height="33.4" fill="#ffffff"/>
<rect x="371" y="458.7" width="14.1" height="33.4" fill="#ffffff"/>
<rect x="343.3" y="459.2" width="41.3" height="32.4" fill="none" stroke="#555" stroke-width="1"/>
<line x1="356.9" y1="458.7" x2="356.9" y2="492.1" stroke="#555" stroke-width="1"/>
<line x1="371" y1="458.7" x2="371" y2="492.1" stroke="#555" stroke-width="1"/>
<text x="349.9" y="472.5" fill="#2a2a2a" stroke="#2a2a2a" stroke-width="0.25" text-anchor="middle" font-size="12">3</text>
<text x="364" y="472.5" fill="#2a2a2a" stroke="#2a2a2a" stroke-width="0.25" text-anchor="middle" font-size="12">3</text>
<text x="378.1" y="472.5" fill="#2a2a2a" stroke="#2a2a2a" stroke-width="0.25" text-anchor="middle" font-size="12">3</text>
<rect x="380" y="480.1" width="14.1" height="33.4" fill="#ffffff"/>
<rect x="394.1" y="480.1" width="14.1" height="33.4" fill="#ffffff"/>
<rect x="408.2" y="480.1" width="14.1" height="33.4" fill="#ffffff"/>
<rect x="380.5" y="480.6" width="41.3" height="32.4" fill="none" stroke="#555" stroke-width="1"/>
<line x1="394.1" y1="480.1" x2="394.1" y2="513.5" stroke="#555" stroke-width="1"/>
<line x1="408.2" y1="480.1" x2="408.2" y2="513.5" stroke="#555" stroke-width="1"/>
<text x="387.1" y="493.9" fill="#2a2a2a" stroke="#2a2a2a" stroke-width="0.25" text-anchor="middle" font-size="12">2</text>
<text x="401.2" y="493.9" fill="#2a2a2a" stroke="#2a2a2a" stroke-width="0.25" text-anchor="middle" font-size="12">2</text>
<text x="415.2" y="493.9" fill="#2a2a2a" stroke="#2a2a2a" stroke-width="0.25" text-anchor="middle" font-size="12">2</text>
<rect x="419.6" y="458.7" width="14.1" height="33.4" fill="#ffffff"/>
<rect x="433.7" y="458.7" width="14.1" height="33.4" fill="#ffffff"/>
<rect x="447.8" y="458.7" width="14.1" height="33.4" fill="#ffffff"/>
<rect x="420.1" y="459.2" width="41.3" height="32.4" fill="none" stroke="#555" stroke-width="1"/>
<line x1="433.7" y1="458.7" x2="433.7" y2="492.1" stroke="#555" stroke-width="1"/>
<line x1="447.8" y1="458.7" x2="447.8" y2="492.1" stroke="#555" stroke-width="1"/>
<text x="426.7" y="472.5" fill="#2a2a2a" stroke="#2a2a2a" stroke-width="0.25" text-anchor="middle" font-size="12">3</text>
<text x="440.8" y="472.5" fill="#2a2a2a" stroke="#2a2a2a" stroke-width="0.25" text-anchor="middle" font-size="12">2</text>
<text x="454.9" y="472.5" fill="#2a2a2a" stroke="#2a2a2a" stroke-width="0.25" text-anchor="middle" font-size="12">3</text>
<rect x="462.3" y="458.7" width="14.1" height="33.4" fill="#ffffff"/>
<rect x="476.4" y="458.7" width="14.1" height="33.4" fill="#ffffff"/>
<rect x="490.5" y="458.7" width="14.1" height="33.4" fill="#ffffff"/>
<rect x="462.8" y="459.2" width="41.3" height="32.4" fill="none" stroke="#555" stroke-width="1"/>
<line x1="476.4" y1="458.7" x2="476.4" y2="492.1" stroke="#555" stroke-width="1"/>
<line x1="490.5" y1="458.7" x2="490.5" y2="492.1" stroke="#555" stroke-width="1"/>
<text x="469.4" y="472.5" fill="#2a2a2a" stroke="#2a2a2a" stroke-width="0.25" text-anchor="middle" font-size="12">2</text>
<text x="483.5" y="472.5" fill="#2a2a2a" stroke="#2a2a2a" stroke-width="0.25" text-anchor="middle" font-size="12">2</text>
<text x="497.6" y="472.5" fill="#2a2a2a" stroke="#2a2a2a" stroke-width="0.25" text-anchor="middle" font-size="12">3</text>
<rect x="502.2" y="480.1" width="14.1" height="33.4" fill="#ffffff"/>
<rect x="516.3" y="480.1" width="14.1" height="33.4" fill="#ffffff"/>
<rect x="530.4" y="480.1" width="14.1" height="33.4" fill="#ffffff"/>
<rect x="502.7" y="480.6" width="41.3" height="32.4" fill="none" stroke="#555" stroke-width="1"/>
<line x1="516.3" y1="480.1" x2="516.3" y2="513.5" stroke="#555" stroke-width="1"/>
<line x1="530.4" y1="480.1" x2="530.4" y2="513.5" stroke="#555" stroke-width="1"/>
<text x="509.2" y="493.9" fill="#2a2a2a" stroke="#2a2a2a" stroke-width="0.25" text-anchor="middle" font-size="12">2</text>
<text x="523.3" y="493.9" fill="#2a2a2a" stroke="#2a2a2a" stroke-width="0.25" text-anchor="middle" font-size="12">2</text>
<text x="537.4" y="493.9" fill="#2a2a2a" stroke="#2a2a2a" stroke-width="0.25" text-anchor="middle" font-size="12">2</text>
<rect x="542" y="458.7" width="14.1" height="33.4" fill="#ffffff"/>
<rect x="556.1" y="458.7" width="14.1" height="33.4" fill="#ffffff"/>
<rect x="570.2" y="458.7" width="14.1" height="33.4" fill="#ffffff"/>
<rect x="542.5" y="459.2" width="41.3" height="32.4" fill="none" stroke="#555" stroke-width="1"/>
<line x1="556.1" y1="458.7" x2="556.1" y2="492.1" stroke="#555" stroke-width="1"/>
<line x1="570.2" y1="458.7" x2="570.2" y2="492.1" stroke="#555" stroke-width="1"/>
<text x="549" y="472.5" fill="#2a2a2a" stroke="#2a2a2a" stroke-width="0.25" text-anchor="middle" font-size="12">3</text>
<text x="563.1" y="472.5" fill="#2a2a2a" stroke="#2a2a2a" stroke-width="0.25" text-anchor="middle" font-size="12">2</text>
<text x="577.2" y="472.5" fill="#2a2a2a" stroke="#2a2a2a" stroke-width="0.25" text-anchor="middle" font-size="12">3</text>
<rect x="581.3" y="480.1" width="14.1" height="33.4" fill="#ff6a00"/>
<rect x="595.4" y="480.1" width="14.1" height="33.4" fill="#ff6a00"/>
<rect x="609.5" y="480.1" width="14.1" height="33.4" fill="#a60000"/>
<rect x="581.8" y="480.6" width="41.3" height="32.4" fill="none" stroke="#5a2a10" stroke-width="1"/>
<line x1="595.4" y1="480.1" x2="595.4" y2="513.5" stroke="#5a2a10" stroke-width="1"/>
<line x1="609.5" y1="480.1" x2="609.5" y2="513.5" stroke="#5a2a10" stroke-width="1"/>
<text x="588.3" y="493.9" fill="#fff0e0" stroke="#fff0e0" stroke-width="0.25" text-anchor="middle" font-size="12">4</text>
<text x="602.4" y="493.9" fill="#fff0e0" stroke="#fff0e0" stroke-width="0.25" text-anchor="middle" font-size="12">4</text>
<text x="616.5" y="493.9" fill="#fff0e0" stroke="#fff0e0" stroke-width="0.25" text-anchor="middle" font-size="12">5</text>
<rect x="622.5" y="458.7" width="14.1" height="33.4" fill="#a60000"/>
<rect x="636.6" y="458.7" width="14.1" height="33.4" fill="#ff6a00"/>
<rect x="650.7" y="458.7" width="14.1" height="33.4" fill="#ff6a00"/>
<rect x="623" y="459.2" width="41.3" height="32.4" fill="none" stroke="#5a2a10" stroke-width="1"/>
<line x1="636.6" y1="458.7" x2="636.6" y2="492.1" stroke="#5a2a10" stroke-width="1"/>
<line x1="650.7" y1="458.7" x2="650.7" y2="492.1" stroke="#5a2a10" stroke-width="1"/>
<text x="629.5" y="472.5" fill="#fff0e0" stroke="#fff0e0" stroke-width="0.25" text-anchor="middle" font-size="12">5</text>
<text x="643.6" y="472.5" fill="#fff0e0" stroke="#fff0e0" stroke-width="0.25" text-anchor="middle" font-size="12">4</text>
<text x="657.8" y="472.5" fill="#fff0e0" stroke="#fff0e0" stroke-width="0.25" text-anchor="middle" font-size="12">4</text>
<rect x="677.5" y="458.7" width="14.1" height="33.4" fill="#ffffff"/>
<rect x="691.6" y="458.7" width="14.1" height="33.4" fill="#ffffff"/>
<rect x="705.7" y="458.7" width="14.1" height="33.4" fill="#ffffff"/>
<rect x="678" y="459.2" width="41.3" height="32.4" fill="none" stroke="#555" stroke-width="1"/>
<line x1="691.6" y1="458.7" x2="691.6" y2="492.1" stroke="#555" stroke-width="1"/>
<line x1="705.7" y1="458.7" x2="705.7" y2="492.1" stroke="#555" stroke-width="1"/>
<text x="684.5" y="472.5" fill="#2a2a2a" stroke="#2a2a2a" stroke-width="0.25" text-anchor="middle" font-size="12">0</text>
<text x="698.6" y="472.5" fill="#2a2a2a" stroke="#2a2a2a" stroke-width="0.25" text-anchor="middle" font-size="12">0</text>
<text x="712.8" y="472.5" fill="#2a2a2a" stroke="#2a2a2a" stroke-width="0.25" text-anchor="middle" font-size="12">0</text>
<rect x="742.3" y="458.7" width="14.1" height="33.4" fill="#ffffff"/>
<rect x="756.4" y="458.7" width="14.1" height="33.4" fill="#ffffff"/>
<rect x="770.5" y="458.7" width="14.1" height="33.4" fill="#ffffff"/>
<rect x="742.8" y="459.2" width="41.3" height="32.4" fill="none" stroke="#555" stroke-width="1"/>
<line x1="756.4" y1="458.7" x2="756.4" y2="492.1" stroke="#555" stroke-width="1"/>
<line x1="770.5" y1="458.7" x2="770.5" y2="492.1" stroke="#555" stroke-width="1"/>
<text x="749.3" y="472.5" fill="#2a2a2a" stroke="#2a2a2a" stroke-width="0.25" text-anchor="middle" font-size="12">0</text>
<text x="763.4" y="472.5" fill="#2a2a2a" stroke="#2a2a2a" stroke-width="0.25" text-anchor="middle" font-size="12">0</text>
<text x="777.5" y="472.5" fill="#2a2a2a" stroke="#2a2a2a" stroke-width="0.25" text-anchor="middle" font-size="12">0</text>
<rect x="807" y="458.7" width="14.1" height="33.4" fill="#ffffff"/>
<rect x="821.1" y="458.7" width="14.1" height="33.4" fill="#ffffff"/>
<rect x="835.2" y="458.7" width="14.1" height="33.4" fill="#ffffff"/>
<rect x="807.5" y="459.2" width="41.3" height="32.4" fill="none" stroke="#555" stroke-width="1"/>
<line x1="821.1" y1="458.7" x2="821.1" y2="492.1" stroke="#555" stroke-width="1"/>
<line x1="835.2" y1="458.7" x2="835.2" y2="492.1" stroke="#555" stroke-width="1"/>
<text x="814" y="472.5" fill="#2a2a2a" stroke="#2a2a2a" stroke-width="0.25" text-anchor="middle" font-size="12">0</text>
<text x="828.1" y="472.5" fill="#2a2a2a" stroke="#2a2a2a" stroke-width="0.25" text-anchor="middle" font-size="12">0</text>
<text x="842.2" y="472.5" fill="#2a2a2a" stroke="#2a2a2a" stroke-width="0.25" text-anchor="middle" font-size="12">0</text>
<rect x="78.9" y="882.5" width="14.1" height="33.4" fill="#ffffff"/>
<rect x="93" y="882.5" width="14.1" height="33.4" fill="#ffffff"/>
<rect x="107.1" y="882.5" width="14.1" height="33.4" fill="#ffffff"/>
<rect x="79.4" y="883" width="41.3" height="32.4" fill="none" stroke="#555" stroke-width="1"/>
<line x1="93" y1="882.5" x2="93" y2="915.9" stroke="#555" stroke-width="1"/>
<line x1="107.1" y1="882.5" x2="107.1" y2="915.9" stroke="#555" stroke-width="1"/>
<text x="86" y="896.3" fill="#2a2a2a" stroke="#2a2a2a" stroke-width="0.25" text-anchor="middle" font-size="12">0</text>
<text x="100" y="896.3" fill="#2a2a2a" stroke="#2a2a2a" stroke-width="0.25" text-anchor="middle" font-size="12">0</text>
<text x="114.2" y="896.3" fill="#2a2a2a" stroke="#2a2a2a" stroke-width="0.25" text-anchor="middle" font-size="12">0</text>
<rect x="144.3" y="882.5" width="14.1" height="33.4" fill="#a60000"/>
<rect x="158.4" y="882.5" width="14.1" height="33.4" fill="#a60000"/>
<rect x="172.5" y="882.5" width="14.1" height="33.4" fill="#a60000"/>
<rect x="144.8" y="883" width="41.3" height="32.4" fill="none" stroke="#5a2a10" stroke-width="1"/>
<line x1="158.4" y1="882.5" x2="158.4" y2="915.9" stroke="#5a2a10" stroke-width="1"/>
<line x1="172.5" y1="882.5" x2="172.5" y2="915.9" stroke="#5a2a10" stroke-width="1"/>
<text x="151.4" y="896.3" fill="#fff0e0" stroke="#fff0e0" stroke-width="0.25" text-anchor="middle" font-size="12">5</text>
<text x="165.5" y="896.3" fill="#fff0e0" stroke="#fff0e0" stroke-width="0.25" text-anchor="middle" font-size="12">5</text>
<text x="179.6" y="896.3" fill="#fff0e0" stroke="#fff0e0" stroke-width="0.25" text-anchor="middle" font-size="12">5</text>
<rect x="207.8" y="882.5" width="14.1" height="33.4" fill="#a60000"/>
<rect x="221.9" y="882.5" width="14.1" height="33.4" fill="#ff6a00"/>
<rect x="236" y="882.5" width="14.1" height="33.4" fill="#a60000"/>
<rect x="208.3" y="883" width="41.3" height="32.4" fill="none" stroke="#5a2a10" stroke-width="1"/>
<line x1="221.9" y1="882.5" x2="221.9" y2="915.9" stroke="#5a2a10" stroke-width="1"/>
<line x1="236" y1="882.5" x2="236" y2="915.9" stroke="#5a2a10" stroke-width="1"/>
<text x="214.9" y="896.3" fill="#fff0e0" stroke="#fff0e0" stroke-width="0.25" text-anchor="middle" font-size="12">5</text>
<text x="229" y="896.3" fill="#fff0e0" stroke="#fff0e0" stroke-width="0.25" text-anchor="middle" font-size="12">4</text>
<text x="243.1" y="896.3" fill="#fff0e0" stroke="#fff0e0" stroke-width="0.25" text-anchor="middle" font-size="12">5</text>
<rect x="261.3" y="882.5" width="14.1" height="33.4" fill="#ff6a00"/>
<rect x="275.4" y="882.5" width="14.1" height="33.4" fill="#ff6a00"/>
<rect x="289.5" y="882.5" width="14.1" height="33.4" fill="#ff6a00"/>
<rect x="261.8" y="883" width="41.3" height="32.4" fill="none" stroke="#5a2a10" stroke-width="1"/>
<line x1="275.4" y1="882.5" x2="275.4" y2="915.9" stroke="#5a2a10" stroke-width="1"/>
<line x1="289.5" y1="882.5" x2="289.5" y2="915.9" stroke="#5a2a10" stroke-width="1"/>
<text x="268.4" y="896.3" fill="#fff0e0" stroke="#fff0e0" stroke-width="0.25" text-anchor="middle" font-size="12">4</text>
<text x="282.5" y="896.3" fill="#fff0e0" stroke="#fff0e0" stroke-width="0.25" text-anchor="middle" font-size="12">4</text>
<text x="296.6" y="896.3" fill="#fff0e0" stroke="#fff0e0" stroke-width="0.25" text-anchor="middle" font-size="12">4</text>
<rect x="303.4" y="866.5" width="14.1" height="33.4" fill="#a60000"/>
<rect x="317.5" y="866.5" width="14.1" height="33.4" fill="#ff6a00"/>
<rect x="331.6" y="866.5" width="14.1" height="33.4" fill="#ff6a00"/>
<rect x="303.9" y="867" width="41.3" height="32.4" fill="none" stroke="#5a2a10" stroke-width="1"/>
<line x1="317.5" y1="866.5" x2="317.5" y2="899.9" stroke="#5a2a10" stroke-width="1"/>
<line x1="331.6" y1="866.5" x2="331.6" y2="899.9" stroke="#5a2a10" stroke-width="1"/>
<text x="310.4" y="880.3" fill="#fff0e0" stroke="#fff0e0" stroke-width="0.25" text-anchor="middle" font-size="12">5</text>
<text x="324.6" y="880.3" fill="#fff0e0" stroke="#fff0e0" stroke-width="0.25" text-anchor="middle" font-size="12">4</text>
<text x="338.6" y="880.3" fill="#fff0e0" stroke="#fff0e0" stroke-width="0.25" text-anchor="middle" font-size="12">4</text>
<rect x="342.9" y="882.5" width="14.1" height="33.4" fill="#ff6a00"/>
<rect x="357" y="882.5" width="14.1" height="33.4" fill="#ff6a00"/>
<rect x="371.1" y="882.5" width="14.1" height="33.4" fill="#a60000"/>
<rect x="343.4" y="883" width="41.3" height="32.4" fill="none" stroke="#5a2a10" stroke-width="1"/>
<line x1="357" y1="882.5" x2="357" y2="915.9" stroke="#5a2a10" stroke-width="1"/>
<line x1="371.1" y1="882.5" x2="371.1" y2="915.9" stroke="#5a2a10" stroke-width="1"/>
<text x="349.9" y="896.3" fill="#fff0e0" stroke="#fff0e0" stroke-width="0.25" text-anchor="middle" font-size="12">4</text>
<text x="364.1" y="896.3" fill="#fff0e0" stroke="#fff0e0" stroke-width="0.25" text-anchor="middle" font-size="12">4</text>
<text x="378.1" y="896.3" fill="#fff0e0" stroke="#fff0e0" stroke-width="0.25" text-anchor="middle" font-size="12">5</text>
<rect x="380.5" y="866.5" width="14.1" height="33.4" fill="#a60000"/>
<rect x="394.6" y="866.5" width="14.1" height="33.4" fill="#ffffff"/>
<rect x="408.7" y="866.5" width="14.1" height="33.4" fill="#ffffff"/>
<rect x="381" y="867" width="41.3" height="32.4" fill="none" stroke="#5a2a10" stroke-width="1"/>
<line x1="394.6" y1="866.5" x2="394.6" y2="899.9" stroke="#5a2a10" stroke-width="1"/>
<line x1="408.7" y1="866.5" x2="408.7" y2="899.9" stroke="#5a2a10" stroke-width="1"/>
<text x="387.6" y="880.3" fill="#fff0e0" stroke="#fff0e0" stroke-width="0.25" text-anchor="middle" font-size="12">5</text>
<text x="401.7" y="880.3" fill="#2a2a2a" stroke="#2a2a2a" stroke-width="0.25" text-anchor="middle" font-size="12">3</text>
<text x="415.8" y="880.3" fill="#2a2a2a" stroke="#2a2a2a" stroke-width="0.25" text-anchor="middle" font-size="12">3</text>
<rect x="419.4" y="882.5" width="14.1" height="33.4" fill="#ffffff"/>
<rect x="433.5" y="882.5" width="14.1" height="33.4" fill="#ffffff"/>
<rect x="447.6" y="882.5" width="14.1" height="33.4" fill="#ffffff"/>
<rect x="419.9" y="883" width="41.3" height="32.4" fill="none" stroke="#555" stroke-width="1"/>
<line x1="433.5" y1="882.5" x2="433.5" y2="915.9" stroke="#555" stroke-width="1"/>
<line x1="447.6" y1="882.5" x2="447.6" y2="915.9" stroke="#555" stroke-width="1"/>
<text x="426.4" y="896.3" fill="#2a2a2a" stroke="#2a2a2a" stroke-width="0.25" text-anchor="middle" font-size="12">3</text>
<text x="440.6" y="896.3" fill="#2a2a2a" stroke="#2a2a2a" stroke-width="0.25" text-anchor="middle" font-size="12">3</text>
<text x="454.6" y="896.3" fill="#2a2a2a" stroke="#2a2a2a" stroke-width="0.25" text-anchor="middle" font-size="12">3</text>
<rect x="462.3" y="882.5" width="14.1" height="33.4" fill="#ffffff"/>
<rect x="476.4" y="882.5" width="14.1" height="33.4" fill="#ffffff"/>
<rect x="490.5" y="882.5" width="14.1" height="33.4" fill="#ffffff"/>
<rect x="462.8" y="883" width="41.3" height="32.4" fill="none" stroke="#555" stroke-width="1"/>
<line x1="476.4" y1="882.5" x2="476.4" y2="915.9" stroke="#555" stroke-width="1"/>
<line x1="490.5" y1="882.5" x2="490.5" y2="915.9" stroke="#555" stroke-width="1"/>
<text x="469.4" y="896.3" fill="#2a2a2a" stroke="#2a2a2a" stroke-width="0.25" text-anchor="middle" font-size="12">3</text>
<text x="483.5" y="896.3" fill="#2a2a2a" stroke="#2a2a2a" stroke-width="0.25" text-anchor="middle" font-size="12">2</text>
<text x="497.6" y="896.3" fill="#2a2a2a" stroke="#2a2a2a" stroke-width="0.25" text-anchor="middle" font-size="12">3</text>
<rect x="502.5" y="866.5" width="14.1" height="33.4" fill="#ffffff"/>
<rect x="516.6" y="866.5" width="14.1" height="33.4" fill="#ffffff"/>
<rect x="530.7" y="866.5" width="14.1" height="33.4" fill="#ffffff"/>
<rect x="503" y="867" width="41.3" height="32.4" fill="none" stroke="#555" stroke-width="1"/>
<line x1="516.6" y1="866.5" x2="516.6" y2="899.9" stroke="#555" stroke-width="1"/>
<line x1="530.7" y1="866.5" x2="530.7" y2="899.9" stroke="#555" stroke-width="1"/>
<text x="509.6" y="880.3" fill="#2a2a2a" stroke="#2a2a2a" stroke-width="0.25" text-anchor="middle" font-size="12">3</text>
<text x="523.6" y="880.3" fill="#2a2a2a" stroke="#2a2a2a" stroke-width="0.25" text-anchor="middle" font-size="12">2</text>
<text x="537.8" y="880.3" fill="#2a2a2a" stroke="#2a2a2a" stroke-width="0.25" text-anchor="middle" font-size="12">3</text>
<rect x="543" y="882.5" width="14.1" height="33.4" fill="#ff6a00"/>
<rect x="557.1" y="882.5" width="14.1" height="33.4" fill="#ffffff"/>
<rect x="571.2" y="882.5" width="14.1" height="33.4" fill="#ff6a00"/>
<rect x="543.5" y="883" width="41.3" height="32.4" fill="none" stroke="#5a2a10" stroke-width="1"/>
<line x1="557.1" y1="882.5" x2="557.1" y2="915.9" stroke="#5a2a10" stroke-width="1"/>
<line x1="571.2" y1="882.5" x2="571.2" y2="915.9" stroke="#5a2a10" stroke-width="1"/>
<text x="550" y="896.3" fill="#fff0e0" stroke="#fff0e0" stroke-width="0.25" text-anchor="middle" font-size="12">4</text>
<text x="564.1" y="896.3" fill="#2a2a2a" stroke="#2a2a2a" stroke-width="0.25" text-anchor="middle" font-size="12">3</text>
<text x="578.2" y="896.3" fill="#fff0e0" stroke="#fff0e0" stroke-width="0.25" text-anchor="middle" font-size="12">4</text>
<rect x="581.2" y="866.5" width="14.1" height="33.4" fill="#ff6a00"/>
<rect x="595.3" y="866.5" width="14.1" height="33.4" fill="#ff6a00"/>
<rect x="609.4" y="866.5" width="14.1" height="33.4" fill="#ff6a00"/>
<rect x="581.7" y="867" width="41.3" height="32.4" fill="none" stroke="#5a2a10" stroke-width="1"/>
<line x1="595.3" y1="866.5" x2="595.3" y2="899.9" stroke="#5a2a10" stroke-width="1"/>
<line x1="609.4" y1="866.5" x2="609.4" y2="899.9" stroke="#5a2a10" stroke-width="1"/>
<text x="588.2" y="880.3" fill="#fff0e0" stroke="#fff0e0" stroke-width="0.25" text-anchor="middle" font-size="12">4</text>
<text x="602.4" y="880.3" fill="#fff0e0" stroke="#fff0e0" stroke-width="0.25" text-anchor="middle" font-size="12">4</text>
<text x="616.5" y="880.3" fill="#fff0e0" stroke="#fff0e0" stroke-width="0.25" text-anchor="middle" font-size="12">4</text>
<rect x="622.3" y="882.5" width="14.1" height="33.4" fill="#ff6a00"/>
<rect x="636.4" y="882.5" width="14.1" height="33.4" fill="#ff6a00"/>
<rect x="650.5" y="882.5" width="14.1" height="33.4" fill="#ff6a00"/>
<rect x="622.8" y="883" width="41.3" height="32.4" fill="none" stroke="#5a2a10" stroke-width="1"/>
<line x1="636.4" y1="882.5" x2="636.4" y2="915.9" stroke="#5a2a10" stroke-width="1"/>
<line x1="650.5" y1="882.5" x2="650.5" y2="915.9" stroke="#5a2a10" stroke-width="1"/>
<text x="629.3" y="896.3" fill="#fff0e0" stroke="#fff0e0" stroke-width="0.25" text-anchor="middle" font-size="12">4</text>
<text x="643.4" y="896.3" fill="#fff0e0" stroke="#fff0e0" stroke-width="0.25" text-anchor="middle" font-size="12">4</text>
<text x="657.5" y="896.3" fill="#fff0e0" stroke="#fff0e0" stroke-width="0.25" text-anchor="middle" font-size="12">4</text>
<rect x="677.6" y="882.5" width="14.1" height="33.4" fill="#ffffff"/>
<rect x="691.7" y="882.5" width="14.1" height="33.4" fill="#ffffff"/>
<rect x="705.8" y="882.5" width="14.1" height="33.4" fill="#ffffff"/>
<rect x="678.1" y="883" width="41.3" height="32.4" fill="none" stroke="#555" stroke-width="1"/>
<line x1="691.7" y1="882.5" x2="691.7" y2="915.9" stroke="#555" stroke-width="1"/>
<line x1="705.8" y1="882.5" x2="705.8" y2="915.9" stroke="#555" stroke-width="1"/>
<text x="684.6" y="896.3" fill="#2a2a2a" stroke="#2a2a2a" stroke-width="0.25" text-anchor="middle" font-size="12">0</text>
<text x="698.8" y="896.3" fill="#2a2a2a" stroke="#2a2a2a" stroke-width="0.25" text-anchor="middle" font-size="12">0</text>
<text x="712.9" y="896.3" fill="#2a2a2a" stroke="#2a2a2a" stroke-width="0.25" text-anchor="middle" font-size="12">0</text>
<rect x="742.4" y="882.5" width="14.1" height="33.4" fill="#ffffff"/>
<rect x="756.5" y="882.5" width="14.1" height="33.4" fill="#ffffff"/>
<rect x="770.6" y="882.5" width="14.1" height="33.4" fill="#ffffff"/>
<rect x="742.9" y="883" width="41.3" height="32.4" fill="none" stroke="#555" stroke-width="1"/>
<line x1="756.5" y1="882.5" x2="756.5" y2="915.9" stroke="#555" stroke-width="1"/>
<line x1="770.6" y1="882.5" x2="770.6" y2="915.9" stroke="#555" stroke-width="1"/>
<text x="749.4" y="896.3" fill="#2a2a2a" stroke="#2a2a2a" stroke-width="0.25" text-anchor="middle" font-size="12">0</text>
<text x="763.5" y="896.3" fill="#2a2a2a" stroke="#2a2a2a" stroke-width="0.25" text-anchor="middle" font-size="12">0</text>
<text x="777.6" y="896.3" fill="#2a2a2a" stroke="#2a2a2a" stroke-width="0.25" text-anchor="middle" font-size="12">0</text>
<rect x="807" y="882.5" width="14.1" height="33.4" fill="#ffffff"/>
<rect x="821.1" y="882.5" width="14.1" height="33.4" fill="#ffffff"/>
<rect x="835.2" y="882.5" width="14.1" height="33.4" fill="#ffffff"/>
<rect x="807.5" y="883" width="41.3" height="32.4" fill="none" stroke="#555" stroke-width="1"/>
<line x1="821.1" y1="882.5" x2="821.1" y2="915.9" stroke="#555" stroke-width="1"/>
<line x1="835.2" y1="882.5" x2="835.2" y2="915.9" stroke="#555" stroke-width="1"/>
<text x="814" y="896.3" fill="#2a2a2a" stroke="#2a2a2a" stroke-width="0.25" text-anchor="middle" font-size="12">0</text>
<text x="828.1" y="896.3" fill="#2a2a2a" stroke="#2a2a2a" stroke-width="0.25" text-anchor="middle" font-size="12">0</text>
<text x="842.2" y="896.3" fill="#2a2a2a" stroke="#2a2a2a" stroke-width="0.25" text-anchor="middle" font-size="12">0</text>
<text x="50.5" y="34.4" font-size="12.5" font-weight="bold" fill="#333">ST</text>
<text x="50.5" y="435.6" font-size="12.5" font-weight="bold" fill="#333">ST</text>
<text x="50.5" y="497.7" font-size="12.5" font-weight="bold" fill="#333">ST</text>
<text x="50.5" y="896.9" font-size="12.5" font-weight="bold" fill="#333">ST</text>
</g></svg>
</body></html>
